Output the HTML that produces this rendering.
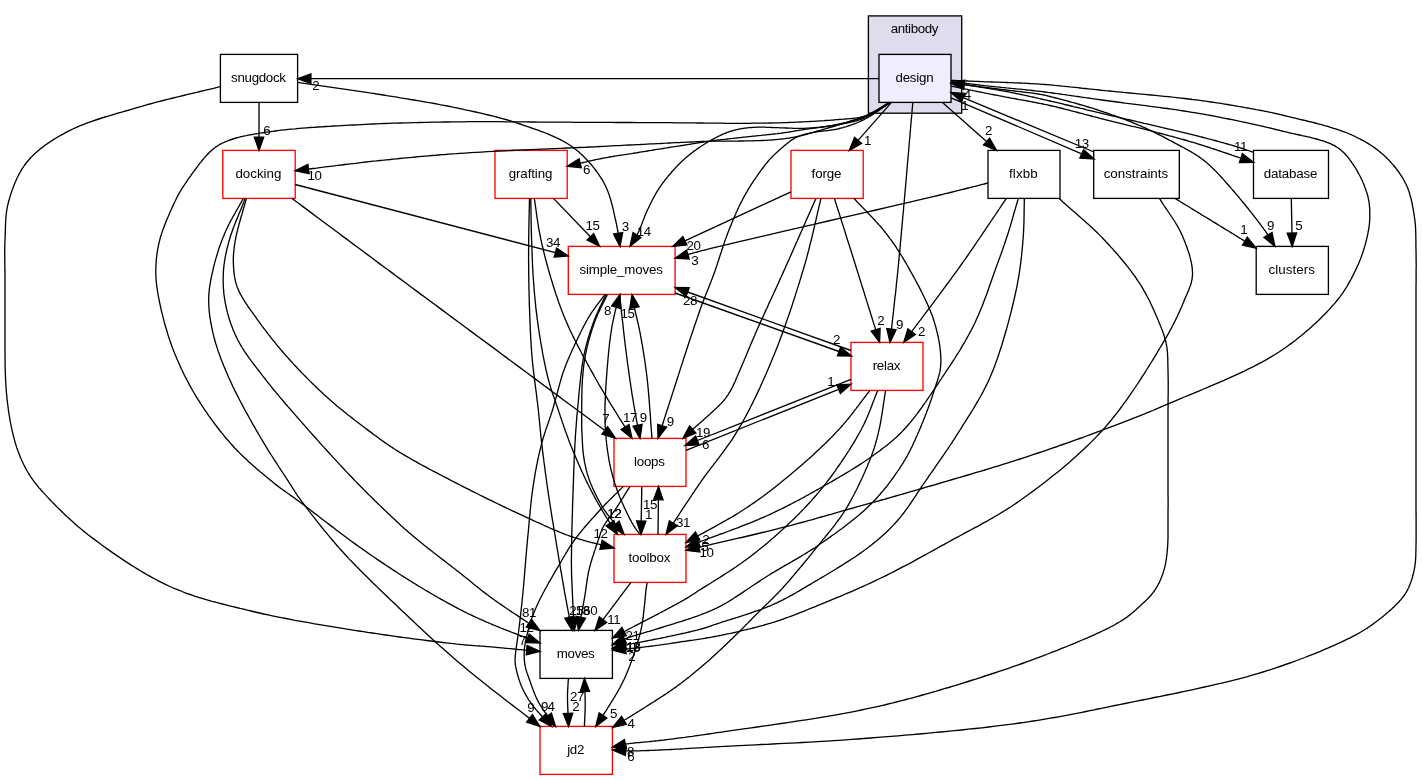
<!DOCTYPE html>
<html><head><meta charset="utf-8"><title>design</title>
<style>
html,body{margin:0;padding:0;background:#fff;}
svg{display:block;will-change:transform;}
text{font-family:"Liberation Sans",sans-serif;font-size:13.33px;fill:#000;}
.e{fill:none;stroke:#000;stroke-width:1.33;}
.a{fill:#000;stroke:#000;stroke-width:1.33;stroke-linejoin:miter;}
</style></head><body>
<svg width="1422" height="780" viewBox="0 0 1422 780">
<rect x="0" y="0" width="1422" height="780" fill="#fff"/>
<rect x="868.4" y="15.9" width="93.3" height="97.3" fill="#ddddee" stroke="#000" stroke-width="1.33"/>
<text x="914.4" y="33.4" text-anchor="middle" letter-spacing="-0.4">antibody</text>
<rect x="879" y="54.4" width="72" height="48" fill="#eeeeff" stroke="#000" stroke-width="1.33"/>
<text x="914.4" y="82.4" text-anchor="middle" letter-spacing="-0.24">design</text>
<rect x="220.4" y="54.4" width="77.2" height="48" fill="#fff" stroke="#000" stroke-width="1.33"/>
<text x="258.4" y="82.4" text-anchor="middle" letter-spacing="-0.31">snugdock</text>
<rect x="222.8" y="150.4" width="72.4" height="48" fill="#fff" stroke="#ff0000" stroke-width="1.33"/>
<text x="258.4" y="178.4" text-anchor="middle" letter-spacing="0">docking</text>
<rect x="495" y="150.4" width="72.2" height="48" fill="#fff" stroke="#ff0000" stroke-width="1.33"/>
<text x="530.5" y="178.4" text-anchor="middle" letter-spacing="-0.1">grafting</text>
<rect x="791" y="150.4" width="72.2" height="48" fill="#fff" stroke="#ff0000" stroke-width="1.33"/>
<text x="826.5" y="178.4" text-anchor="middle" letter-spacing="-0.1">forge</text>
<rect x="988" y="150.4" width="72" height="48" fill="#fff" stroke="#000" stroke-width="1.33"/>
<text x="1023.4" y="178.4" text-anchor="middle" letter-spacing="0.1">flxbb</text>
<rect x="1093.7" y="150.4" width="85.6" height="48" fill="#fff" stroke="#000" stroke-width="1.33"/>
<text x="1135.9" y="178.4" text-anchor="middle" letter-spacing="0">constraints</text>
<rect x="1253.5" y="150.4" width="75" height="48" fill="#fff" stroke="#000" stroke-width="1.33"/>
<text x="1290.4" y="178.4" text-anchor="middle" letter-spacing="-0.17">database</text>
<rect x="568.3" y="246.4" width="106.8" height="48" fill="#fff" stroke="#ff0000" stroke-width="1.33"/>
<text x="621.1" y="274.4" text-anchor="middle" letter-spacing="-0.16">simple_moves</text>
<rect x="1256.2" y="246.4" width="72.2" height="48" fill="#fff" stroke="#000" stroke-width="1.33"/>
<text x="1291.7" y="274.4" text-anchor="middle" letter-spacing="0.06">clusters</text>
<rect x="851" y="342.4" width="72" height="48" fill="#fff" stroke="#ff0000" stroke-width="1.33"/>
<text x="886.4" y="370.4" text-anchor="middle" letter-spacing="-0.27">relax</text>
<rect x="614" y="438.4" width="72" height="48" fill="#fff" stroke="#ff0000" stroke-width="1.33"/>
<text x="649.4" y="466.4" text-anchor="middle" letter-spacing="-0.25">loops</text>
<rect x="614" y="534.4" width="72" height="48" fill="#fff" stroke="#ff0000" stroke-width="1.33"/>
<text x="649.4" y="562.4" text-anchor="middle" letter-spacing="-0.18">toolbox</text>
<rect x="540" y="630.4" width="72.4" height="48" fill="#fff" stroke="#000" stroke-width="1.33"/>
<text x="575.6" y="658.4" text-anchor="middle" letter-spacing="-0.32">moves</text>
<rect x="540" y="726.4" width="72.4" height="48" fill="#fff" stroke="#ff0000" stroke-width="1.33"/>
<text x="575.6" y="754.4" text-anchor="middle" letter-spacing="-0.35">jd2</text>
<path class="e" d="M879,78.7 L310.9,78.7"/>
<polygon class="a" points="310.9,74 297.6,78.7 310.9,83.4"/>
<path class="e" d="M890,102.4 L889.1,102.9 L888.2,103.4 L887.2,103.9 L886.3,104.5 L885.4,105 L884.5,105.5 L883.5,106.1 L882.6,106.6 L881.7,107.1 L880.8,107.7 L879.8,108.2 L878.9,108.7 L878,109.3 L877.1,109.8 L876.1,110.3 L875.2,110.8 L874.3,111.3 L873.4,111.8 L872.5,112.3 L871.6,112.8 L870.7,113.2 L869.8,113.7 L868.9,114.1 L868,114.5 L867.2,114.9 L866.5,115.2 L865.7,115.5 L865,115.8 L864.3,116.1 L863.5,116.4 L862.8,116.7 L862.1,117 L861.4,117.3 L860.7,117.6 L860,117.8 L859.2,118.1 L858.5,118.4 L857.8,118.6 L857.1,118.9 L856.3,119.1 L855.6,119.4 L854.8,119.7 L854.1,119.9 L853.3,120.2 L852.5,120.5 L851.7,120.7 L850.8,121 L850,121.3 L848.9,121.7 L847.7,122.1 L846.5,122.5 L845.3,122.8 L844,123.2 L842.8,123.6 L841.5,124 L840.1,124.4 L838.8,124.8 L837.5,125.2 L836.1,125.7 L834.8,126.1 L833.4,126.5 L832,126.9 L830.7,127.3 L829.3,127.6 L828,128 L826.6,128.4 L825.3,128.8 L824,129.2 L822.7,129.5 L821.5,129.9 L820.2,130.3 L819,130.6 L818,130.9 L817,131.2 L816,131.5 L815,131.8 L814,132.1 L813,132.3 L812.1,132.6 L811.1,132.9 L810.1,133.2 L809.2,133.5 L808.3,133.7 L807.3,134 L806.4,134.3 L805.4,134.5 L804.5,134.8 L803.6,135 L802.6,135.3 L801.7,135.5 L800.8,135.7 L799.8,136 L798.9,136.2 L797.9,136.4 L797,136.6 L796,136.8 L795,137 L794.1,137.2 L793.1,137.3 L792.2,137.5 L791.3,137.7 L790.3,137.8 L789.4,138 L788.4,138.1 L787.5,138.3 L786.5,138.4 L785.6,138.5 L784.6,138.7 L783.7,138.8 L782.7,138.9 L781.8,139 L780.8,139.1 L779.8,139.2 L778.9,139.3 L777.9,139.4 L776.9,139.5 L775.9,139.6 L774.9,139.7 L773.8,139.8 L772.8,139.9 L771.6,140 L770.4,140.1 L769.2,140.2 L767.9,140.2 L766.7,140.3 L765.4,140.4 L764.1,140.4 L762.8,140.5 L761.5,140.5 L760.2,140.6 L758.9,140.6 L757.6,140.7 L756.3,140.7 L755,140.7 L753.7,140.8 L752.4,140.8 L751,140.8 L749.7,140.9 L748.4,140.9 L747.1,140.9 L745.8,140.9 L744.5,140.9 L743.2,141 L741.9,141 L740.6,141 L739.3,141 L738,141.1 L736.8,141.1 L735.5,141.1 L734.2,141.1 L732.9,141.1 L731.6,141.1 L730.3,141.1 L729,141.1 L727.7,141.1 L726.5,141.1 L725.2,141.1 L723.9,141.1 L722.6,141.1 L721.3,141.1 L720,141.1 L718.7,141.1 L717.4,141.1 L716.2,141.1 L714.9,141.1 L713.6,141.1 L712.3,141.2 L711,141.2 L709.7,141.2 L708.5,141.3 L707.2,141.3 L706,141.3 L704.8,141.4 L703.6,141.4 L702.4,141.5 L701.2,141.5 L700,141.6 L698.8,141.6 L697.6,141.7 L696.4,141.7 L695.2,141.8 L693.9,141.8 L692.7,141.9 L691.4,142 L690.1,142 L688.8,142.1 L687.4,142.2 L686,142.2 L684.6,142.3 L683.1,142.4 L681.6,142.4 L680,142.5 L677.4,142.6 L674.7,142.7 L671.9,142.9 L669.1,143 L666.1,143.2 L663.1,143.3 L660.1,143.5 L656.9,143.6 L653.7,143.8 L650.4,143.9 L647.1,144.1 L643.7,144.3 L640.3,144.5 L636.8,144.6 L633.3,144.8 L629.7,145 L626.1,145.2 L622.4,145.4 L618.8,145.6 L615.1,145.7 L611.3,145.9 L607.6,146.1 L603.8,146.3 L600,146.5 L594.9,146.8 L589.6,147 L584.1,147.3 L578.5,147.5 L572.7,147.8 L566.8,148 L560.8,148.3 L554.8,148.6 L548.6,148.8 L542.4,149.1 L536.2,149.4 L530,149.7 L523.8,149.9 L517.5,150.2 L511.3,150.5 L505.2,150.8 L499.1,151.1 L493.2,151.4 L487.3,151.7 L481.5,152.1 L475.9,152.4 L470.4,152.7 L465.1,153.1 L460,153.4 L456.2,153.7 L452.6,153.9 L448.9,154.2 L445.4,154.5 L441.9,154.7 L438.5,155 L435.1,155.3 L431.8,155.5 L428.5,155.8 L425.2,156.1 L422,156.4 L418.7,156.7 L415.5,157 L412.4,157.3 L409.2,157.6 L406,157.9 L402.8,158.2 L399.6,158.5 L396.4,158.8 L393.2,159.1 L390,159.5 L386.7,159.8 L383.4,160.2 L380,160.5 L376.5,160.9 L373,161.2 L369.5,161.6 L366,162 L362.5,162.4 L359,162.8 L355.4,163.3 L351.9,163.7 L348.4,164.1 L344.8,164.5 L341.3,165 L337.7,165.4 L334.2,165.9 L330.7,166.3 L327.1,166.7 L323.6,167.2 L320,167.6 L316.5,168.1 L312.9,168.5 L309.4,169 L308.4,169.1"/>
<polygon class="a" points="307.9,164.4 295.2,170.7 309,173.7"/>
<path class="e" d="M890.5,102.4 L889.5,103 L888.6,103.5 L887.6,104.1 L886.6,104.7 L885.7,105.3 L884.7,105.9 L883.8,106.5 L882.9,107.1 L881.9,107.7 L881,108.3 L880,108.9 L879.1,109.5 L878.1,110.1 L877.2,110.7 L876.2,111.3 L875.2,111.9 L874.2,112.4 L873.2,113 L872.2,113.5 L871.2,114 L870.2,114.5 L869.1,115 L868.1,115.5 L867,116 L865.8,116.5 L864.5,117 L863.3,117.5 L862,117.9 L860.7,118.4 L859.4,118.8 L858,119.2 L856.7,119.6 L855.4,120 L854,120.4 L852.6,120.8 L851.2,121.2 L849.9,121.5 L848.5,121.9 L847.1,122.2 L845.7,122.6 L844.3,122.9 L842.9,123.2 L841.5,123.5 L840.1,123.8 L838.8,124.1 L837.4,124.4 L836,124.7 L834.7,125 L833.4,125.3 L832.1,125.5 L830.8,125.8 L829.5,126 L828.2,126.2 L826.9,126.4 L825.5,126.6 L824.2,126.8 L822.9,127 L821.6,127.2 L820.3,127.4 L819,127.6 L817.7,127.7 L816.4,127.9 L815.1,128.1 L813.8,128.2 L812.5,128.4 L811.2,128.6 L810,128.7 L808.7,128.9 L807.5,129.1 L806.2,129.2 L805,129.4 L803.8,129.6 L802.8,129.8 L801.7,129.9 L800.7,130.1 L799.7,130.2 L798.7,130.4 L797.8,130.6 L796.8,130.7 L795.8,130.9 L794.9,131 L793.9,131.2 L793,131.3 L792.1,131.5 L791.1,131.6 L790.2,131.8 L789.2,132 L788.2,132.1 L787.3,132.3 L786.3,132.4 L785.3,132.6 L784.3,132.7 L783.2,132.9 L782.2,133 L781.1,133.2 L780,133.3 L778.6,133.5 L777.1,133.7 L775.6,133.8 L774.1,134 L772.6,134.2 L771,134.4 L769.4,134.5 L767.8,134.7 L766.2,134.9 L764.6,135.1 L762.9,135.2 L761.3,135.4 L759.6,135.6 L757.9,135.7 L756.3,135.9 L754.6,136.1 L753,136.2 L751.4,136.4 L749.7,136.6 L748.1,136.7 L746.5,136.9 L745,137.1 L743.4,137.2 L741.9,137.4 L740.5,137.6 L739.2,137.7 L737.9,137.8 L736.5,138 L735.2,138.1 L733.9,138.3 L732.6,138.4 L731.3,138.6 L730,138.7 L728.7,138.9 L727.4,139 L726.1,139.2 L724.8,139.3 L723.5,139.4 L722.2,139.6 L721,139.7 L719.7,139.9 L718.5,140 L717.2,140.2 L716,140.4 L714.7,140.5 L713.5,140.7 L712.2,140.8 L711,141 L709.9,141.2 L708.8,141.3 L707.7,141.5 L706.6,141.6 L705.6,141.8 L704.5,141.9 L703.5,142.1 L702.4,142.2 L701.4,142.4 L700.4,142.6 L699.3,142.7 L698.3,142.9 L697.3,143 L696.2,143.2 L695.2,143.4 L694.1,143.5 L693,143.7 L691.9,143.9 L690.8,144.1 L689.7,144.3 L688.6,144.4 L687.4,144.6 L686.2,144.8 L685,145 L683.4,145.3 L681.7,145.5 L679.9,145.8 L678.2,146.1 L676.4,146.4 L674.5,146.7 L672.7,146.9 L670.8,147.2 L668.9,147.5 L667,147.9 L665,148.2 L663.1,148.5 L661.1,148.8 L659.2,149.1 L657.2,149.4 L655.3,149.7 L653.3,150 L651.3,150.4 L649.4,150.7 L647.5,151 L645.6,151.3 L643.7,151.6 L641.8,151.9 L640,152.2 L638.3,152.5 L636.6,152.8 L634.9,153 L633.1,153.3 L631.4,153.6 L629.7,153.8 L628,154.1 L626.3,154.3 L624.6,154.6 L623,154.9 L621.3,155.1 L619.6,155.4 L617.9,155.7 L616.2,155.9 L614.6,156.2 L612.9,156.5 L611.3,156.7 L609.6,157 L608,157.3 L606.4,157.6 L604.8,157.9 L603.2,158.2 L601.6,158.5 L600,158.8 L598.6,159.1 L597.1,159.4 L595.7,159.7 L594.3,160 L592.9,160.3 L591.6,160.6 L590.2,160.9 L588.8,161.2 L587.4,161.5 L586.1,161.9 L584.7,162.2 L583.4,162.5 L582,162.8 L580.7,163.2 L580.2,163.3"/>
<polygon class="a" points="579.1,158.7 567.2,166.4 581.3,167.8"/>
<path class="e" d="M891,102.4 L890,103 L888.9,103.7 L887.9,104.3 L886.9,105 L885.9,105.7 L884.9,106.4 L883.8,107 L882.8,107.7 L881.8,108.4 L880.8,109.1 L879.8,109.8 L878.8,110.4 L877.8,111.1 L876.7,111.7 L875.7,112.4 L874.7,113 L873.6,113.7 L872.6,114.3 L871.5,114.8 L870.4,115.4 L869.3,116 L868.2,116.5 L867.1,117 L866,117.5 L864.8,118 L863.6,118.4 L862.3,118.9 L861.1,119.3 L859.8,119.7 L858.5,120.1 L857.3,120.5 L856,120.9 L854.6,121.2 L853.3,121.5 L852,121.9 L850.7,122.2 L849.4,122.5 L848,122.7 L846.7,123 L845.3,123.3 L844,123.5 L842.7,123.8 L841.3,124 L840,124.3 L838.7,124.5 L837.3,124.7 L836,125 L834.7,125.2 L833.4,125.4 L832.1,125.6 L830.8,125.8 L829.5,126 L828.2,126.2 L826.9,126.4 L825.6,126.5 L824.3,126.7 L822.9,126.9 L821.6,127 L820.3,127.1 L819,127.3 L817.7,127.4 L816.4,127.5 L815.1,127.6 L813.8,127.7 L812.5,127.8 L811.2,127.9 L810,128 L808.7,128.1 L807.5,128.1 L806.2,128.2 L805,128.3 L803.8,128.3 L802.8,128.3 L801.8,128.4 L800.7,128.4 L799.7,128.4 L798.8,128.4 L797.8,128.4 L796.8,128.4 L795.8,128.4 L794.9,128.3 L793.9,128.3 L792.9,128.3 L792,128.2 L791,128.2 L790.1,128.2 L789.2,128.1 L788.2,128.1 L787.3,128 L786.3,128 L785.4,128 L784.4,127.9 L783.5,127.9 L782.5,127.9 L781.6,127.8 L780.6,127.8 L779.6,127.8 L778.7,127.7 L777.7,127.7 L776.7,127.7 L775.7,127.6 L774.7,127.6 L773.7,127.6 L772.7,127.5 L771.7,127.5 L770.7,127.4 L769.7,127.4 L768.7,127.3 L767.7,127.3 L766.7,127.3 L765.8,127.2 L764.8,127.2 L763.8,127.2 L762.9,127.2 L761.9,127.2 L761,127.2 L760.1,127.2 L759.2,127.2 L758.3,127.2 L757.4,127.2 L756.7,127.2 L756,127.3 L755.3,127.3 L754.6,127.3 L753.9,127.3 L753.3,127.4 L752.6,127.4 L751.9,127.5 L751.3,127.5 L750.6,127.6 L750,127.6 L749.3,127.7 L748.7,127.7 L748,127.8 L747.4,127.9 L746.8,127.9 L746.2,128 L745.5,128.1 L744.9,128.1 L744.3,128.2 L743.7,128.3 L743.1,128.4 L742.5,128.5 L741.9,128.6 L741.4,128.7 L740.8,128.8 L740.3,128.9 L739.8,129 L739.3,129.1 L738.8,129.2 L738.3,129.3 L737.8,129.4 L737.3,129.5 L736.8,129.6 L736.3,129.7 L735.8,129.8 L735.3,130 L734.8,130.1 L734.3,130.2 L733.8,130.4 L733.4,130.5 L732.9,130.6 L732.4,130.8 L731.9,130.9 L731.4,131 L731,131.2 L730.5,131.3 L730,131.5 L729.5,131.7 L729.1,131.8 L728.6,132 L728.2,132.1 L727.7,132.3 L727.3,132.4 L726.8,132.6 L726.4,132.8 L725.9,132.9 L725.5,133.1 L725.1,133.3 L724.6,133.5 L724.2,133.6 L723.7,133.8 L723.3,134 L722.8,134.2 L722.4,134.4 L721.9,134.6 L721.4,134.8 L721,135.1 L720.5,135.3 L720,135.5 L719.5,135.8 L719,136 L718.3,136.3 L717.6,136.7 L716.8,137.1 L716.1,137.5 L715.3,137.9 L714.5,138.3 L713.7,138.8 L712.9,139.2 L712.1,139.6 L711.3,140.1 L710.4,140.6 L709.6,141.1 L708.8,141.5 L707.9,142 L707.1,142.5 L706.3,143 L705.5,143.5 L704.7,144 L703.8,144.5 L703.1,145 L702.3,145.5 L701.5,146 L700.7,146.5 L700,147 L699.3,147.5 L698.7,147.9 L698,148.4 L697.3,148.8 L696.7,149.3 L696.1,149.7 L695.4,150.2 L694.8,150.6 L694.1,151.1 L693.5,151.6 L692.9,152 L692.3,152.5 L691.7,153 L691.1,153.4 L690.4,153.9 L689.8,154.4 L689.2,154.9 L688.6,155.4 L688,155.9 L687.4,156.4 L686.8,156.9 L686.2,157.4 L685.6,158 L685,158.5 L684.4,159.1 L683.7,159.7 L683.1,160.3 L682.4,160.9 L681.8,161.5 L681.1,162.1 L680.5,162.7 L679.8,163.4 L679.2,164 L678.5,164.7 L677.9,165.3 L677.3,166 L676.6,166.6 L676,167.3 L675.4,168 L674.8,168.6 L674.2,169.3 L673.5,170 L672.9,170.6 L672.3,171.3 L671.7,172 L671.2,172.7 L670.6,173.3 L670,174 L669.5,174.6 L668.9,175.3 L668.4,175.9 L667.8,176.6 L667.3,177.2 L666.8,177.9 L666.3,178.5 L665.8,179.1 L665.2,179.8 L664.7,180.4 L664.2,181.1 L663.7,181.7 L663.2,182.4 L662.7,183.1 L662.3,183.7 L661.8,184.4 L661.3,185.1 L660.8,185.8 L660.3,186.4 L659.9,187.1 L659.4,187.8 L658.9,188.6 L658.5,189.3 L658,190 L657.5,190.8 L657,191.6 L656.5,192.4 L656,193.3 L655.5,194.1 L655.1,195 L654.6,195.8 L654.1,196.7 L653.6,197.6 L653.2,198.4 L652.7,199.3 L652.2,200.2 L651.8,201.1 L651.3,202 L650.9,202.9 L650.4,203.8 L650,204.7 L649.6,205.6 L649.1,206.5 L648.7,207.4 L648.3,208.3 L647.8,209.2 L647.4,210.1 L647,211 L646.6,211.9 L646.2,212.8 L645.8,213.7 L645.4,214.7 L645,215.6 L644.6,216.6 L644.3,217.5 L643.9,218.5 L643.5,219.4 L643.2,220.4 L642.8,221.4 L642.4,222.3 L642.1,223.3 L641.7,224.2 L641.4,225.1 L641,226.1 L640.6,227 L640.3,227.9 L639.9,228.8 L639.5,229.7 L639.2,230.5 L638.8,231.4 L638.4,232.2 L638,233 L637.7,233.6 L637.4,234.3 L637,234.9 L636.9,235"/>
<polygon class="a" points="633,232.6 630,246.4 640.9,237.5"/>
<path class="e" d="M891.5,102.4 L858.1,140.4"/>
<polygon class="a" points="854.6,137.3 849.3,150.4 861.6,143.5"/>
<path class="e" d="M912.8,102.4 L912.4,107.1 L912,111.9 L911.6,116.7 L911.1,121.6 L910.7,126.5 L910.3,131.4 L909.9,136.3 L909.4,141.2 L909,146.2 L908.6,151.1 L908.2,156 L907.7,160.9 L907.3,165.8 L906.9,170.6 L906.5,175.4 L906.1,180.1 L905.7,184.7 L905.3,189.3 L904.9,193.8 L904.5,198.3 L904.1,202.6 L903.7,206.8 L903.4,211 L903,215 L902.7,217.9 L902.5,220.6 L902.2,223.4 L902,226 L901.8,228.7 L901.5,231.2 L901.3,233.8 L901.1,236.3 L900.9,238.7 L900.6,241.2 L900.4,243.6 L900.2,246 L900,248.3 L899.8,250.7 L899.5,253.1 L899.3,255.4 L899.1,257.8 L898.9,260.2 L898.6,262.6 L898.4,265 L898.2,267.5 L897.9,269.9 L897.7,272.4 L897.4,275 L897.1,277.7 L896.8,280.5 L896.5,283.2 L896.3,286 L896,288.8 L895.7,291.6 L895.4,294.4 L895,297.2 L894.7,300 L894.4,302.8 L894.1,305.6 L893.8,308.5 L893.5,311.3 L893.2,314.1 L892.8,317 L892.5,319.8 L892.2,322.6 L891.9,325.5 L891.6,328.3 L891.5,329.2"/>
<polygon class="a" points="886.8,328.6 890,342.4 896.1,329.7"/>
<path class="e" d="M942.5,102.4 L986.5,141.5"/>
<polygon class="a" points="983.4,145 996.5,150.4 989.6,138.1"/>
<path class="e" d="M951,97.8 L1081.7,153.8"/>
<polygon class="a" points="1079.9,158 1094,159 1083.6,149.5"/>
<path class="e" d="M951,86 L952.2,86.3 L953.5,86.5 L954.7,86.8 L956,87 L957.2,87.3 L958.5,87.6 L959.7,87.8 L960.9,88.1 L962.2,88.3 L963.4,88.6 L964.7,88.9 L965.9,89.1 L967.2,89.4 L968.4,89.7 L969.6,89.9 L970.9,90.2 L972.1,90.4 L973.4,90.7 L974.6,90.9 L975.8,91.2 L977.1,91.5 L978.3,91.7 L979.6,92 L980.8,92.2 L982,92.4 L983.2,92.7 L984.4,92.9 L985.6,93.2 L986.8,93.4 L988,93.6 L989.2,93.8 L990.4,94.1 L991.6,94.3 L992.8,94.5 L993.9,94.8 L995.1,95 L996.3,95.2 L997.5,95.4 L998.7,95.7 L999.9,95.9 L1001.2,96.1 L1002.4,96.3 L1003.6,96.6 L1004.9,96.8 L1006.1,97.1 L1007.4,97.3 L1008.7,97.5 L1010,97.8 L1011.5,98.1 L1013.1,98.4 L1014.7,98.7 L1016.2,99 L1017.8,99.3 L1019.4,99.6 L1021.1,99.8 L1022.7,100.1 L1024.3,100.4 L1026,100.7 L1027.6,101 L1029.3,101.3 L1031,101.7 L1032.7,102 L1034.4,102.3 L1036.1,102.6 L1037.8,103 L1039.5,103.3 L1041.2,103.6 L1043,104 L1044.7,104.4 L1046.5,104.7 L1048.2,105.1 L1050,105.5 L1052,106 L1054.1,106.4 L1056.2,106.9 L1058.3,107.5 L1060.4,108 L1062.6,108.5 L1064.8,109.1 L1066.9,109.6 L1069.1,110.2 L1071.3,110.8 L1073.5,111.3 L1075.7,111.9 L1077.9,112.5 L1080.1,113.1 L1082.4,113.7 L1084.6,114.3 L1086.8,114.8 L1089,115.4 L1091.2,116 L1093.4,116.6 L1095.6,117.1 L1097.7,117.7 L1099.9,118.3 L1102,118.8 L1104,119.3 L1106.1,119.8 L1108.1,120.3 L1110.1,120.8 L1112.2,121.3 L1114.2,121.8 L1116.2,122.3 L1118.3,122.8 L1120.3,123.3 L1122.3,123.8 L1124.3,124.3 L1126.3,124.8 L1128.3,125.3 L1130.3,125.8 L1132.3,126.3 L1134.3,126.7 L1136.3,127.2 L1138.3,127.7 L1140.2,128.2 L1142.2,128.7 L1144.2,129.2 L1146.1,129.7 L1148.1,130.2 L1150,130.7 L1151.8,131.2 L1153.6,131.6 L1155.4,132.1 L1157.2,132.6 L1158.9,133 L1160.7,133.5 L1162.4,133.9 L1164.2,134.4 L1165.9,134.8 L1167.7,135.3 L1169.4,135.8 L1171.1,136.2 L1172.8,136.7 L1174.6,137.2 L1176.3,137.6 L1178,138.1 L1179.8,138.6 L1181.5,139.1 L1183.2,139.5 L1185,140 L1186.7,140.5 L1188.5,141.1 L1190.2,141.6 L1192,142.1 L1193.9,142.7 L1195.8,143.2 L1197.7,143.8 L1199.7,144.5 L1201.7,145.1 L1203.7,145.7 L1205.7,146.4 L1207.7,147 L1209.8,147.7 L1211.8,148.4 L1213.8,149 L1215.8,149.7 L1217.8,150.4 L1219.8,151 L1221.7,151.7 L1223.6,152.3 L1225.5,152.9 L1227.3,153.5 L1229.1,154.1 L1230.8,154.7 L1232.4,155.3 L1234,155.8 L1235.5,156.3 L1237,156.8 L1237.8,157.1 L1238.7,157.4 L1239.5,157.6 L1240.2,157.9 L1240.9,158.1"/>
<polygon class="a" points="1239.4,162.5 1253.5,162.4 1242.4,153.7"/>
<path class="e" d="M951,82.5 L952.2,82.7 L953.5,82.9 L954.7,83 L955.8,83.2 L957,83.4 L958.2,83.6 L959.4,83.7 L960.6,83.9 L961.7,84.1 L962.9,84.2 L964.1,84.4 L965.3,84.6 L966.5,84.8 L967.7,84.9 L968.9,85.1 L970.1,85.3 L971.4,85.5 L972.6,85.7 L973.9,85.8 L975.2,86 L976.6,86.2 L978,86.4 L979.4,86.6 L980.8,86.8 L982.9,87.1 L985.2,87.4 L987.6,87.7 L990.1,88 L992.7,88.3 L995.3,88.6 L998.1,89 L1000.9,89.3 L1003.7,89.6 L1006.5,90 L1009.4,90.3 L1012.2,90.6 L1015.1,91 L1017.8,91.3 L1020.5,91.6 L1023.2,92 L1025.8,92.3 L1028.2,92.6 L1030.6,92.9 L1032.8,93.2 L1034.8,93.5 L1036.7,93.8 L1038.5,94 L1040,94.3 L1040.6,94.4 L1041.1,94.5 L1041.6,94.6 L1042.1,94.7 L1042.5,94.8 L1042.9,94.8 L1043.3,94.9 L1043.7,95 L1044.1,95.1 L1044.4,95.1 L1044.7,95.2 L1045.1,95.3 L1045.4,95.4 L1045.8,95.4 L1046.1,95.5 L1046.4,95.6 L1046.8,95.7 L1047.2,95.8 L1047.6,95.9 L1048,96 L1048.5,96.1 L1048.9,96.2 L1049.5,96.4 L1050,96.5 L1051.3,96.8 L1052.7,97.2 L1054.2,97.6 L1055.8,98 L1057.5,98.4 L1059.3,98.9 L1061.1,99.4 L1063,99.9 L1065,100.4 L1067,100.9 L1069.1,101.5 L1071.2,102.1 L1073.3,102.6 L1075.4,103.2 L1077.6,103.8 L1079.8,104.5 L1081.9,105.1 L1084.1,105.7 L1086.2,106.3 L1088.3,107 L1090.4,107.6 L1092.5,108.2 L1094.5,108.9 L1096.4,109.5 L1098.3,110.1 L1100.2,110.8 L1102.2,111.4 L1104.1,112.1 L1106,112.7 L1108,113.4 L1109.9,114.1 L1111.8,114.8 L1113.8,115.4 L1115.7,116.1 L1117.6,116.9 L1119.5,117.6 L1121.5,118.3 L1123.4,119 L1125.2,119.7 L1127.1,120.4 L1129,121.2 L1130.9,121.9 L1132.7,122.7 L1134.5,123.4 L1136.3,124.1 L1138.1,124.9 L1139.9,125.6 L1141.6,126.4 L1143.1,127.1 L1144.6,127.7 L1146.1,128.4 L1147.6,129.1 L1149.1,129.8 L1150.6,130.5 L1152.1,131.2 L1153.5,131.9 L1155,132.6 L1156.4,133.3 L1157.8,134.1 L1159.2,134.8 L1160.6,135.5 L1162,136.2 L1163.4,136.9 L1164.8,137.6 L1166.1,138.4 L1167.5,139.1 L1168.8,139.8 L1170.2,140.5 L1171.5,141.2 L1172.8,141.9 L1174.1,142.6 L1175.4,143.3 L1176.5,143.9 L1177.6,144.5 L1178.7,145.1 L1179.8,145.7 L1180.9,146.3 L1182,146.9 L1183.1,147.4 L1184.2,148 L1185.3,148.6 L1186.3,149.2 L1187.4,149.8 L1188.4,150.4 L1189.5,150.9 L1190.5,151.5 L1191.5,152.1 L1192.5,152.7 L1193.5,153.3 L1194.5,153.9 L1195.4,154.5 L1196.4,155.1 L1197.3,155.7 L1198.2,156.3 L1199.1,156.9 L1200,157.5 L1200.7,158 L1201.4,158.5 L1202,159 L1202.7,159.4 L1203.3,159.9 L1203.9,160.4 L1204.5,160.9 L1205.1,161.3 L1205.6,161.8 L1206.2,162.3 L1206.8,162.7 L1207.3,163.2 L1207.9,163.7 L1208.4,164.2 L1209,164.7 L1209.5,165.2 L1210.1,165.7 L1210.7,166.3 L1211.3,166.9 L1211.9,167.4 L1212.5,168.1 L1213.2,168.7 L1213.8,169.3 L1214.5,170 L1215.6,171.1 L1216.8,172.3 L1218,173.6 L1219.2,174.9 L1220.5,176.3 L1221.8,177.7 L1223.1,179.1 L1224.5,180.6 L1225.8,182.2 L1227.2,183.7 L1228.6,185.3 L1230,186.9 L1231.4,188.6 L1232.8,190.2 L1234.2,191.8 L1235.6,193.5 L1237,195.1 L1238.4,196.7 L1239.7,198.4 L1241,199.9 L1242.3,201.5 L1243.6,203 L1244.8,204.5 L1246,206 L1247,207.3 L1248.1,208.5 L1249.1,209.8 L1250.1,211.1 L1251.1,212.4 L1252.2,213.7 L1253.2,215 L1254.2,216.3 L1255.2,217.6 L1256.2,218.9 L1257.2,220.2 L1258.1,221.4 L1259.1,222.7 L1260,223.9 L1260.9,225.2 L1261.8,226.4 L1262.7,227.5 L1263.5,228.7 L1264.4,229.8 L1265.2,230.9 L1265.9,232 L1266.6,233 L1267.3,234 L1268,235"/>
<polygon class="a" points="1264,237.4 1274.9,246.4 1272,232.6"/>
<path class="e" d="M889,102.4 L888,103.1 L887.1,103.8 L886.1,104.5 L885.2,105.2 L884.3,105.9 L883.3,106.6 L882.4,107.3 L881.5,108 L880.5,108.7 L879.6,109.4 L878.6,110.1 L877.7,110.8 L876.8,111.5 L875.8,112.2 L874.9,112.9 L873.9,113.6 L873,114.3 L872,114.9 L871,115.5 L870,116.2 L869,116.8 L868,117.4 L867,117.9 L866,118.5 L865,119 L863.9,119.6 L862.9,120.1 L861.8,120.6 L860.7,121.1 L859.7,121.6 L858.6,122 L857.5,122.5 L856.4,123 L855.3,123.4 L854.2,123.8 L853.1,124.3 L852,124.7 L850.8,125.1 L849.7,125.5 L848.6,125.8 L847.5,126.2 L846.4,126.6 L845.2,126.9 L844.1,127.2 L843,127.6 L841.8,127.9 L840.7,128.2 L839.6,128.5 L838.5,128.8 L837.4,129 L836.2,129.3 L835.1,129.5 L833.9,129.7 L832.8,129.9 L831.6,130 L830.4,130.2 L829.2,130.4 L828.1,130.5 L826.9,130.6 L825.7,130.8 L824.6,130.9 L823.4,131 L822.3,131.1 L821.1,131.3 L820,131.4 L818.9,131.5 L817.8,131.7 L816.7,131.9 L815.7,132 L814.6,132.2 L813.6,132.4 L812.6,132.6 L811.8,132.8 L811.1,132.9 L810.3,133.1 L809.6,133.3 L808.8,133.4 L808.1,133.6 L807.4,133.7 L806.7,133.9 L806,134.1 L805.3,134.2 L804.6,134.4 L803.9,134.6 L803.2,134.8 L802.6,135 L801.9,135.2 L801.2,135.4 L800.6,135.6 L799.9,135.8 L799.3,136.1 L798.6,136.3 L798,136.6 L797.3,136.9 L796.7,137.2 L796,137.5 L795.3,137.9 L794.6,138.2 L794,138.6 L793.3,139 L792.6,139.4 L792,139.9 L791.3,140.3 L790.6,140.8 L790,141.3 L789.3,141.7 L788.7,142.2 L788,142.7 L787.4,143.2 L786.8,143.8 L786.1,144.3 L785.5,144.8 L784.9,145.3 L784.3,145.8 L783.6,146.4 L783,146.9 L782.4,147.4 L781.8,148 L781.2,148.5 L780.6,149 L780,149.5 L779.4,150 L778.9,150.5 L778.3,151 L777.8,151.5 L777.2,152 L776.7,152.4 L776.2,152.9 L775.6,153.4 L775.1,153.9 L774.6,154.4 L774,154.9 L773.5,155.4 L773,156 L772.5,156.5 L771.9,157 L771.4,157.6 L770.9,158.2 L770.3,158.8 L769.8,159.4 L769.2,160 L768.6,160.6 L768.1,161.3 L767.5,162 L766.6,163.1 L765.7,164.2 L764.8,165.3 L763.9,166.5 L763,167.8 L762,169 L761,170.3 L760.1,171.7 L759.1,173 L758.1,174.4 L757.1,175.9 L756.1,177.3 L755.1,178.8 L754.1,180.2 L753.1,181.7 L752.2,183.2 L751.2,184.7 L750.3,186.2 L749.3,187.7 L748.4,189.2 L747.5,190.6 L746.7,192.1 L745.8,193.6 L745,195 L744.2,196.4 L743.4,197.8 L742.7,199.2 L742,200.6 L741.2,202 L740.5,203.4 L739.8,204.9 L739.1,206.3 L738.5,207.7 L737.8,209.1 L737.2,210.6 L736.5,212 L735.9,213.5 L735.2,214.9 L734.6,216.4 L734,217.9 L733.3,219.3 L732.7,220.8 L732.1,222.3 L731.5,223.8 L730.9,225.4 L730.2,226.9 L729.6,228.4 L729,230 L728.3,231.8 L727.6,233.5 L726.9,235.4 L726.3,237.2 L725.6,239.1 L724.9,240.9 L724.3,242.8 L723.6,244.7 L723,246.7 L722.4,248.6 L721.7,250.5 L721.1,252.5 L720.4,254.4 L719.8,256.3 L719.2,258.3 L718.6,260.2 L717.9,262.1 L717.3,264 L716.7,265.9 L716,267.8 L715.4,269.6 L714.8,271.4 L714.1,273.2 L713.5,275 L712.9,276.5 L712.4,278 L711.8,279.4 L711.3,280.8 L710.8,282.2 L710.2,283.5 L709.7,284.9 L709.2,286.2 L708.7,287.5 L708.2,288.8 L707.6,290.1 L707.1,291.4 L706.6,292.7 L706,294.1 L705.5,295.4 L704.9,296.8 L704.4,298.3 L703.8,299.8 L703.2,301.3 L702.6,302.9 L702,304.6 L701.3,306.3 L700.7,308.1 L700,310 L698.7,313.8 L697.3,317.9 L695.8,322.2 L694.2,326.7 L692.7,331.5 L691,336.4 L689.3,341.5 L687.6,346.8 L685.8,352.2 L684,357.7 L682.2,363.4 L680.3,369.1 L678.5,374.9 L676.6,380.8 L674.7,386.7 L672.8,392.6 L670.9,398.5 L669,404.4 L667.1,410.3 L665.2,416.1 L663.4,421.8 L662.1,425.7"/>
<polygon class="a" points="657.7,424.3 658,438.4 666.6,427.2"/>
<path class="e" d="M951,81.4 L952.2,81.6 L953.5,81.7 L954.7,81.9 L955.8,82 L957,82.2 L958.2,82.3 L959.4,82.5 L960.6,82.6 L961.7,82.8 L962.9,83 L964.1,83.1 L965.3,83.3 L966.5,83.4 L967.7,83.6 L968.9,83.7 L970.1,83.9 L971.4,84.1 L972.6,84.2 L973.9,84.4 L975.2,84.5 L976.6,84.7 L978,84.9 L979.4,85 L980.8,85.2 L982.9,85.4 L985,85.7 L987.2,85.9 L989.5,86.2 L991.8,86.4 L994.2,86.6 L996.6,86.9 L999,87.1 L1001.5,87.4 L1004,87.6 L1006.5,87.9 L1009.1,88.1 L1011.6,88.4 L1014.2,88.6 L1016.8,88.9 L1019.4,89.1 L1022,89.4 L1024.6,89.7 L1027.2,90 L1029.8,90.2 L1032.4,90.5 L1035,90.8 L1037.5,91.1 L1040,91.4 L1042.5,91.7 L1045.1,92 L1047.6,92.4 L1050.1,92.7 L1052.6,93 L1055.1,93.3 L1057.6,93.7 L1060,94 L1062.5,94.4 L1065,94.7 L1067.5,95.1 L1070,95.4 L1072.6,95.8 L1075.1,96.2 L1077.7,96.5 L1080.2,96.9 L1082.8,97.3 L1085.5,97.7 L1088.1,98 L1090.8,98.4 L1093.6,98.8 L1096.3,99.2 L1099.1,99.6 L1102,100 L1105.7,100.5 L1109.4,101 L1113.2,101.5 L1117.1,102 L1121.1,102.5 L1125.1,103.1 L1129.2,103.6 L1133.4,104.1 L1137.5,104.6 L1141.7,105.2 L1145.9,105.7 L1150.2,106.3 L1154.4,106.8 L1158.7,107.4 L1162.9,108 L1167.2,108.5 L1171.4,109.1 L1175.6,109.7 L1179.8,110.4 L1183.9,111 L1188,111.6 L1192.1,112.3 L1196.1,112.9 L1200,113.6 L1203.6,114.2 L1207.2,114.9 L1210.7,115.5 L1214.3,116.2 L1217.9,116.9 L1221.5,117.6 L1225,118.3 L1228.6,119 L1232.1,119.7 L1235.6,120.4 L1239.1,121.2 L1242.6,121.9 L1246.1,122.6 L1249.5,123.4 L1252.9,124.1 L1256.3,124.9 L1259.6,125.7 L1262.9,126.4 L1266.2,127.2 L1269.4,127.9 L1272.6,128.7 L1275.8,129.5 L1278.9,130.2 L1282,131 L1284.5,131.6 L1287,132.2 L1289.5,132.8 L1292.1,133.4 L1294.6,133.9 L1297.1,134.5 L1299.6,135 L1302.1,135.6 L1304.6,136.1 L1307,136.7 L1309.4,137.2 L1311.8,137.8 L1314.1,138.4 L1316.4,139 L1318.7,139.6 L1320.9,140.3 L1323,140.9 L1325.1,141.6 L1327.1,142.4 L1329,143.1 L1330.9,143.9 L1332.7,144.8 L1334.4,145.7 L1336,146.6 L1337,147.3 L1338.1,147.9 L1339,148.6 L1340,149.3 L1340.8,150 L1341.7,150.8 L1342.5,151.5 L1343.3,152.2 L1344.1,153 L1344.9,153.8 L1345.6,154.5 L1346.3,155.3 L1347,156.1 L1347.7,157 L1348.3,157.8 L1349,158.6 L1349.6,159.5 L1350.2,160.4 L1350.9,161.2 L1351.5,162.1 L1352.1,163 L1352.7,163.9 L1353.4,164.9 L1354,165.8 L1354.7,166.9 L1355.4,167.9 L1356.1,169.1 L1356.8,170.2 L1357.5,171.4 L1358.1,172.6 L1358.8,173.8 L1359.4,175 L1360.1,176.2 L1360.7,177.5 L1361.3,178.8 L1361.9,180 L1362.5,181.3 L1363,182.6 L1363.6,183.9 L1364.1,185.1 L1364.6,186.4 L1365.1,187.7 L1365.6,188.9 L1366,190.2 L1366.4,191.4 L1366.8,192.6 L1367.2,193.8 L1367.5,195 L1367.8,196 L1368,196.9 L1368.2,197.9 L1368.4,198.9 L1368.6,199.8 L1368.8,200.8 L1368.9,201.7 L1369.1,202.6 L1369.2,203.6 L1369.3,204.5 L1369.4,205.4 L1369.5,206.4 L1369.6,207.3 L1369.7,208.2 L1369.7,209.1 L1369.8,210.1 L1369.8,211 L1369.8,211.9 L1369.8,212.8 L1369.8,213.8 L1369.8,214.7 L1369.8,215.6 L1369.8,216.6 L1369.8,217.5 L1369.8,218.4 L1369.7,219.4 L1369.7,220.3 L1369.6,221.2 L1369.5,222.2 L1369.5,223.1 L1369.4,224 L1369.3,224.9 L1369.2,225.9 L1369,226.8 L1368.9,227.7 L1368.8,228.7 L1368.6,229.6 L1368.4,230.5 L1368.3,231.5 L1368.1,232.4 L1367.9,233.3 L1367.7,234.3 L1367.5,235.2 L1367.3,236.2 L1367.1,237.1 L1366.9,238.1 L1366.6,239 L1366.4,240 L1366.1,241.1 L1365.8,242.2 L1365.6,243.3 L1365.3,244.4 L1365,245.5 L1364.6,246.6 L1364.3,247.7 L1364,248.8 L1363.6,249.9 L1363.3,251 L1362.9,252.2 L1362.5,253.3 L1362.1,254.4 L1361.7,255.5 L1361.3,256.7 L1360.9,257.8 L1360.5,258.9 L1360,260.1 L1359.5,261.2 L1359.1,262.4 L1358.6,263.5 L1358.1,264.7 L1357.5,265.8 L1357,267 L1356.4,268.4 L1355.7,269.7 L1355.1,271.1 L1354.4,272.5 L1353.7,273.9 L1353,275.3 L1352.3,276.7 L1351.6,278.1 L1350.9,279.5 L1350.1,280.9 L1349.3,282.3 L1348.5,283.7 L1347.7,285.1 L1346.9,286.6 L1346,288 L1345.1,289.4 L1344.1,290.9 L1343.2,292.3 L1342.2,293.7 L1341.1,295.2 L1340.1,296.6 L1338.9,298.1 L1337.8,299.5 L1336.6,301 L1334.9,303.1 L1333.1,305.1 L1331.2,307.2 L1329.3,309.4 L1327.3,311.5 L1325.2,313.7 L1323.1,315.8 L1320.9,318 L1318.7,320.2 L1316.4,322.4 L1314,324.6 L1311.6,326.8 L1309.2,329 L1306.6,331.1 L1304.1,333.3 L1301.5,335.5 L1298.8,337.6 L1296.1,339.8 L1293.4,341.9 L1290.6,343.9 L1287.7,346 L1284.9,348 L1281.9,350 L1279,352 L1275.1,354.5 L1271.1,356.9 L1266.9,359.3 L1262.5,361.8 L1258,364.2 L1253.4,366.6 L1248.6,368.9 L1243.8,371.3 L1238.9,373.6 L1233.9,375.9 L1228.9,378.1 L1223.9,380.4 L1218.8,382.6 L1213.8,384.7 L1208.7,386.9 L1203.7,389 L1198.8,391.1 L1193.9,393.1 L1189.1,395.1 L1184.4,397 L1179.9,398.9 L1175.4,400.8 L1171.1,402.6 L1167,404.4 L1164,405.7 L1161.1,406.9 L1158.2,408.2 L1155.4,409.3 L1152.7,410.5 L1150,411.6 L1147.3,412.7 L1144.7,413.8 L1142,414.8 L1139.5,415.9 L1136.9,416.9 L1134.3,417.9 L1131.8,418.9 L1129.3,419.9 L1126.7,420.9 L1124.2,421.9 L1121.6,422.9 L1119,423.9 L1116.4,424.9 L1113.7,425.9 L1111,426.9 L1108.3,427.9 L1105.5,428.9 L1102.7,430 L1099.5,431.2 L1096.2,432.4 L1093,433.6 L1089.7,434.8 L1086.4,436 L1083.1,437.3 L1079.7,438.5 L1076.4,439.7 L1073,440.9 L1069.6,442.1 L1066.2,443.3 L1062.7,444.5 L1059.3,445.7 L1055.8,447 L1052.3,448.2 L1048.8,449.4 L1045.3,450.6 L1041.7,451.8 L1038.1,453 L1034.5,454.2 L1030.9,455.4 L1027.3,456.6 L1023.7,457.8 L1020,459 L1015.8,460.3 L1011.6,461.7 L1007.2,463.1 L1002.8,464.4 L998.4,465.8 L993.9,467.2 L989.3,468.6 L984.8,470 L980.2,471.4 L975.5,472.7 L970.9,474.1 L966.3,475.5 L961.7,476.9 L957.1,478.2 L952.5,479.5 L948,480.9 L943.5,482.2 L939,483.5 L934.6,484.8 L930.3,486 L926,487.2 L921.9,488.5 L917.8,489.6 L913.8,490.8 L910.7,491.7 L907.6,492.6 L904.6,493.5 L901.6,494.3 L898.6,495.2 L895.7,496 L892.8,496.8 L890,497.7 L887.1,498.5 L884.3,499.3 L881.5,500 L878.7,500.8 L876,501.6 L873.2,502.4 L870.5,503.1 L867.8,503.9 L865,504.7 L862.3,505.4 L859.6,506.2 L856.9,506.9 L854.2,507.7 L851.5,508.5 L848.7,509.2 L846,510 L843.4,510.7 L840.9,511.4 L838.4,512.2 L835.9,512.9 L833.4,513.6 L831,514.3 L828.6,514.9 L826.1,515.6 L823.7,516.3 L821.3,517 L818.9,517.7 L816.5,518.4 L814.1,519.1 L811.6,519.8 L809.2,520.4 L806.7,521.1 L804.2,521.8 L801.6,522.5 L799,523.2 L796.4,523.9 L793.8,524.6 L791.1,525.4 L788.3,526.1 L785.5,526.8 L781.8,527.7 L778.1,528.7 L774.3,529.6 L770.4,530.6 L766.4,531.6 L762.4,532.5 L758.3,533.5 L754.2,534.5 L750,535.5 L745.8,536.5 L741.6,537.5 L737.3,538.4 L733,539.4 L728.7,540.4 L724.4,541.4 L720.1,542.4 L715.8,543.4 L711.5,544.4 L707.2,545.4 L702.9,546.4 L699,547.3"/>
<polygon class="a" points="697.9,542.8 686,550.4 700,551.9"/>
<path class="e" d="M889,102.4 L888,103 L887.1,103.6 L886.1,104.2 L885.2,104.8 L884.2,105.4 L883.3,106 L882.3,106.6 L881.4,107.3 L880.5,107.9 L879.5,108.5 L878.6,109.1 L877.6,109.7 L876.7,110.4 L875.7,110.9 L874.8,111.5 L873.8,112.1 L872.8,112.7 L871.8,113.2 L870.8,113.7 L869.8,114.2 L868.8,114.7 L867.7,115.1 L866.7,115.5 L865.6,115.9 L864.4,116.3 L863.3,116.6 L862.1,116.9 L860.9,117.2 L859.7,117.5 L858.4,117.7 L857.2,117.9 L856,118.1 L854.7,118.2 L853.5,118.4 L852.2,118.5 L850.9,118.6 L849.6,118.7 L848.3,118.8 L847,118.9 L845.7,119 L844.4,119.1 L843,119.2 L841.7,119.3 L840.3,119.4 L838.9,119.5 L837.5,119.6 L836.1,119.7 L834.7,119.8 L832.9,120 L831.2,120.1 L829.4,120.3 L827.5,120.4 L825.7,120.5 L823.8,120.7 L821.9,120.8 L819.9,120.9 L818,121.1 L816,121.2 L814.1,121.3 L812.1,121.4 L810.1,121.5 L808.1,121.6 L806.1,121.7 L804.1,121.8 L802.1,121.9 L800.1,122 L798.1,122.1 L796.1,122.2 L794.2,122.3 L792.2,122.3 L790.2,122.4 L788.3,122.5 L786.4,122.6 L784.5,122.6 L782.5,122.7 L780.6,122.8 L778.8,122.8 L776.9,122.9 L775,122.9 L773.1,122.9 L771.2,123 L769.3,123 L767.4,123.1 L765.5,123.1 L763.6,123.1 L761.7,123.1 L759.8,123.2 L757.9,123.2 L755.9,123.2 L754,123.2 L752,123.2 L750,123.3 L748,123.3 L746,123.3 L744,123.3 L741.9,123.3 L739.5,123.3 L737.1,123.3 L734.7,123.3 L732.3,123.3 L729.9,123.3 L727.5,123.3 L725.1,123.3 L722.7,123.2 L720.2,123.2 L717.8,123.2 L715.3,123.2 L712.8,123.1 L710.2,123.1 L707.7,123.1 L705.1,123.1 L702.5,123 L699.8,123 L697.1,123 L694.4,122.9 L691.6,122.9 L688.8,122.9 L685.9,122.8 L683,122.8 L680,122.8 L675.7,122.8 L671.3,122.7 L666.8,122.7 L662.2,122.7 L657.4,122.7 L652.5,122.6 L647.6,122.6 L642.5,122.6 L637.4,122.6 L632.2,122.5 L627,122.5 L621.8,122.5 L616.5,122.5 L611.2,122.4 L605.9,122.4 L600.6,122.4 L595.4,122.4 L590.2,122.3 L585,122.3 L579.8,122.3 L574.7,122.3 L569.7,122.2 L564.8,122.2 L560,122.2 L555.7,122.2 L551.3,122.2 L547,122.1 L542.8,122.1 L538.5,122.1 L534.3,122 L530.1,122 L525.9,121.9 L521.7,121.9 L517.6,121.9 L513.4,121.8 L509.3,121.8 L505.1,121.8 L501,121.7 L496.9,121.7 L492.8,121.7 L488.7,121.7 L484.6,121.7 L480.5,121.7 L476.4,121.7 L472.3,121.7 L468.2,121.7 L464.1,121.8 L460,121.8 L456,121.8 L452,121.9 L448,122 L444,122 L440,122.1 L436,122.1 L432,122.2 L428.1,122.3 L424.1,122.4 L420.1,122.5 L416.1,122.6 L412.2,122.7 L408.2,122.8 L404.3,122.9 L400.3,123 L396.4,123.1 L392.4,123.2 L388.5,123.4 L384.6,123.5 L380.7,123.7 L376.7,123.9 L372.8,124 L368.9,124.2 L365,124.4 L361.2,124.6 L357.3,124.8 L353.4,125 L349.5,125.2 L345.5,125.4 L341.6,125.6 L337.6,125.8 L333.6,126 L329.7,126.3 L325.7,126.5 L321.8,126.8 L317.9,127 L314,127.3 L310.1,127.5 L306.3,127.8 L302.6,128.1 L298.9,128.4 L295.2,128.8 L291.7,129.1 L288.2,129.4 L284.7,129.8 L281.4,130.2 L278.1,130.6 L275,131 L272.8,131.3 L270.6,131.6 L268.5,131.9 L266.3,132.2 L264.2,132.5 L262.1,132.8 L260.1,133.1 L258,133.5 L256,133.8 L254,134.1 L252.1,134.5 L250.1,134.8 L248.3,135.2 L246.4,135.6 L244.6,135.9 L242.8,136.3 L241.1,136.7 L239.3,137.2 L237.7,137.6 L236.1,138 L234.5,138.5 L232.9,139 L231.4,139.5 L230,140 L229.1,140.3 L228.2,140.7 L227.3,141 L226.4,141.4 L225.6,141.7 L224.8,142 L224.1,142.4 L223.3,142.7 L222.6,143 L221.8,143.4 L221.1,143.7 L220.4,144.1 L219.7,144.5 L219,144.9 L218.4,145.3 L217.7,145.7 L217,146.2 L216.3,146.7 L215.6,147.1 L214.9,147.7 L214.2,148.2 L213.5,148.8 L212.8,149.4 L212,150 L210.9,151 L209.7,152.1 L208.6,153.2 L207.4,154.5 L206.2,155.8 L205,157.1 L203.7,158.6 L202.5,160 L201.3,161.6 L200,163.1 L198.8,164.7 L197.6,166.3 L196.4,167.9 L195.2,169.5 L194,171.1 L192.9,172.7 L191.8,174.2 L190.7,175.8 L189.6,177.3 L188.6,178.7 L187.6,180.1 L186.7,181.5 L185.8,182.8 L185,184 L184.5,184.8 L184,185.5 L183.5,186.2 L183.1,186.9 L182.6,187.5 L182.2,188.2 L181.8,188.8 L181.4,189.4 L181.1,190 L180.7,190.6 L180.3,191.2 L180,191.8 L179.6,192.4 L179.3,193 L179,193.6 L178.6,194.3 L178.3,194.9 L177.9,195.5 L177.6,196.2 L177.2,196.9 L176.9,197.6 L176.5,198.4 L176.1,199.2 L175.7,200 L175.1,201.3 L174.4,202.7 L173.7,204.1 L173,205.6 L172.3,207.1 L171.6,208.7 L170.9,210.3 L170.1,212 L169.4,213.7 L168.6,215.4 L167.9,217.2 L167.1,218.9 L166.4,220.7 L165.7,222.5 L165,224.3 L164.3,226.1 L163.6,227.9 L163,229.6 L162.4,231.4 L161.8,233.1 L161.2,234.9 L160.7,236.5 L160.2,238.2 L159.8,239.8 L159.5,241.2 L159.1,242.5 L158.8,243.9 L158.5,245.2 L158.2,246.6 L158,247.9 L157.7,249.3 L157.5,250.6 L157.3,251.9 L157.1,253.2 L156.9,254.5 L156.7,255.9 L156.6,257.2 L156.4,258.5 L156.3,259.8 L156.2,261.1 L156.1,262.4 L156,263.7 L156,265 L155.9,266.3 L155.9,267.6 L155.8,269 L155.8,270.3 L155.8,271.6 L155.8,272.9 L155.8,274.2 L155.9,275.5 L155.9,276.8 L156,278.1 L156.1,279.4 L156.2,280.7 L156.3,282 L156.4,283.3 L156.6,284.6 L156.7,285.8 L156.9,287.1 L157.1,288.4 L157.3,289.7 L157.5,291.1 L157.7,292.4 L157.9,293.7 L158.2,295 L158.4,296.4 L158.7,297.8 L158.9,299.1 L159.2,300.5 L159.5,302 L159.8,303.4 L160.2,305.2 L160.6,307.1 L161,308.9 L161.4,310.8 L161.9,312.8 L162.4,314.7 L162.9,316.7 L163.4,318.7 L163.9,320.7 L164.4,322.7 L165,324.7 L165.6,326.7 L166.2,328.8 L166.8,330.8 L167.4,332.9 L168,334.9 L168.7,337 L169.4,339 L170,341 L170.8,343.1 L171.5,345.1 L172.2,347.1 L172.9,349 L173.7,351 L174.5,353 L175.3,355 L176.2,357.1 L177,359.1 L177.9,361.1 L178.8,363.1 L179.7,365.1 L180.6,367.2 L181.5,369.2 L182.5,371.2 L183.5,373.2 L184.4,375.2 L185.4,377.2 L186.5,379.1 L187.5,381.1 L188.6,383.1 L189.6,385.1 L190.7,387.1 L191.8,389 L192.9,391 L194.1,393 L195.2,394.9 L196.4,396.9 L197.6,398.8 L198.9,400.9 L200.2,402.9 L201.5,405 L202.9,407 L204.2,409.1 L205.6,411.2 L207.1,413.2 L208.5,415.3 L210,417.3 L211.4,419.4 L212.9,421.4 L214.4,423.5 L216,425.5 L217.5,427.5 L219,429.5 L220.6,431.5 L222.2,433.4 L223.8,435.4 L225.3,437.3 L226.9,439.2 L228.6,441 L230.2,442.9 L231.8,444.7 L233.4,446.5 L234.9,448.2 L236.5,449.8 L238.1,451.5 L239.8,453.1 L241.4,454.8 L243.1,456.4 L244.8,458 L246.5,459.6 L248.2,461.2 L249.9,462.7 L251.6,464.3 L253.3,465.8 L255,467.3 L256.7,468.8 L258.4,470.2 L260.1,471.7 L261.8,473.1 L263.5,474.5 L265.1,475.8 L266.8,477.2 L268.4,478.5 L269.9,479.8 L271.5,481.1 L273,482.3 L274.1,483.2 L275.2,484.1 L276.3,484.9 L277.4,485.8 L278.4,486.6 L279.4,487.3 L280.4,488.1 L281.4,488.8 L282.4,489.5 L283.4,490.2 L284.4,490.9 L285.4,491.6 L286.3,492.3 L287.3,493 L288.3,493.7 L289.4,494.4 L290.4,495.2 L291.5,495.9 L292.6,496.7 L293.7,497.5 L294.8,498.3 L296,499.2 L297.2,500.1 L298.5,501 L300.5,502.5 L302.7,504.1 L304.9,505.8 L307.1,507.5 L309.5,509.3 L311.9,511.2 L314.3,513.1 L316.9,515 L319.4,517 L322,519 L324.6,521 L327.3,523 L330,525.1 L332.7,527.1 L335.4,529.2 L338,531.2 L340.7,533.3 L343.4,535.3 L346.1,537.3 L348.7,539.3 L351.4,541.2 L354,543.1 L356.5,544.9 L359,546.7 L361.3,548.3 L363.6,549.9 L365.9,551.5 L368.1,553.1 L370.4,554.7 L372.7,556.3 L375,557.8 L377.2,559.4 L379.5,560.9 L381.8,562.4 L384,563.9 L386.3,565.5 L388.5,566.9 L390.8,568.4 L393,569.9 L395.3,571.4 L397.5,572.8 L399.7,574.2 L402,575.7 L404.2,577.1 L406.4,578.5 L408.6,579.9 L410.8,581.2 L413,582.6 L415,583.8 L417,585.1 L419,586.3 L421.1,587.5 L423.1,588.7 L425.1,590 L427.2,591.2 L429.2,592.4 L431.2,593.5 L433.2,594.7 L435.2,595.9 L437.2,597 L439.2,598.2 L441.2,599.3 L443.2,600.4 L445.1,601.5 L447.1,602.6 L449,603.6 L450.9,604.7 L452.8,605.7 L454.6,606.7 L456.4,607.6 L458.2,608.6 L460,609.5 L461.4,610.2 L462.7,610.9 L464,611.6 L465.3,612.2 L466.6,612.8 L467.8,613.5 L469.1,614.1 L470.3,614.7 L471.5,615.2 L472.8,615.8 L474,616.4 L475.2,616.9 L476.4,617.5 L477.6,618 L478.8,618.6 L480,619.1 L481.2,619.7 L482.4,620.2 L483.6,620.7 L484.9,621.3 L486.1,621.8 L487.4,622.4 L488.7,622.9 L490,623.5 L491.5,624.1 L493,624.8 L494.5,625.4 L496,626 L497.6,626.7 L499.2,627.3 L500.9,628 L502.5,628.6 L504.1,629.3 L505.8,629.9 L507.4,630.6 L509,631.2 L510.7,631.9 L512.3,632.5 L513.9,633.1 L515.4,633.7 L516.9,634.3 L518.4,634.8 L519.9,635.4 L521.3,635.9 L522.7,636.5 L524,637 L525.2,637.4 L526.4,637.9 L527.1,638.2 L527.5,638.3"/>
<polygon class="a" points="525.9,642.7 540,643 529.2,634"/>
<path class="e" d="M951,80.3 L952.2,80.4 L953.5,80.4 L954.7,80.5 L955.8,80.5 L957,80.6 L958.2,80.6 L959.4,80.7 L960.6,80.7 L961.7,80.8 L962.9,80.8 L964.1,80.9 L965.3,80.9 L966.5,81 L967.7,81 L968.9,81.1 L970.1,81.1 L971.4,81.2 L972.6,81.2 L973.9,81.3 L975.2,81.4 L976.6,81.4 L978,81.5 L979.4,81.5 L980.8,81.6 L982.9,81.7 L985,81.8 L987.2,81.9 L989.5,81.9 L991.8,82 L994.2,82.1 L996.6,82.2 L999,82.2 L1001.5,82.3 L1004,82.4 L1006.5,82.5 L1009.1,82.6 L1011.6,82.7 L1014.2,82.8 L1016.8,82.9 L1019.4,83 L1022,83.1 L1024.6,83.2 L1027.2,83.3 L1029.8,83.5 L1032.4,83.6 L1035,83.8 L1037.5,83.9 L1040,84.1 L1042.5,84.3 L1045.1,84.5 L1047.6,84.7 L1050.1,84.9 L1052.6,85.1 L1055.1,85.4 L1057.6,85.6 L1060,85.8 L1062.5,86.1 L1065,86.3 L1067.5,86.6 L1070,86.9 L1072.6,87.1 L1075.1,87.4 L1077.7,87.7 L1080.2,88 L1082.8,88.3 L1085.5,88.5 L1088.1,88.8 L1090.8,89.1 L1093.6,89.4 L1096.3,89.7 L1099.1,90 L1102,90.3 L1105.7,90.7 L1109.5,91 L1113.3,91.4 L1117.3,91.8 L1121.4,92.2 L1125.5,92.6 L1129.7,93 L1133.9,93.4 L1138.2,93.8 L1142.5,94.2 L1146.8,94.6 L1151.1,95 L1155.4,95.4 L1159.8,95.9 L1164,96.3 L1168.3,96.7 L1172.5,97.2 L1176.7,97.6 L1180.8,98.1 L1184.8,98.5 L1188.8,99 L1192.6,99.5 L1196.4,99.9 L1200,100.4 L1202.8,100.8 L1205.6,101.2 L1208.4,101.6 L1211.2,102 L1214,102.4 L1216.7,102.8 L1219.5,103.2 L1222.2,103.7 L1224.9,104.1 L1227.6,104.5 L1230.2,105 L1232.8,105.4 L1235.3,105.8 L1237.9,106.3 L1240.3,106.7 L1242.7,107.1 L1245.1,107.6 L1247.4,108 L1249.7,108.4 L1251.9,108.8 L1254,109.2 L1256.1,109.6 L1258.1,109.9 L1260,110.3 L1261.1,110.5 L1262.2,110.7 L1263.2,110.9 L1264.2,111.1 L1265.1,111.3 L1266,111.4 L1266.9,111.6 L1267.7,111.8 L1268.5,111.9 L1269.3,112.1 L1270.2,112.3 L1271,112.4 L1271.8,112.6 L1272.6,112.8 L1273.4,113 L1274.2,113.1 L1275.1,113.3 L1275.9,113.5 L1276.8,113.8 L1277.8,114 L1278.8,114.2 L1279.8,114.5 L1280.9,114.7 L1282,115 L1284.1,115.5 L1286.4,116.1 L1288.9,116.7 L1291.4,117.3 L1294.1,117.9 L1296.9,118.6 L1299.8,119.3 L1302.8,120 L1305.8,120.7 L1308.8,121.5 L1312,122.2 L1315.1,123 L1318.2,123.9 L1321.4,124.7 L1324.5,125.6 L1327.6,126.4 L1330.6,127.3 L1333.6,128.3 L1336.5,129.2 L1339.3,130.1 L1342.1,131.1 L1344.7,132 L1347.2,133 L1349.5,134 L1351.2,134.7 L1352.8,135.5 L1354.5,136.2 L1356,137 L1357.6,137.8 L1359.1,138.5 L1360.6,139.3 L1362.1,140.1 L1363.6,140.9 L1365,141.7 L1366.4,142.5 L1367.8,143.3 L1369.2,144.1 L1370.5,145 L1371.8,145.9 L1373.1,146.7 L1374.4,147.6 L1375.7,148.6 L1376.9,149.5 L1378.2,150.5 L1379.4,151.4 L1380.6,152.4 L1381.8,153.5 L1383,154.5 L1384.1,155.5 L1385.3,156.6 L1386.4,157.7 L1387.5,158.8 L1388.6,159.9 L1389.7,161 L1390.8,162.2 L1391.8,163.4 L1392.9,164.6 L1393.9,165.8 L1394.9,167 L1395.9,168.2 L1396.8,169.5 L1397.8,170.7 L1398.7,172 L1399.6,173.3 L1400.5,174.6 L1401.3,175.9 L1402.1,177.2 L1402.9,178.5 L1403.7,179.8 L1404.4,181.1 L1405.1,182.5 L1405.8,183.8 L1406.4,185.1 L1407,186.4 L1407.6,187.8 L1408.1,189.1 L1408.6,190.5 L1409.1,191.9 L1409.5,193.2 L1409.9,194.6 L1410.3,196.1 L1410.7,197.5 L1411.1,198.9 L1411.4,200.3 L1411.7,201.8 L1412.1,203.2 L1412.3,204.6 L1412.6,206.1 L1412.9,207.5 L1413.1,209 L1413.4,210.4 L1413.6,211.8 L1413.9,213.3 L1414.1,214.7 L1414.3,216.1 L1414.5,217.5 L1414.7,218.8 L1414.9,220.2 L1415,221.5 L1415.2,222.8 L1415.3,224.2 L1415.4,225.5 L1415.5,226.8 L1415.6,228.1 L1415.6,229.4 L1415.7,230.7 L1415.7,232 L1415.8,233.3 L1415.8,234.6 L1415.8,236 L1415.8,237.3 L1415.9,238.7 L1415.9,240 L1415.9,241.4 L1415.9,242.8 L1415.9,244.2 L1415.9,245.6 L1415.9,247 L1416,248.5 L1416,250 L1416,251.9 L1416.1,253.7 L1416.1,255.6 L1416.1,257.5 L1416.1,259.4 L1416.1,261.3 L1416.2,263.3 L1416.2,265.2 L1416.2,267.2 L1416.1,269.2 L1416.1,271.2 L1416.1,273.3 L1416.1,275.3 L1416.1,277.4 L1416.1,279.5 L1416.1,281.7 L1416.1,283.8 L1416,286 L1416,288.3 L1416,290.5 L1416,292.9 L1416,295.2 L1416,297.6 L1416,300 L1416,303.5 L1416,307.1 L1416,310.9 L1416,314.7 L1416,318.6 L1416,322.6 L1416,326.7 L1416,330.8 L1416,335 L1416,339.2 L1416,343.5 L1416,347.9 L1416,352.2 L1416,356.6 L1416,361 L1416,365.4 L1416,369.8 L1416,374.2 L1416,378.6 L1416,382.9 L1416,387.3 L1416,391.6 L1416,395.8 L1416,400 L1416,404.2 L1416,408.5 L1416,412.8 L1416,417.1 L1416,421.5 L1416,425.9 L1416,430.4 L1416,434.8 L1416,439.2 L1416,443.7 L1416,448.1 L1416,452.5 L1416,456.8 L1416,461.1 L1416,465.4 L1416,469.6 L1416,473.7 L1416,477.8 L1416,481.7 L1416,485.6 L1416,489.4 L1416,493 L1416,496.6 L1416,500 L1416,502.2 L1416,504.4 L1416,506.6 L1416,508.7 L1416,510.8 L1416,512.9 L1416.1,515 L1416.1,517 L1416.1,519 L1416.1,520.9 L1416.1,522.8 L1416.1,524.7 L1416.1,526.6 L1416.1,528.4 L1416.1,530.2 L1416.1,532 L1416.1,533.7 L1416.1,535.4 L1416.1,537.1 L1416.1,538.7 L1416.1,540.4 L1416.1,541.9 L1416,543.5 L1416,545 L1416,546 L1416,547 L1415.9,547.9 L1415.9,548.8 L1415.9,549.7 L1415.9,550.6 L1415.9,551.5 L1415.9,552.3 L1415.8,553.1 L1415.8,554 L1415.8,554.8 L1415.8,555.6 L1415.8,556.4 L1415.7,557.2 L1415.7,557.9 L1415.6,558.7 L1415.6,559.5 L1415.5,560.3 L1415.5,561.1 L1415.4,561.8 L1415.3,562.6 L1415.2,563.4 L1415.1,564.2 L1415,565 L1414.9,565.8 L1414.8,566.6 L1414.6,567.3 L1414.5,568.1 L1414.4,568.9 L1414.2,569.7 L1414.1,570.4 L1413.9,571.2 L1413.7,572 L1413.6,572.7 L1413.4,573.5 L1413.2,574.3 L1413,575 L1412.8,575.8 L1412.6,576.5 L1412.4,577.3 L1412.2,578 L1412,578.7 L1411.7,579.5 L1411.5,580.2 L1411.3,580.9 L1411,581.6 L1410.8,582.3 L1410.5,583 L1410.3,583.6 L1410,584.3 L1409.8,584.9 L1409.5,585.5 L1409.3,586.1 L1409,586.7 L1408.8,587.2 L1408.5,587.8 L1408.2,588.4 L1408,589 L1407.7,589.5 L1407.4,590.1 L1407.1,590.7 L1406.8,591.2 L1406.5,591.8 L1406.1,592.4 L1405.8,592.9 L1405.4,593.5 L1405.1,594.1 L1404.7,594.6 L1404.3,595.2 L1403.9,595.8 L1403.4,596.4 L1403,597 L1402.3,597.8 L1401.7,598.7 L1400.9,599.6 L1400.2,600.4 L1399.4,601.3 L1398.6,602.2 L1397.7,603.1 L1396.8,604 L1395.9,604.9 L1395,605.8 L1394.1,606.7 L1393.1,607.6 L1392.2,608.5 L1391.2,609.4 L1390.2,610.3 L1389.2,611.2 L1388.2,612.1 L1387.1,612.9 L1386.1,613.8 L1385.1,614.7 L1384.1,615.5 L1383,616.4 L1382,617.2 L1381,618 L1379.9,618.8 L1378.9,619.7 L1377.8,620.5 L1376.8,621.3 L1375.8,622 L1374.7,622.8 L1373.7,623.6 L1372.7,624.3 L1371.6,625.1 L1370.6,625.8 L1369.5,626.6 L1368.4,627.3 L1367.3,628.1 L1366.1,628.8 L1365,629.5 L1363.8,630.3 L1362.5,631 L1361.3,631.8 L1360,632.5 L1358.6,633.3 L1357.2,634 L1355.8,634.8 L1354.3,635.6 L1352.8,636.4 L1350.1,637.8 L1347.2,639.2 L1344.3,640.6 L1341.2,642.1 L1337.9,643.6 L1334.6,645.1 L1331.2,646.6 L1327.7,648.2 L1324,649.7 L1320.3,651.3 L1316.5,652.8 L1312.7,654.4 L1308.8,655.9 L1304.8,657.5 L1300.7,659 L1296.6,660.5 L1292.5,662.1 L1288.4,663.5 L1284.2,665 L1279.9,666.5 L1275.7,667.9 L1271.5,669.3 L1267.2,670.7 L1263,672 L1257.7,673.6 L1252.2,675.2 L1246.6,676.8 L1240.9,678.3 L1235,679.8 L1229.1,681.3 L1223,682.8 L1216.9,684.2 L1210.7,685.6 L1204.5,687 L1198.2,688.4 L1191.9,689.8 L1185.6,691.1 L1179.3,692.5 L1173,693.8 L1166.8,695 L1160.6,696.3 L1154.4,697.5 L1148.3,698.8 L1142.3,700 L1136.5,701.2 L1130.7,702.3 L1125,703.5 L1119.5,704.6 L1115,705.5 L1110.7,706.4 L1106.4,707.3 L1102.2,708.2 L1098,709 L1094,709.9 L1089.9,710.7 L1086,711.5 L1082,712.3 L1078.1,713.1 L1074.1,713.9 L1070.2,714.6 L1066.3,715.4 L1062.3,716.1 L1058.4,716.8 L1054.4,717.5 L1050.3,718.2 L1046.2,718.9 L1042.1,719.6 L1037.8,720.3 L1033.5,721 L1029.1,721.7 L1024.6,722.3 L1020,723 L1014,723.8 L1007.8,724.6 L1001.5,725.4 L995.1,726.2 L988.6,727 L981.9,727.8 L975.2,728.5 L968.3,729.2 L961.4,730 L954.5,730.7 L947.5,731.3 L940.4,732 L933.4,732.7 L926.3,733.3 L919.2,734 L912.2,734.6 L905.1,735.2 L898.1,735.8 L891.2,736.3 L884.3,736.9 L877.5,737.4 L870.7,738 L864,738.5 L857.5,739 L851.5,739.4 L845.5,739.9 L839.4,740.3 L833.3,740.7 L827.2,741.1 L821,741.4 L814.9,741.8 L808.8,742.1 L802.6,742.5 L796.6,742.8 L790.5,743.1 L784.5,743.4 L778.6,743.7 L772.7,744 L767,744.3 L761.3,744.5 L755.7,744.8 L750.2,745.1 L744.8,745.3 L739.5,745.6 L734.4,745.8 L729.5,746.1 L724.6,746.3 L720,746.6 L717,746.8 L714.1,746.9 L711.2,747.1 L708.4,747.3 L705.6,747.4 L702.9,747.6 L700.2,747.8 L697.6,747.9 L695,748.1 L692.4,748.2 L689.9,748.4 L687.4,748.5 L685,748.7 L682.5,748.8 L680.2,749 L677.8,749.1 L675.5,749.2 L673.2,749.4 L671,749.5 L668.7,749.6 L666.5,749.7 L664.3,749.8 L662.2,749.9 L660,750 L658.4,750.1 L656.8,750.1 L655.2,750.2 L653.6,750.3 L652.1,750.3 L650.5,750.4 L649,750.5 L647.5,750.5 L646,750.6 L644.5,750.6 L643,750.7 L641.6,750.7 L640.1,750.8 L638.7,750.8 L637.4,750.8 L636,750.9 L634.7,750.9 L633.4,750.9 L632.1,750.9 L630.9,750.9 L629.6,750.9 L628.5,750.9 L627.3,750.9 L626.2,750.9 L625.7,750.9"/>
<polygon class="a" points="626,746.2 612.4,750 625.4,755.5"/>
<path class="e" d="M259,102.4 L259,137.1"/>
<polygon class="a" points="254.3,137.1 259,150.4 263.7,137.1"/>
<path class="e" d="M297.6,82.3 L301,82.8 L304.5,83.3 L307.9,83.8 L311.3,84.3 L314.8,84.8 L318.2,85.3 L321.7,85.8 L325.1,86.3 L328.6,86.8 L332,87.3 L335.4,87.8 L338.9,88.3 L342.3,88.8 L345.8,89.3 L349.2,89.8 L352.6,90.3 L356.1,90.8 L359.5,91.3 L362.9,91.8 L366.3,92.3 L369.8,92.9 L373.2,93.4 L376.6,94 L380,94.5 L383.4,95 L386.8,95.6 L390.1,96.1 L393.6,96.7 L397,97.2 L400.4,97.8 L403.8,98.3 L407.2,98.9 L410.6,99.5 L414,100 L417.4,100.6 L420.8,101.2 L424.2,101.8 L427.6,102.4 L430.9,102.9 L434.3,103.5 L437.6,104.1 L440.9,104.8 L444.1,105.4 L447.4,106 L450.6,106.6 L453.8,107.3 L456.9,107.9 L460,108.6 L462.7,109.2 L465.3,109.8 L468,110.3 L470.6,110.9 L473.2,111.5 L475.8,112 L478.3,112.6 L480.9,113.2 L483.4,113.8 L485.9,114.4 L488.4,115 L490.9,115.6 L493.4,116.2 L495.9,116.8 L498.3,117.5 L500.7,118.1 L503.2,118.8 L505.6,119.5 L508,120.2 L510.4,120.9 L512.8,121.6 L515.2,122.4 L517.6,123.2 L520,124 L522.3,124.8 L524.6,125.6 L526.9,126.4 L529.3,127.2 L531.6,128 L533.9,128.8 L536.3,129.6 L538.6,130.4 L540.9,131.3 L543.2,132.1 L545.5,133 L547.7,133.9 L550,134.8 L552.2,135.8 L554.4,136.8 L556.6,137.8 L558.7,138.8 L560.8,139.9 L562.9,141 L564.9,142.1 L566.9,143.2 L568.8,144.5 L570.7,145.7 L572.5,147 L574.1,148.2 L575.7,149.5 L577.3,150.8 L578.9,152.1 L580.4,153.5 L581.9,154.8 L583.4,156.3 L584.9,157.7 L586.3,159.2 L587.7,160.7 L589.1,162.2 L590.4,163.7 L591.8,165.3 L593,166.8 L594.3,168.4 L595.5,170 L596.7,171.6 L597.8,173.2 L599,174.8 L600,176.5 L601.1,178.1 L602.1,179.7 L603.1,181.4 L604,183 L604.8,184.5 L605.6,186.1 L606.3,187.7 L607,189.3 L607.7,190.9 L608.3,192.6 L608.9,194.2 L609.5,195.9 L610,197.6 L610.6,199.3 L611,201 L611.5,202.7 L612,204.4 L612.4,206.1 L612.8,207.8 L613.2,209.4 L613.6,211.1 L613.9,212.7 L614.3,214.3 L614.6,215.9 L615,217.5 L615.3,219 L615.7,220.5 L616,222 L616.3,223.1 L616.5,224.2 L616.7,225.3 L616.9,226.4 L617.1,227.4 L617.3,228.5 L617.5,229.5 L617.7,230.5 L617.8,231.5 L618,232.5 L618.1,233.2"/>
<polygon class="a" points="613.5,233.9 620,246.4 622.7,232.5"/>
<path class="e" d="M220.4,86.6 L217,87.4 L213.7,88.3 L210.3,89.1 L206.9,89.9 L203.6,90.7 L200.2,91.5 L196.8,92.3 L193.4,93.1 L190,93.9 L186.6,94.7 L183.3,95.5 L179.9,96.3 L176.5,97.2 L173.1,98 L169.8,98.8 L166.4,99.6 L163.1,100.5 L159.7,101.3 L156.4,102.2 L153.1,103.1 L149.8,104 L146.5,104.9 L143.3,105.8 L140,106.8 L136.9,107.7 L133.7,108.6 L130.5,109.6 L127.4,110.5 L124.2,111.4 L121,112.3 L117.8,113.2 L114.6,114.2 L111.4,115.1 L108.2,116.1 L105,117 L101.9,118 L98.8,119 L95.7,120 L92.6,121.1 L89.6,122.1 L86.7,123.2 L83.8,124.3 L80.9,125.4 L78.1,126.6 L75.3,127.8 L72.7,129 L70,130.3 L67.5,131.6 L65.5,132.7 L63.5,133.8 L61.5,134.9 L59.5,136 L57.6,137.1 L55.7,138.2 L53.8,139.4 L52,140.6 L50.2,141.7 L48.4,142.9 L46.6,144.2 L44.9,145.4 L43.2,146.7 L41.5,147.9 L39.9,149.2 L38.3,150.6 L36.8,151.9 L35.2,153.3 L33.8,154.6 L32.3,156.1 L30.9,157.5 L29.6,159 L28.3,160.5 L27,162 L25.9,163.5 L24.7,165 L23.7,166.5 L22.6,168.1 L21.6,169.7 L20.7,171.3 L19.7,173 L18.8,174.6 L18,176.3 L17.1,178 L16.3,179.8 L15.6,181.5 L14.8,183.3 L14.1,185 L13.4,186.8 L12.8,188.5 L12.1,190.3 L11.5,192.1 L10.9,193.8 L10.4,195.6 L9.9,197.3 L9.3,199.1 L8.9,200.8 L8.4,202.5 L8,204.1 L7.6,205.6 L7.3,207.2 L7,208.7 L6.8,210.3 L6.5,211.8 L6.3,213.4 L6.2,214.9 L6,216.5 L5.9,218 L5.8,219.6 L5.7,221.2 L5.6,222.7 L5.5,224.3 L5.5,225.8 L5.4,227.4 L5.4,229 L5.3,230.5 L5.3,232.1 L5.2,233.7 L5.2,235.2 L5.1,236.8 L5.1,238.4 L5,240 L4.9,241.6 L4.9,243.3 L4.8,244.9 L4.8,246.5 L4.8,248.2 L4.7,249.8 L4.7,251.4 L4.7,253.1 L4.7,254.7 L4.7,256.3 L4.8,258 L4.8,259.6 L4.8,261.3 L4.8,262.9 L4.8,264.6 L4.9,266.3 L4.9,268 L4.9,269.7 L4.9,271.4 L5,273.1 L5,274.8 L5,276.5 L5,278.2 L5,280 L5,282 L5,284 L5,286 L5,288 L5,290.1 L5,292.2 L5,294.3 L5,296.4 L5,298.5 L5,300.6 L5,302.7 L5,304.8 L5,306.9 L5,309.1 L5,311.2 L5,313.3 L5,315.4 L5,317.6 L5,319.7 L5,321.8 L5,323.8 L5,325.9 L5,328 L5,330 L5,331.9 L5,333.9 L5,335.8 L5,337.8 L5,339.7 L5,341.7 L5,343.6 L5,345.6 L5,347.6 L5,349.5 L5,351.4 L5,353.4 L5,355.3 L5,357.2 L5.1,359.1 L5.1,360.9 L5.1,362.8 L5.1,364.6 L5.1,366.4 L5.2,368.2 L5.2,369.9 L5.3,371.7 L5.3,373.3 L5.4,375 L5.5,376.3 L5.5,377.5 L5.6,378.7 L5.6,379.9 L5.7,381.1 L5.7,382.2 L5.8,383.4 L5.9,384.5 L5.9,385.6 L6,386.7 L6.1,387.8 L6.2,388.9 L6.2,390 L6.3,391.1 L6.4,392.2 L6.5,393.3 L6.6,394.3 L6.7,395.4 L6.8,396.5 L6.9,397.6 L7,398.7 L7.1,399.8 L7.3,400.9 L7.4,402 L7.5,403.1 L7.7,404.3 L7.8,405.4 L8,406.5 L8.1,407.7 L8.3,408.8 L8.4,409.9 L8.6,411.1 L8.7,412.2 L8.9,413.4 L9.1,414.5 L9.3,415.6 L9.5,416.8 L9.6,417.9 L9.8,419 L10,420.2 L10.2,421.3 L10.4,422.4 L10.7,423.5 L10.9,424.6 L11.1,425.7 L11.3,426.8 L11.6,427.9 L11.8,429 L12,430 L12.3,431 L12.5,432.1 L12.7,433.1 L13,434.1 L13.2,435.1 L13.5,436.1 L13.7,437.1 L14,438.1 L14.2,439.1 L14.5,440 L14.8,441 L15,442 L15.3,443 L15.6,444 L15.9,444.9 L16.2,445.9 L16.5,446.9 L16.8,447.9 L17.2,448.8 L17.5,449.8 L17.9,450.8 L18.2,451.7 L18.6,452.7 L19,453.7 L19.4,454.7 L19.8,455.7 L20.2,456.7 L20.6,457.7 L21.1,458.7 L21.5,459.7 L21.9,460.7 L22.4,461.7 L22.9,462.7 L23.3,463.7 L23.8,464.7 L24.3,465.6 L24.8,466.6 L25.3,467.6 L25.8,468.6 L26.4,469.6 L26.9,470.5 L27.4,471.5 L28,472.5 L28.6,473.4 L29.2,474.4 L29.8,475.3 L30.4,476.3 L31.1,477.3 L31.8,478.3 L32.5,479.3 L33.2,480.3 L33.9,481.3 L34.6,482.3 L35.4,483.3 L36.2,484.2 L36.9,485.2 L37.7,486.2 L38.5,487.1 L39.3,488.1 L40.2,489 L41,490 L41.9,491 L42.7,491.9 L43.6,492.9 L44.5,493.9 L45.5,494.9 L46.4,495.9 L47.3,496.9 L48.3,497.9 L49.3,499 L50.3,500 L51.6,501.4 L53,502.8 L54.4,504.2 L55.8,505.7 L57.2,507.1 L58.7,508.6 L60.2,510 L61.7,511.5 L63.2,513 L64.8,514.5 L66.4,516 L68,517.6 L69.7,519.1 L71.3,520.6 L73,522.1 L74.8,523.7 L76.5,525.2 L78.3,526.8 L80.2,528.3 L82,529.8 L83.9,531.4 L85.9,532.9 L87.8,534.5 L89.8,536 L92.5,538.1 L95.3,540.1 L98.2,542.3 L101.1,544.5 L104.2,546.7 L107.2,548.9 L110.4,551.1 L113.6,553.4 L116.9,555.6 L120.2,557.9 L123.6,560.1 L127,562.4 L130.4,564.6 L133.9,566.8 L137.3,568.9 L140.8,571 L144.3,573.1 L147.9,575.2 L151.4,577.1 L154.9,579 L158.4,580.9 L161.9,582.7 L165.4,584.4 L168.8,586 L172.1,587.5 L175.4,588.9 L178.7,590.2 L182,591.5 L185.3,592.8 L188.6,594 L191.9,595.1 L195.3,596.3 L198.6,597.3 L202,598.4 L205.3,599.4 L208.7,600.3 L212.1,601.3 L215.5,602.2 L219,603.1 L222.4,604 L225.9,604.9 L229.4,605.8 L232.9,606.6 L236.5,607.5 L240.1,608.4 L243.7,609.2 L247.3,610.1 L251,611 L255.2,612 L259.5,613 L263.8,614 L268.1,614.9 L272.5,615.8 L277,616.8 L281.4,617.7 L285.9,618.5 L290.5,619.4 L295,620.3 L299.6,621.1 L304.2,621.9 L308.8,622.7 L313.4,623.6 L318,624.3 L322.6,625.1 L327.3,625.9 L331.8,626.6 L336.4,627.4 L341,628.1 L345.5,628.9 L350.1,629.6 L354.5,630.3 L359,631 L363.3,631.7 L367.7,632.4 L372.2,633 L376.7,633.7 L381.3,634.4 L385.8,635 L390.5,635.7 L395.1,636.3 L399.7,637 L404.3,637.6 L408.9,638.2 L413.4,638.8 L417.9,639.4 L422.3,639.9 L426.6,640.5 L430.8,641 L435,641.5 L439,642 L442.9,642.5 L446.6,642.9 L450.2,643.3 L453.7,643.7 L456.9,644.1 L460,644.4 L461.6,644.6 L463.1,644.7 L464.6,644.9 L466,645 L467.3,645.1 L468.7,645.2 L469.9,645.3 L471.2,645.4 L472.4,645.5 L473.6,645.6 L474.8,645.7 L475.9,645.8 L477.1,645.9 L478.2,645.9 L479.3,646 L480.4,646.1 L481.6,646.2 L482.7,646.2 L483.9,646.3 L485,646.4 L486.2,646.5 L487.5,646.6 L488.7,646.7 L490,646.8 L491.5,646.9 L493,647.1 L494.5,647.2 L496.1,647.3 L497.7,647.5 L499.3,647.6 L500.9,647.8 L502.5,647.9 L504.2,648.1 L505.8,648.3 L507.4,648.4 L509.1,648.6 L510.7,648.7 L512.3,648.9 L513.9,649 L515.4,649.2 L517,649.3 L518.5,649.5 L519.9,649.6 L521.3,649.7 L522.7,649.9 L524,650 L525.2,650.1 L526.4,650.2 L526.7,650.2"/>
<polygon class="a" points="526.3,654.9 540,651.4 527.1,645.6"/>
<path class="e" d="M295.2,184.5 L555.4,252.6"/>
<polygon class="a" points="554.2,257.1 568.3,256 556.6,248.1"/>
<path class="e" d="M292,198.4 L295.4,201 L298.9,203.5 L302.3,206.1 L305.7,208.6 L309.1,211.1 L312.4,213.6 L315.8,216.2 L319.2,218.7 L322.6,221.2 L325.9,223.7 L329.3,226.2 L332.7,228.8 L336.1,231.3 L339.5,233.8 L342.9,236.4 L346.4,238.9 L349.8,241.5 L353.3,244.1 L356.8,246.7 L360.3,249.3 L363.9,252 L367.5,254.6 L371.1,257.3 L374.7,260 L378.8,263.1 L383,266.2 L387.2,269.2 L391.4,272.4 L395.6,275.5 L399.8,278.6 L404.1,281.8 L408.4,285 L412.7,288.2 L417,291.4 L421.3,294.6 L425.7,297.8 L430.1,301.1 L434.5,304.3 L439,307.6 L443.4,310.9 L447.9,314.3 L452.4,317.6 L457,321 L461.5,324.3 L466.1,327.7 L470.7,331.1 L475.3,334.6 L480,338 L485.3,341.9 L490.7,345.9 L496.1,349.9 L501.6,354 L507.1,358.1 L512.7,362.2 L518.3,366.4 L523.9,370.5 L529.6,374.7 L535.2,378.9 L541,383.2 L546.7,387.4 L552.4,391.7 L558.2,395.9 L563.9,400.2 L569.7,404.5 L575.5,408.7 L581.2,413 L587,417.3 L592.7,421.5 L598.4,425.8 L604.2,430 L604.8,430.5"/>
<polygon class="a" points="602,434.2 615.5,438.4 607.6,426.7"/>
<path class="e" d="M246.4,198.4 L245.9,200.1 L245.5,201.9 L245,203.6 L244.5,205.4 L243.9,207.2 L243.4,209 L242.9,210.8 L242.4,212.6 L241.9,214.4 L241.3,216.2 L240.8,218 L240.3,219.8 L239.8,221.6 L239.3,223.3 L238.8,225.1 L238.4,226.8 L237.9,228.5 L237.5,230.2 L237.1,231.9 L236.7,233.5 L236.3,235.1 L236,236.7 L235.7,238.3 L235.4,239.8 L235.2,240.9 L235,242 L234.9,243.1 L234.7,244.1 L234.5,245.2 L234.4,246.2 L234.2,247.2 L234.1,248.2 L234,249.2 L233.9,250.2 L233.8,251.1 L233.7,252.1 L233.6,253 L233.5,254 L233.5,254.9 L233.4,255.9 L233.4,256.8 L233.4,257.8 L233.3,258.8 L233.3,259.7 L233.3,260.7 L233.3,261.6 L233.4,262.6 L233.4,263.6 L233.4,264.6 L233.5,265.6 L233.5,266.6 L233.6,267.6 L233.7,268.6 L233.7,269.5 L233.8,270.5 L233.9,271.5 L234,272.5 L234.1,273.5 L234.2,274.5 L234.4,275.5 L234.5,276.4 L234.7,277.4 L234.9,278.4 L235.1,279.4 L235.3,280.4 L235.5,281.4 L235.8,282.4 L236,283.4 L236.4,284.4 L236.7,285.5 L237,286.5 L237.4,287.5 L237.9,288.8 L238.5,290.1 L239,291.4 L239.7,292.6 L240.3,293.9 L241,295.2 L241.8,296.5 L242.5,297.9 L243.3,299.2 L244.1,300.5 L245,301.8 L245.8,303.1 L246.7,304.5 L247.6,305.8 L248.5,307.1 L249.5,308.5 L250.4,309.8 L251.4,311.1 L252.3,312.5 L253.3,313.9 L254.3,315.2 L255.3,316.6 L256.2,317.9 L257.2,319.3 L258.3,320.9 L259.5,322.5 L260.7,324.1 L261.9,325.8 L263.1,327.4 L264.4,329.1 L265.6,330.7 L266.9,332.4 L268.2,334.1 L269.5,335.7 L270.8,337.4 L272.1,339.1 L273.5,340.8 L274.9,342.4 L276.2,344.1 L277.6,345.8 L279,347.5 L280.4,349.1 L281.8,350.8 L283.3,352.5 L284.7,354.1 L286.1,355.7 L287.6,357.4 L289,359 L290.5,360.7 L292.1,362.4 L293.6,364.1 L295.2,365.8 L296.8,367.5 L298.4,369.2 L300.1,371 L301.7,372.7 L303.4,374.4 L305,376.1 L306.7,377.7 L308.4,379.4 L310,381.1 L311.7,382.8 L313.4,384.4 L315.1,386.1 L316.8,387.7 L318.6,389.4 L320.3,391 L322,392.6 L323.7,394.2 L325.4,395.7 L327.1,397.3 L328.8,398.8 L330.4,400.2 L332.1,401.7 L333.7,403.1 L335.4,404.5 L337,405.9 L338.7,407.3 L340.4,408.7 L342.1,410.1 L343.8,411.5 L345.4,412.8 L347.1,414.2 L348.8,415.5 L350.5,416.8 L352.2,418.1 L353.9,419.4 L355.5,420.7 L357.2,422 L358.9,423.3 L360.5,424.5 L362.2,425.8 L363.8,427 L365.4,428.2 L367,429.4 L368.6,430.6 L370,431.6 L371.3,432.6 L372.6,433.6 L373.9,434.5 L375.1,435.5 L376.4,436.4 L377.6,437.3 L378.9,438.2 L380.1,439.1 L381.3,440 L382.5,440.9 L383.8,441.7 L385,442.6 L386.2,443.5 L387.5,444.4 L388.8,445.2 L390.1,446.1 L391.4,447 L392.8,447.9 L394.1,448.8 L395.5,449.7 L397,450.6 L398.5,451.6 L400,452.5 L402.1,453.8 L404.3,455.1 L406.5,456.4 L408.8,457.7 L411.1,459 L413.4,460.4 L415.9,461.7 L418.3,463.1 L420.8,464.5 L423.3,465.8 L425.9,467.2 L428.4,468.6 L431,470 L433.7,471.4 L436.3,472.7 L438.9,474.1 L441.6,475.5 L444.2,476.9 L446.9,478.2 L449.5,479.6 L452.2,481 L454.8,482.3 L457.4,483.7 L460,485 L462.7,486.4 L465.5,487.8 L468.3,489.2 L471.1,490.7 L474,492.1 L476.9,493.5 L479.7,495 L482.6,496.4 L485.5,497.8 L488.5,499.3 L491.4,500.7 L494.3,502.1 L497.2,503.5 L500.1,504.9 L502.9,506.3 L505.8,507.7 L508.6,509 L511.4,510.3 L514.2,511.6 L516.9,512.9 L519.7,514.2 L522.3,515.4 L524.9,516.6 L527.5,517.8 L529.5,518.7 L531.5,519.7 L533.5,520.6 L535.5,521.5 L537.4,522.4 L539.4,523.2 L541.3,524.1 L543.2,525 L545,525.8 L546.9,526.7 L548.7,527.5 L550.6,528.3 L552.4,529.1 L554.2,529.9 L556.1,530.6 L557.9,531.4 L559.7,532.2 L561.5,532.9 L563.3,533.6 L565.1,534.3 L567,535 L568.8,535.7 L570.6,536.4 L572.5,537 L574.2,537.6 L576,538.2 L577.7,538.7 L579.5,539.2 L581.2,539.7 L582.9,540.2 L584.7,540.7 L586.4,541.2 L588.1,541.6 L589.8,542.1 L591.6,542.5 L593.3,542.9 L595,543.3 L596.7,543.8 L598.5,544.2 L600.2,544.6 L601.1,544.8"/>
<polygon class="a" points="599.9,549.3 614,548 602.2,540.3"/>
<path class="e" d="M245.3,198.4 L244.6,200.1 L243.9,201.9 L243.2,203.6 L242.5,205.4 L241.8,207.1 L241.1,208.9 L240.4,210.6 L239.6,212.4 L238.9,214.1 L238.2,215.9 L237.5,217.6 L236.8,219.4 L236,221.1 L235.3,222.9 L234.7,224.6 L234,226.3 L233.3,228.1 L232.7,229.8 L232.1,231.5 L231.5,233.2 L230.9,234.8 L230.4,236.5 L229.9,238.2 L229.4,239.8 L229,241.2 L228.6,242.6 L228.3,243.9 L227.9,245.3 L227.6,246.6 L227.2,248 L226.9,249.3 L226.6,250.6 L226.3,252 L226,253.3 L225.7,254.6 L225.5,255.9 L225.2,257.2 L225,258.5 L224.8,259.8 L224.5,261.1 L224.4,262.4 L224.2,263.7 L224,265 L223.9,266.3 L223.7,267.6 L223.6,269 L223.5,270.3 L223.4,271.6 L223.3,272.9 L223.3,274.2 L223.2,275.6 L223.2,276.9 L223.2,278.2 L223.1,279.5 L223.1,280.8 L223.2,282.1 L223.2,283.5 L223.2,284.8 L223.3,286.1 L223.4,287.4 L223.5,288.7 L223.6,290.1 L223.7,291.4 L223.8,292.7 L223.9,294 L224.1,295.4 L224.3,296.7 L224.5,298 L224.7,299.4 L224.9,300.7 L225.1,302.1 L225.4,303.4 L225.7,304.9 L226,306.3 L226.3,307.8 L226.7,309.3 L227,310.8 L227.4,312.3 L227.8,313.8 L228.2,315.3 L228.6,316.8 L229.1,318.3 L229.5,319.8 L230,321.3 L230.5,322.8 L231,324.3 L231.6,325.8 L232.2,327.3 L232.7,328.8 L233.3,330.3 L234,331.8 L234.6,333.3 L235.3,334.7 L236,336.2 L236.7,337.7 L237.4,339.2 L238.3,340.9 L239.2,342.5 L240.1,344.2 L241.1,345.8 L242.1,347.5 L243.1,349.1 L244.1,350.8 L245.2,352.4 L246.3,354 L247.5,355.7 L248.6,357.3 L249.8,358.9 L251,360.6 L252.2,362.2 L253.5,363.9 L254.7,365.5 L256,367.2 L257.3,368.8 L258.6,370.5 L259.9,372.2 L261.2,373.9 L262.5,375.6 L263.9,377.3 L265.2,379 L266.8,381.1 L268.4,383.1 L270.1,385.2 L271.8,387.3 L273.5,389.5 L275.3,391.6 L277.1,393.8 L278.9,395.9 L280.7,398.1 L282.6,400.3 L284.4,402.5 L286.3,404.7 L288.2,406.9 L290.1,409 L292,411.2 L293.9,413.4 L295.8,415.6 L297.7,417.8 L299.6,419.9 L301.5,422.1 L303.4,424.3 L305.3,426.4 L307.1,428.5 L309,430.6 L310.8,432.6 L312.6,434.7 L314.5,436.8 L316.3,438.8 L318.2,440.9 L320,443 L321.9,445.1 L323.8,447.1 L325.7,449.2 L327.5,451.3 L329.4,453.3 L331.3,455.4 L333.1,457.4 L335,459.4 L336.8,461.4 L338.7,463.4 L340.5,465.4 L342.3,467.3 L344.1,469.2 L345.8,471.1 L347.6,472.9 L349.3,474.8 L351,476.5 L352.7,478.3 L354,479.7 L355.4,481.1 L356.7,482.4 L357.9,483.7 L359.2,485 L360.5,486.3 L361.7,487.6 L363,488.8 L364.2,490.1 L365.4,491.3 L366.6,492.5 L367.8,493.7 L369.1,494.9 L370.3,496.1 L371.5,497.3 L372.7,498.5 L373.9,499.7 L375.1,500.9 L376.3,502 L377.5,503.2 L378.8,504.4 L380,505.6 L381.2,506.8 L382.5,508 L383.7,509.2 L385,510.4 L386.2,511.6 L387.4,512.7 L388.7,513.9 L389.9,515 L391.1,516.2 L392.3,517.3 L393.5,518.5 L394.7,519.6 L396,520.8 L397.2,521.9 L398.4,523.1 L399.7,524.2 L400.9,525.4 L402.2,526.5 L403.5,527.7 L404.8,528.9 L406.1,530 L407.5,531.2 L408.8,532.4 L410.2,533.6 L411.6,534.8 L413,536 L414.8,537.5 L416.6,539 L418.4,540.5 L420.3,542 L422.2,543.6 L424.2,545.2 L426.2,546.8 L428.2,548.4 L430.3,550 L432.3,551.6 L434.4,553.2 L436.5,554.8 L438.5,556.4 L440.6,558 L442.7,559.6 L444.7,561.1 L446.7,562.7 L448.7,564.2 L450.7,565.8 L452.6,567.3 L454.6,568.7 L456.4,570.2 L458.2,571.6 L460,573 L461.4,574.1 L462.7,575.2 L464,576.2 L465.3,577.3 L466.6,578.3 L467.9,579.3 L469.1,580.3 L470.3,581.3 L471.5,582.3 L472.7,583.3 L473.9,584.3 L475.1,585.2 L476.3,586.2 L477.5,587.1 L478.7,588.1 L479.9,589.1 L481.1,590 L482.3,591 L483.6,591.9 L484.8,592.9 L486.1,593.9 L487.4,594.8 L488.7,595.8 L490,596.8 L491.5,597.9 L493.1,599 L494.7,600.2 L496.3,601.4 L498,602.5 L499.8,603.7 L501.5,604.9 L503.2,606.1 L505,607.3 L506.8,608.5 L508.5,609.7 L510.3,610.9 L512,612.1 L513.8,613.2 L515.5,614.3 L517.1,615.4 L518.7,616.5 L520.3,617.6 L521.8,618.6 L523.3,619.6 L524.7,620.5 L526.1,621.4 L527.3,622.2 L528.5,623 L528.9,623.3"/>
<polygon class="a" points="526.3,627.1 540,630.6 531.5,619.4"/>
<path class="e" d="M243.3,198.4 L242.5,199.8 L241.8,201.2 L241,202.6 L240.2,203.9 L239.5,205.3 L238.7,206.7 L237.9,208.1 L237.1,209.4 L236.3,210.8 L235.5,212.2 L234.8,213.6 L234,214.9 L233.2,216.3 L232.4,217.7 L231.7,219.1 L230.9,220.5 L230.2,221.9 L229.5,223.3 L228.7,224.7 L228,226.1 L227.4,227.5 L226.7,228.9 L226,230.4 L225.4,231.8 L224.8,233.2 L224.2,234.7 L223.6,236.2 L223,237.6 L222.4,239.1 L221.8,240.6 L221.3,242.1 L220.7,243.6 L220.2,245.1 L219.7,246.6 L219.1,248.1 L218.6,249.6 L218.1,251.1 L217.7,252.7 L217.2,254.2 L216.7,255.7 L216.3,257.2 L215.8,258.7 L215.4,260.2 L215,261.7 L214.6,263.2 L214.2,264.7 L213.9,266.1 L213.5,267.6 L213.2,268.9 L212.9,270.3 L212.6,271.6 L212.3,272.9 L212,274.3 L211.7,275.6 L211.4,276.9 L211.1,278.2 L210.9,279.5 L210.6,280.8 L210.4,282.1 L210.2,283.5 L210,284.8 L209.8,286.1 L209.6,287.4 L209.4,288.7 L209.3,290 L209.1,291.3 L209,292.7 L208.9,294 L208.8,295.3 L208.8,296.7 L208.7,298 L208.7,299.4 L208.7,300.8 L208.7,302.3 L208.8,303.8 L208.8,305.2 L208.9,306.7 L209,308.1 L209.1,309.6 L209.2,311.1 L209.4,312.6 L209.5,314 L209.7,315.5 L209.9,317 L210.1,318.5 L210.4,320 L210.6,321.5 L210.9,323 L211.2,324.5 L211.5,326 L211.8,327.5 L212.1,329.1 L212.4,330.6 L212.8,332.1 L213.1,333.7 L213.5,335.2 L213.9,337 L214.4,338.7 L214.9,340.5 L215.4,342.2 L215.9,344 L216.5,345.8 L217,347.6 L217.6,349.4 L218.2,351.2 L218.9,353 L219.5,354.8 L220.2,356.6 L220.8,358.4 L221.5,360.2 L222.3,362 L223,363.9 L223.7,365.7 L224.5,367.6 L225.3,369.5 L226.1,371.4 L226.9,373.3 L227.7,375.2 L228.5,377.1 L229.4,379 L230.5,381.3 L231.6,383.7 L232.7,386.2 L233.9,388.6 L235.1,391.1 L236.4,393.6 L237.7,396.1 L239,398.7 L240.3,401.3 L241.7,403.8 L243,406.4 L244.4,409 L245.8,411.6 L247.3,414.1 L248.7,416.7 L250.1,419.2 L251.5,421.7 L252.9,424.3 L254.3,426.7 L255.7,429.2 L257.1,431.6 L258.5,434 L259.9,436.3 L261.2,438.6 L262.4,440.6 L263.6,442.6 L264.8,444.6 L266,446.6 L267.2,448.6 L268.4,450.6 L269.7,452.6 L270.9,454.5 L272.2,456.5 L273.4,458.4 L274.7,460.3 L275.9,462.2 L277.1,464.1 L278.3,466 L279.5,467.8 L280.7,469.6 L281.8,471.3 L282.9,473 L284,474.7 L285.1,476.3 L286.1,477.9 L287.1,479.4 L288.1,480.9 L289,482.3 L289.5,483.1 L290.1,483.9 L290.5,484.7 L291,485.5 L291.5,486.2 L291.9,486.8 L292.3,487.5 L292.7,488.2 L293.1,488.8 L293.5,489.4 L293.9,490 L294.3,490.6 L294.7,491.3 L295.1,491.9 L295.5,492.5 L295.9,493.1 L296.3,493.8 L296.8,494.4 L297.2,495.1 L297.7,495.8 L298.3,496.6 L298.8,497.3 L299.4,498.2 L300,499 L301.2,500.6 L302.4,502.3 L303.8,504.1 L305.2,506 L306.6,507.9 L308.1,509.9 L309.7,511.9 L311.3,514.1 L313,516.2 L314.7,518.4 L316.5,520.6 L318.3,522.9 L320.1,525.2 L321.9,527.5 L323.8,529.8 L325.7,532.1 L327.6,534.4 L329.5,536.7 L331.4,539 L333.4,541.2 L335.3,543.5 L337.2,545.7 L339.1,547.9 L341,550 L343.1,552.3 L345.1,554.5 L347.2,556.8 L349.3,559.1 L351.5,561.3 L353.6,563.5 L355.8,565.8 L358,568 L360.2,570.3 L362.5,572.5 L364.7,574.8 L367,577 L369.3,579.2 L371.5,581.5 L373.8,583.7 L376.2,585.9 L378.5,588.2 L380.8,590.4 L383.2,592.7 L385.5,594.9 L387.9,597.2 L390.2,599.5 L392.6,601.7 L395,604 L397.6,606.5 L400.1,608.9 L402.7,611.4 L405.3,613.8 L407.9,616.3 L410.5,618.8 L413.2,621.3 L415.8,623.7 L418.4,626.2 L421.1,628.7 L423.8,631.2 L426.5,633.7 L429.2,636.2 L431.9,638.7 L434.6,641.2 L437.4,643.7 L440.2,646.2 L442.9,648.6 L445.7,651.1 L448.6,653.6 L451.4,656.1 L454.2,658.6 L457.1,661 L460,663.5 L463.1,666.1 L466.3,668.8 L469.5,671.4 L472.7,674.1 L476,676.7 L479.3,679.3 L482.6,682 L485.9,684.6 L489.2,687.2 L492.6,689.9 L496,692.5 L499.3,695.1 L502.7,697.7 L506.1,700.4 L509.5,703 L512.9,705.6 L516.4,708.2 L519.8,710.8 L523.2,713.5 L526.5,716.1 L529.5,718.4"/>
<polygon class="a" points="526.6,722.1 540,726.6 532.4,714.7"/>
<path class="e" d="M553.5,198.4 L590.4,236.8"/>
<polygon class="a" points="587,240 599.6,246.4 593.7,233.6"/>
<path class="e" d="M534.3,198.4 L534.5,199.9 L534.8,201.4 L535,203 L535.2,204.5 L535.4,206 L535.6,207.5 L535.9,209 L536.1,210.6 L536.3,212.1 L536.5,213.6 L536.7,215.1 L536.9,216.6 L537.1,218.1 L537.4,219.7 L537.6,221.2 L537.8,222.7 L538.1,224.2 L538.3,225.8 L538.6,227.3 L538.8,228.8 L539.1,230.4 L539.4,231.9 L539.7,233.5 L540,235 L540.3,236.6 L540.7,238.3 L541,239.9 L541.4,241.6 L541.7,243.2 L542.1,244.8 L542.5,246.5 L542.9,248.1 L543.3,249.8 L543.6,251.5 L544.1,253.1 L544.5,254.8 L544.9,256.4 L545.3,258.1 L545.7,259.8 L546.2,261.4 L546.6,263.1 L547.1,264.8 L547.6,266.5 L548,268.2 L548.5,269.9 L549,271.6 L549.5,273.3 L550,275 L550.6,276.9 L551.1,278.7 L551.7,280.6 L552.3,282.5 L552.8,284.4 L553.4,286.2 L554,288.1 L554.6,290 L555.2,291.9 L555.8,293.8 L556.5,295.7 L557.1,297.6 L557.8,299.5 L558.4,301.5 L559.1,303.4 L559.8,305.3 L560.5,307.3 L561.3,309.2 L562,311.2 L562.8,313.1 L563.5,315.1 L564.3,317 L565.2,319 L566,321 L567,323.3 L568,325.6 L569,327.9 L570.1,330.2 L571.2,332.5 L572.3,334.8 L573.4,337.1 L574.6,339.5 L575.8,341.8 L577,344.2 L578.2,346.6 L579.4,348.9 L580.7,351.3 L581.9,353.7 L583.2,356.1 L584.5,358.4 L585.8,360.8 L587.1,363.2 L588.4,365.6 L589.7,368 L591,370.4 L592.3,372.7 L593.7,375.1 L595,377.5 L596.4,380 L597.9,382.5 L599.3,385.1 L600.8,387.6 L602.3,390.1 L603.8,392.6 L605.3,395.2 L606.9,397.7 L608.4,400.3 L610,402.8 L611.5,405.3 L613.1,407.9 L614.7,410.4 L616.3,413 L617.8,415.5 L619.4,418.1 L621,420.6 L622.6,423.1 L624.2,425.7 L625,427"/>
<polygon class="a" points="621,429.5 632,438.4 629,424.6"/>
<path class="e" d="M530.8,198.4 L530.8,200.1 L530.9,201.9 L530.9,203.6 L530.9,205.3 L530.9,207 L531,208.8 L531,210.5 L531,212.2 L531,213.9 L531.1,215.7 L531.1,217.4 L531.1,219.1 L531.1,220.8 L531.2,222.6 L531.2,224.3 L531.2,226 L531.3,227.7 L531.3,229.5 L531.3,231.2 L531.4,233 L531.4,234.7 L531.5,236.5 L531.5,238.2 L531.6,240 L531.7,241.8 L531.7,243.7 L531.8,245.5 L531.9,247.4 L531.9,249.3 L532,251.2 L532.1,253 L532.1,254.9 L532.2,256.8 L532.3,258.7 L532.4,260.6 L532.4,262.5 L532.5,264.4 L532.6,266.2 L532.7,268.1 L532.8,270 L532.9,271.9 L533,273.8 L533.1,275.7 L533.3,277.5 L533.4,279.4 L533.5,281.3 L533.7,283.1 L533.8,285 L533.9,286.8 L534.1,288.6 L534.2,290.4 L534.4,292.2 L534.5,294 L534.7,295.8 L534.9,297.5 L535,299.3 L535.2,301.1 L535.4,302.8 L535.6,304.6 L535.7,306.4 L535.9,308.2 L536.1,309.9 L536.3,311.7 L536.6,313.5 L536.8,315.3 L537,317.1 L537.2,318.9 L537.5,320.7 L537.7,322.5 L538,324.3 L538.2,326.2 L538.5,328 L538.8,330 L539.1,332.1 L539.4,334.2 L539.8,336.3 L540.1,338.4 L540.5,340.5 L540.8,342.7 L541.2,344.8 L541.6,347 L542,349.2 L542.3,351.3 L542.7,353.5 L543.1,355.7 L543.6,357.8 L544,360 L544.4,362.1 L544.8,364.2 L545.3,366.2 L545.7,368.3 L546.2,370.3 L546.6,372.3 L547.1,374.2 L547.5,376.1 L548,378 L548.4,379.5 L548.8,380.9 L549.2,382.4 L549.6,383.8 L550,385.2 L550.4,386.5 L550.8,387.9 L551.2,389.2 L551.6,390.5 L552.1,391.9 L552.5,393.2 L552.9,394.5 L553.4,395.7 L553.8,397 L554.3,398.3 L554.7,399.6 L555.1,400.9 L555.6,402.1 L556,403.4 L556.5,404.7 L556.9,406 L557.4,407.3 L557.8,408.7 L558.3,410 L558.8,411.4 L559.2,412.8 L559.7,414.1 L560.1,415.5 L560.6,416.9 L561.1,418.2 L561.5,419.6 L562,421 L562.4,422.4 L562.9,423.7 L563.4,425.1 L563.9,426.5 L564.3,427.9 L564.8,429.3 L565.3,430.7 L565.8,432 L566.3,433.4 L566.8,434.8 L567.3,436.2 L567.8,437.6 L568.4,439 L568.9,440.5 L569.4,441.9 L570,443.3 L570.6,444.9 L571.2,446.5 L571.9,448.1 L572.6,449.7 L573.2,451.3 L573.9,452.9 L574.6,454.6 L575.3,456.3 L576,457.9 L576.7,459.6 L577.4,461.3 L578.1,462.9 L578.9,464.6 L579.6,466.2 L580.3,467.8 L581,469.5 L581.7,471.1 L582.5,472.7 L583.2,474.2 L583.9,475.8 L584.6,477.3 L585.3,478.8 L586,480.3 L586.7,481.7 L587.3,482.9 L587.8,484 L588.4,485.2 L589,486.3 L589.5,487.4 L590.1,488.5 L590.7,489.6 L591.2,490.7 L591.8,491.8 L592.4,492.9 L592.9,493.9 L593.5,495 L594.1,496 L594.6,497.1 L595.2,498.1 L595.7,499.1 L596.3,500.1 L596.8,501.1 L597.4,502 L597.9,503 L598.4,503.9 L599,504.9 L599.5,505.8 L600,506.7 L600.4,507.4 L600.8,508.1 L601.2,508.8 L601.6,509.4 L602,510.1 L602.3,510.7 L602.7,511.4 L603.1,512 L603.5,512.6 L603.8,513.2 L604.2,513.8 L604.6,514.4 L604.9,515 L605.3,515.6 L605.7,516.2 L606,516.8 L606.4,517.4 L606.8,518 L607.1,518.6 L607.5,519.1 L607.9,519.7 L608.3,520.3 L608.6,520.9 L609,521.5 L609.4,522.1 L609.7,522.6 L610.1,523.2 L610.1,523.3"/>
<polygon class="a" points="606.2,525.9 617.5,534.4 614,520.7"/>
<path class="e" d="M529.5,198.4 L529.5,200.1 L529.4,201.9 L529.4,203.6 L529.4,205.3 L529.3,207 L529.3,208.7 L529.2,210.4 L529.2,212.1 L529.2,213.8 L529.1,215.5 L529.1,217.2 L529,219 L529,220.7 L529,222.4 L528.9,224.1 L528.9,225.8 L528.9,227.6 L528.8,229.3 L528.8,231.1 L528.8,232.8 L528.8,234.6 L528.7,236.4 L528.7,238.2 L528.7,240 L528.7,242 L528.7,244 L528.7,246 L528.7,248 L528.6,250 L528.6,252 L528.6,254.1 L528.6,256.1 L528.6,258.1 L528.6,260.2 L528.6,262.3 L528.6,264.3 L528.7,266.4 L528.7,268.5 L528.7,270.6 L528.7,272.7 L528.7,274.8 L528.8,277 L528.8,279.1 L528.8,281.3 L528.9,283.4 L528.9,285.6 L528.9,287.8 L529,290 L529.1,292.5 L529.1,295.1 L529.2,297.7 L529.3,300.3 L529.3,302.9 L529.4,305.6 L529.5,308.2 L529.6,310.9 L529.7,313.6 L529.8,316.3 L529.9,319.1 L530,321.8 L530.1,324.5 L530.2,327.3 L530.3,330 L530.5,332.7 L530.6,335.4 L530.7,338.1 L530.9,340.8 L531.1,343.5 L531.2,346.2 L531.4,348.8 L531.6,351.4 L531.8,354 L532,356.4 L532.2,358.8 L532.4,361.3 L532.7,363.7 L532.9,366.2 L533.2,368.6 L533.5,371.1 L533.8,373.5 L534.1,375.9 L534.4,378.3 L534.7,380.8 L535,383.1 L535.3,385.5 L535.6,387.9 L535.9,390.2 L536.2,392.5 L536.5,394.8 L536.8,397.1 L537,399.3 L537.3,401.5 L537.6,403.7 L537.8,405.9 L538.1,407.9 L538.3,410 L538.5,411.5 L538.6,413.1 L538.8,414.5 L538.9,416 L539.1,417.4 L539.2,418.8 L539.3,420.1 L539.5,421.5 L539.6,422.8 L539.7,424.1 L539.9,425.5 L540,426.8 L540.1,428.1 L540.2,429.4 L540.4,430.7 L540.5,432 L540.6,433.4 L540.8,434.7 L540.9,436.1 L541,437.5 L541.2,438.9 L541.4,440.3 L541.5,441.8 L541.7,443.3 L541.9,445.2 L542.2,447.1 L542.4,449.1 L542.6,451.1 L542.9,453.1 L543.1,455.1 L543.4,457.2 L543.7,459.3 L543.9,461.4 L544.2,463.5 L544.5,465.6 L544.8,467.8 L545,469.9 L545.3,472.1 L545.6,474.2 L545.9,476.4 L546.2,478.5 L546.5,480.7 L546.8,482.8 L547.1,485 L547.4,487.1 L547.7,489.2 L548,491.2 L548.3,493.3 L548.6,495.3 L548.9,497.2 L549.2,499.2 L549.5,501.1 L549.8,503.1 L550.1,505 L550.4,506.9 L550.7,508.8 L551,510.8 L551.3,512.7 L551.6,514.6 L551.9,516.5 L552.2,518.4 L552.5,520.3 L552.9,522.3 L553.2,524.2 L553.5,526.1 L553.8,528.1 L554.1,530 L554.5,532 L554.8,534 L555.1,536 L555.5,538 L555.8,540 L556.2,542.2 L556.5,544.5 L556.9,546.9 L557.3,549.2 L557.7,551.6 L558.1,554 L558.5,556.4 L558.9,558.8 L559.3,561.2 L559.7,563.7 L560.1,566.1 L560.5,568.5 L560.9,571 L561.4,573.4 L561.8,575.8 L562.2,578.2 L562.6,580.5 L563,582.8 L563.4,585.1 L563.8,587.4 L564.2,589.6 L564.5,591.8 L564.9,593.9 L565.3,596 L565.6,597.6 L565.9,599.2 L566.2,600.7 L566.5,602.2 L566.7,603.7 L567,605.2 L567.3,606.7 L567.6,608.1 L567.9,609.5 L568.1,610.9 L568.4,612.3 L568.7,613.7 L569,615.1 L569.2,616.5 L569.4,617.3"/>
<polygon class="a" points="564.8,618.2 572,630.4 574,616.4"/>
<path class="e" d="M791,191.8 L684.9,240.8"/>
<polygon class="a" points="682.9,236.6 672.8,246.4 686.9,245"/>
<path class="e" d="M834.4,198.4 L835.4,201.6 L836.4,204.8 L837.4,208 L838.5,211.2 L839.5,214.4 L840.5,217.7 L841.5,220.9 L842.5,224.1 L843.6,227.3 L844.6,230.6 L845.6,233.8 L846.6,237 L847.6,240.2 L848.6,243.4 L849.7,246.6 L850.7,249.8 L851.7,253 L852.7,256.2 L853.7,259.4 L854.7,262.5 L855.7,265.7 L856.6,268.8 L857.6,271.9 L858.6,275 L859.5,277.9 L860.4,280.8 L861.3,283.6 L862.2,286.5 L863.1,289.3 L864,292.1 L864.8,295 L865.7,297.8 L866.6,300.6 L867.5,303.4 L868.3,306.2 L869.2,309 L870.1,311.8 L870.9,314.5 L871.8,317.3 L872.7,320.1 L873.5,322.9 L874.4,325.6 L875.3,328.4 L875.6,329.7"/>
<polygon class="a" points="871.2,331.1 879.6,342.4 880.1,328.3"/>
<path class="e" d="M816,198.4 L814.6,201.6 L813.2,204.8 L811.7,208.1 L810.3,211.3 L808.8,214.6 L807.4,217.8 L805.9,221.1 L804.5,224.4 L803,227.7 L801.6,231 L800.1,234.2 L798.7,237.5 L797.3,240.8 L795.8,244 L794.4,247.2 L793,250.4 L791.6,253.6 L790.2,256.7 L788.8,259.9 L787.4,263 L786,266 L784.7,269.1 L783.3,272.1 L782,275 L780.9,277.5 L779.8,279.9 L778.7,282.4 L777.6,284.8 L776.5,287.2 L775.4,289.6 L774.3,292 L773.2,294.3 L772.1,296.7 L771.1,299 L770,301.3 L768.9,303.6 L767.9,305.9 L766.9,308.2 L765.8,310.4 L764.8,312.6 L763.8,314.9 L762.8,317.1 L761.8,319.3 L760.8,321.4 L759.8,323.6 L758.9,325.7 L757.9,327.9 L757,330 L756.2,331.8 L755.4,333.6 L754.7,335.4 L753.9,337.2 L753.1,339 L752.3,340.8 L751.6,342.6 L750.8,344.3 L750.1,346.1 L749.4,347.9 L748.6,349.6 L747.9,351.3 L747.2,353 L746.5,354.7 L745.8,356.4 L745.1,358 L744.4,359.6 L743.8,361.2 L743.1,362.8 L742.5,364.3 L741.8,365.8 L741.2,367.2 L740.6,368.6 L740,370 L739.6,370.9 L739.2,371.8 L738.8,372.7 L738.4,373.6 L738.1,374.5 L737.7,375.3 L737.3,376.2 L737,377 L736.6,377.8 L736.3,378.6 L736,379.4 L735.6,380.2 L735.3,381 L735,381.7 L734.6,382.5 L734.3,383.2 L733.9,383.9 L733.6,384.6 L733.3,385.4 L732.9,386.1 L732.6,386.8 L732.2,387.4 L731.9,388.1 L731.5,388.8 L731.2,389.3 L730.9,389.9 L730.6,390.4 L730.4,390.9 L730.1,391.4 L729.8,391.8 L729.5,392.3 L729.2,392.8 L729,393.2 L728.7,393.7 L728.4,394.2 L728.1,394.6 L727.8,395.1 L727.5,395.5 L727.2,395.9 L726.9,396.4 L726.6,396.8 L726.3,397.3 L726,397.7 L725.6,398.2 L725.3,398.6 L724.9,399.1 L724.6,399.5 L724.2,400 L723.7,400.6 L723.2,401.2 L722.7,401.7 L722.2,402.3 L721.6,402.9 L721.1,403.5 L720.5,404.1 L719.9,404.6 L719.4,405.2 L718.8,405.8 L718.2,406.4 L717.6,407 L716.9,407.6 L716.3,408.2 L715.7,408.7 L715.1,409.3 L714.4,409.9 L713.8,410.5 L713.1,411.1 L712.5,411.7 L711.9,412.3 L711.3,412.8 L710.6,413.4 L710,414 L709.3,414.6 L708.7,415.2 L708,415.8 L707.3,416.5 L706.6,417.1 L705.9,417.7 L705.2,418.3 L704.5,419 L703.8,419.6 L703.1,420.2 L702.4,420.9 L701.7,421.5 L701,422.1 L700.3,422.7 L699.6,423.3 L698.9,423.9 L698.2,424.5 L697.5,425.1 L696.8,425.7 L696.1,426.3 L695.5,426.9 L694.8,427.5 L694.2,428 L693.6,428.6 L693.1,429 L692.7,429.4"/>
<polygon class="a" points="689.5,426 682.9,438.5 695.9,432.9"/>
<path class="e" d="M821,198.4 L820.3,201.2 L819.7,203.9 L819,206.7 L818.4,209.4 L817.7,212.1 L817.1,214.8 L816.5,217.6 L815.9,220.3 L815.2,223 L814.6,225.7 L814,228.4 L813.4,231.1 L812.7,233.9 L812.1,236.6 L811.4,239.4 L810.7,242.1 L810,244.9 L809.3,247.7 L808.6,250.5 L807.8,253.4 L807.1,256.2 L806.3,259.1 L805.5,262.1 L804.6,265 L803.6,268.5 L802.5,272.1 L801.4,275.7 L800.3,279.4 L799.2,283.1 L798,286.9 L796.8,290.6 L795.6,294.4 L794.4,298.3 L793.1,302.1 L791.9,306 L790.6,309.9 L789.3,313.7 L787.9,317.6 L786.6,321.4 L785.3,325.3 L783.9,329.1 L782.5,332.9 L781.1,336.7 L779.7,340.4 L778.3,344.2 L776.9,347.8 L775.4,351.4 L774,355 L772.6,358.3 L771.3,361.6 L769.9,364.9 L768.5,368.2 L767.1,371.5 L765.7,374.8 L764.2,378 L762.8,381.3 L761.3,384.5 L759.9,387.7 L758.4,390.9 L756.9,394.1 L755.4,397.2 L753.9,400.3 L752.4,403.4 L750.8,406.5 L749.3,409.6 L747.7,412.6 L746.1,415.6 L744.5,418.5 L742.9,421.5 L741.3,424.3 L739.6,427.2 L738,430 L736.5,432.4 L735,434.9 L733.5,437.2 L732,439.6 L730.4,441.9 L728.8,444.1 L727.2,446.4 L725.6,448.6 L724,450.8 L722.4,453 L720.8,455.1 L719.2,457.3 L717.5,459.4 L715.9,461.6 L714.3,463.7 L712.7,465.8 L711,467.9 L709.4,470.1 L707.8,472.2 L706.2,474.3 L704.6,476.5 L703.1,478.6 L701.5,480.8 L700,483 L698.5,485.1 L697.1,487.3 L695.6,489.4 L694.2,491.6 L692.7,493.7 L691.3,495.9 L689.9,498 L688.5,500.1 L687,502.3 L685.6,504.4 L684.2,506.6 L682.8,508.7 L681.4,510.8 L680,513 L678.6,515.1 L677.2,517.3 L675.8,519.4 L674.4,521.6 L673.3,523.3"/>
<polygon class="a" points="669.4,520.7 666,534.4 677.2,525.8"/>
<path class="e" d="M854,198.4 L855.3,199.8 L856.6,201.2 L857.9,202.6 L859.3,204 L860.6,205.4 L861.9,206.8 L863.3,208.1 L864.6,209.5 L866,210.9 L867.3,212.3 L868.6,213.7 L870,215.1 L871.3,216.5 L872.6,217.9 L873.9,219.3 L875.2,220.7 L876.5,222.1 L877.8,223.5 L879,224.9 L880.3,226.3 L881.5,227.7 L882.7,229.1 L883.9,230.6 L885,232 L886,233.3 L887.1,234.7 L888.1,236 L889.1,237.3 L890,238.6 L891,239.9 L891.9,241.2 L892.8,242.5 L893.8,243.8 L894.7,245.1 L895.6,246.4 L896.4,247.7 L897.3,249.1 L898.2,250.4 L899.1,251.8 L899.9,253.2 L900.8,254.6 L901.7,256 L902.6,257.4 L903.4,258.9 L904.3,260.4 L905.2,261.9 L906.1,263.4 L907,265 L908.2,267 L909.3,269.1 L910.5,271.3 L911.8,273.4 L913,275.7 L914.3,278 L915.5,280.3 L916.8,282.6 L918.1,285 L919.3,287.4 L920.6,289.9 L921.8,292.3 L923,294.7 L924.2,297.2 L925.4,299.7 L926.5,302.1 L927.6,304.5 L928.7,307 L929.7,309.4 L930.7,311.8 L931.6,314.1 L932.5,316.5 L933.3,318.7 L934,321 L934.6,322.9 L935.1,324.7 L935.7,326.6 L936.2,328.5 L936.6,330.4 L937.1,332.2 L937.5,334.1 L938,336 L938.4,337.8 L938.7,339.7 L939.1,341.5 L939.4,343.4 L939.6,345.2 L939.9,347 L940.1,348.8 L940.3,350.6 L940.5,352.3 L940.6,354.1 L940.7,355.8 L940.8,357.5 L940.9,359.1 L940.9,360.8 L940.9,362.4 L940.8,364 L940.7,365.2 L940.6,366.5 L940.5,367.7 L940.3,368.8 L940.2,370 L940,371.1 L939.8,372.2 L939.5,373.3 L939.2,374.4 L939,375.5 L938.7,376.6 L938.4,377.6 L938,378.7 L937.7,379.8 L937.4,380.8 L937,381.9 L936.6,383 L936.3,384.1 L935.9,385.2 L935.5,386.3 L935.1,387.5 L934.8,388.6 L934.4,389.8 L934,391 L933.5,392.5 L933,394 L932.5,395.6 L932,397.2 L931.5,398.8 L930.9,400.4 L930.3,402 L929.8,403.6 L929.2,405.3 L928.6,407 L928,408.6 L927.3,410.3 L926.7,412 L926.1,413.7 L925.4,415.3 L924.8,417 L924.1,418.7 L923.4,420.3 L922.8,422 L922.1,423.6 L921.4,425.3 L920.8,426.9 L920.1,428.4 L919.4,430 L918.8,431.5 L918.1,432.9 L917.5,434.4 L916.9,435.8 L916.2,437.2 L915.6,438.7 L915,440.1 L914.3,441.5 L913.7,442.9 L913,444.3 L912.4,445.7 L911.7,447.1 L911,448.4 L910.4,449.8 L909.7,451.2 L908.9,452.6 L908.2,454 L907.5,455.4 L906.7,456.8 L905.9,458.2 L905.1,459.6 L904.2,461 L903.4,462.4 L902.5,463.8 L901.4,465.5 L900.4,467.1 L899.3,468.8 L898.1,470.5 L897,472.2 L895.8,473.9 L894.6,475.6 L893.4,477.3 L892.2,479 L891,480.7 L889.7,482.4 L888.4,484.1 L887.1,485.8 L885.7,487.5 L884.3,489.2 L883,490.9 L881.5,492.5 L880.1,494.2 L878.6,495.9 L877.2,497.5 L875.7,499.2 L874.1,500.8 L872.6,502.4 L871,504 L869.2,505.8 L867.3,507.6 L865.3,509.4 L863.4,511.2 L861.3,513 L859.3,514.8 L857.2,516.5 L855,518.3 L852.8,520 L850.7,521.8 L848.4,523.5 L846.2,525.2 L843.9,527 L841.7,528.7 L839.4,530.3 L837.1,532 L834.8,533.7 L832.5,535.3 L830.3,536.9 L828,538.5 L825.7,540.1 L823.5,541.7 L821.2,543.3 L819,544.8 L816.9,546.2 L814.8,547.7 L812.6,549.1 L810.5,550.4 L808.3,551.8 L806.2,553.1 L804,554.5 L801.8,555.8 L799.7,557.1 L797.5,558.4 L795.3,559.6 L793.1,560.9 L790.9,562.2 L788.8,563.4 L786.6,564.7 L784.4,565.9 L782.3,567.2 L780.1,568.4 L778,569.7 L775.9,570.9 L773.8,572.2 L771.7,573.4 L769.6,574.7 L767.5,576 L765.5,577.2 L763.6,578.5 L761.6,579.8 L759.6,581.1 L757.7,582.4 L755.7,583.7 L753.7,585 L751.7,586.3 L749.8,587.7 L747.8,589 L745.8,590.3 L743.9,591.6 L742,592.9 L740.1,594.1 L738.2,595.4 L736.3,596.6 L734.5,597.8 L732.7,599 L730.9,600.1 L729.1,601.2 L727.4,602.2 L725.7,603.2 L724.1,604.1 L722.5,605 L721.4,605.6 L720.4,606.1 L719.4,606.6 L718.5,607.1 L717.5,607.6 L716.6,608.1 L715.7,608.5 L714.8,608.9 L713.9,609.3 L713,609.7 L712.2,610.1 L711.3,610.5 L710.4,610.9 L709.5,611.2 L708.7,611.6 L707.8,612 L706.9,612.3 L706,612.7 L705,613.1 L704.1,613.4 L703.1,613.8 L702.1,614.2 L701.1,614.6 L700,615 L698.6,615.5 L697.1,616.1 L695.6,616.6 L694,617.2 L692.4,617.7 L690.8,618.3 L689.1,618.8 L687.5,619.4 L685.8,619.9 L684,620.5 L682.3,621.1 L680.6,621.6 L678.8,622.1 L677.1,622.7 L675.3,623.2 L673.6,623.8 L671.8,624.3 L670.1,624.9 L668.4,625.4 L666.6,625.9 L664.9,626.4 L663.3,627 L661.6,627.5 L660,628 L658.5,628.5 L657,628.9 L655.4,629.4 L653.9,629.9 L652.3,630.3 L650.8,630.8 L649.2,631.3 L647.7,631.7 L646.1,632.2 L644.5,632.6 L643,633.1 L641.5,633.5 L640,634 L638.5,634.4 L637,634.8 L635.6,635.3 L634.2,635.7 L632.8,636.1 L631.4,636.6 L630.1,637 L628.9,637.4 L627.7,637.9 L626.5,638.3 L625.4,638.7 L624.7,639 L624.4,639.1"/>
<polygon class="a" points="622.4,634.9 612.4,644.8 626.4,643.3"/>
<path class="e" d="M988,183 L986,183.5 L984.1,184 L982.3,184.4 L980.4,184.9 L978.6,185.4 L976.9,185.8 L975.1,186.3 L973.4,186.7 L971.6,187.1 L969.9,187.6 L968.1,188 L966.3,188.5 L964.5,189 L962.6,189.4 L960.7,189.9 L958.7,190.4 L956.7,190.9 L954.6,191.4 L952.4,192 L950.1,192.5 L947.8,193.1 L945.3,193.7 L942.7,194.3 L940,195 L933.3,196.6 L925.6,198.4 L917.1,200.4 L907.8,202.6 L897.7,204.9 L887.1,207.4 L876,210 L864.5,212.6 L852.6,215.4 L840.5,218.2 L828.3,221 L816.1,223.8 L803.9,226.6 L791.8,229.4 L780,232.1 L768.5,234.8 L757.5,237.4 L747,239.8 L737.1,242.2 L727.9,244.4 L719.5,246.4 L712,248.2 L705.4,249.8 L700,251.2 L698.5,251.6 L697,252 L695.6,252.3 L694.4,252.7 L693.1,253 L692,253.4 L690.8,253.7 L689.8,254 L688.8,254.3 L687.9,254.5"/>
<polygon class="a" points="686.6,250 675.1,258.3 689.2,259"/>
<path class="e" d="M1006.4,198.4 L1004.5,201.2 L1002.6,203.9 L1000.8,206.7 L998.9,209.5 L997.1,212.2 L995.2,215 L993.4,217.7 L991.5,220.5 L989.7,223.2 L987.8,225.9 L986,228.7 L984.1,231.4 L982.3,234.2 L980.4,237 L978.5,239.7 L976.6,242.5 L974.7,245.3 L972.8,248.1 L970.9,250.9 L969,253.7 L967,256.5 L965,259.3 L963,262.1 L961,265 L958.8,268.1 L956.5,271.3 L954.2,274.4 L951.9,277.6 L949.6,280.8 L947.2,284 L944.9,287.2 L942.5,290.4 L940.1,293.7 L937.7,296.9 L935.3,300.2 L932.9,303.4 L930.4,306.7 L928,309.9 L925.5,313.2 L923.1,316.4 L920.7,319.7 L918.2,322.9 L915.8,326.2 L913.3,329.4 L911.7,331.7"/>
<polygon class="a" points="907.9,328.9 903.7,342.4 915.4,334.5"/>
<path class="e" d="M1018.3,198.4 L1017.9,199.9 L1017.4,201.5 L1017,203 L1016.5,204.5 L1016.1,206.1 L1015.6,207.6 L1015.2,209.2 L1014.7,210.7 L1014.3,212.3 L1013.8,213.8 L1013.4,215.4 L1012.9,216.9 L1012.5,218.5 L1012.1,220 L1011.6,221.6 L1011.2,223.1 L1010.7,224.6 L1010.3,226.1 L1009.8,227.6 L1009.3,229.1 L1008.9,230.6 L1008.4,232.1 L1008,233.5 L1007.5,235 L1007.1,236.3 L1006.7,237.6 L1006.2,238.8 L1005.8,240.1 L1005.4,241.3 L1005,242.5 L1004.6,243.7 L1004.2,244.9 L1003.8,246 L1003.4,247.2 L1003,248.4 L1002.6,249.6 L1002.2,250.8 L1001.7,252 L1001.3,253.2 L1000.9,254.4 L1000.4,255.6 L1000,256.9 L999.5,258.2 L999,259.5 L998.5,260.8 L998,262.2 L997.5,263.6 L997,265 L996.2,267.1 L995.4,269.3 L994.7,271.5 L993.8,273.8 L993,276.2 L992.2,278.6 L991.3,281.1 L990.4,283.6 L989.5,286.1 L988.6,288.7 L987.7,291.3 L986.8,293.9 L985.8,296.5 L984.8,299.1 L983.8,301.7 L982.8,304.4 L981.8,307 L980.7,309.6 L979.6,312.2 L978.6,314.8 L977.4,317.3 L976.3,319.8 L975.2,322.3 L974,324.7 L972.8,327.1 L971.6,329.5 L970.3,331.9 L969,334.3 L967.7,336.7 L966.3,339.1 L965,341.5 L963.6,343.9 L962.2,346.2 L960.8,348.6 L959.4,351 L957.9,353.3 L956.4,355.6 L955,358 L953.5,360.3 L952,362.6 L950.5,364.9 L949,367.2 L947.5,369.4 L946,371.7 L944.5,374 L943,376.2 L941.5,378.5 L940,380.7 L938.6,382.9 L937.1,385 L935.6,387.2 L934.2,389.4 L932.7,391.6 L931.2,393.8 L929.7,396 L928.2,398.2 L926.7,400.3 L925.2,402.5 L923.7,404.7 L922.2,406.8 L920.7,408.9 L919.2,411 L917.6,413.1 L916.1,415.1 L914.5,417.1 L913,419.1 L911.4,421 L909.9,422.9 L908.3,424.7 L906.8,426.5 L905.2,428.3 L903.6,430 L902.3,431.4 L901,432.7 L899.7,434 L898.4,435.3 L897.1,436.5 L895.8,437.7 L894.5,438.8 L893.2,440 L891.9,441.1 L890.6,442.2 L889.3,443.3 L887.9,444.4 L886.6,445.5 L885.3,446.5 L883.9,447.5 L882.5,448.6 L881.2,449.6 L879.8,450.7 L878.4,451.7 L876.9,452.7 L875.5,453.8 L874,454.8 L872.5,455.9 L871,457 L869.2,458.2 L867.5,459.5 L865.6,460.7 L863.8,462 L861.9,463.2 L860.1,464.4 L858.2,465.6 L856.2,466.9 L854.3,468.1 L852.3,469.3 L850.4,470.5 L848.4,471.7 L846.4,472.9 L844.4,474.1 L842.3,475.3 L840.3,476.5 L838.3,477.7 L836.2,478.9 L834.2,480.1 L832.1,481.3 L830,482.5 L827.9,483.6 L825.9,484.8 L823.8,486 L821.6,487.3 L819.4,488.5 L817.1,489.8 L814.9,491 L812.7,492.3 L810.4,493.5 L808.2,494.8 L805.9,496 L803.7,497.3 L801.4,498.5 L799.1,499.8 L796.8,501 L794.5,502.2 L792.1,503.5 L789.8,504.7 L787.4,505.9 L785,507.1 L782.6,508.3 L780.1,509.5 L777.7,510.7 L775.2,511.9 L772.6,513.1 L770.1,514.3 L767.5,515.5 L764.4,516.9 L761.3,518.2 L758.1,519.6 L754.9,520.9 L751.6,522.3 L748.3,523.6 L745,524.9 L741.6,526.2 L738.2,527.6 L734.7,528.9 L731.3,530.2 L727.8,531.5 L724.3,532.8 L720.8,534 L717.3,535.3 L713.8,536.6 L710.3,537.9 L706.8,539.2 L703.3,540.5 L699.8,541.8 L698.5,542.3"/>
<polygon class="a" points="696.8,537.9 686,547 700.1,546.6"/>
<path class="e" d="M1024.4,198.4 L1024.3,200.1 L1024.3,201.9 L1024.3,203.6 L1024.2,205.3 L1024.2,207 L1024.2,208.7 L1024.1,210.4 L1024.1,212.1 L1024.1,213.8 L1024.1,215.5 L1024,217.2 L1024,219 L1024,220.7 L1023.9,222.4 L1023.9,224.1 L1023.8,225.8 L1023.7,227.6 L1023.7,229.3 L1023.6,231.1 L1023.5,232.8 L1023.4,234.6 L1023.3,236.4 L1023.1,238.2 L1023,240 L1022.8,242 L1022.7,244 L1022.5,246 L1022.3,248 L1022.1,250.1 L1021.9,252.1 L1021.7,254.1 L1021.5,256.1 L1021.3,258.2 L1021,260.2 L1020.8,262.3 L1020.5,264.4 L1020.2,266.4 L1020,268.5 L1019.6,270.7 L1019.3,272.8 L1019,275 L1018.6,277.1 L1018.2,279.4 L1017.8,281.6 L1017.4,283.8 L1017,286.1 L1016.5,288.5 L1016,290.8 L1015.3,294 L1014.6,297.2 L1013.8,300.6 L1013,304 L1012.2,307.5 L1011.3,311.1 L1010.4,314.7 L1009.4,318.4 L1008.4,322.1 L1007.4,325.8 L1006.4,329.5 L1005.3,333.3 L1004.2,337 L1003.1,340.8 L1002,344.5 L1000.8,348.2 L999.6,351.8 L998.4,355.5 L997.2,359 L995.9,362.5 L994.7,365.9 L993.4,369.2 L992.1,372.5 L990.8,375.6 L989.7,378.2 L988.6,380.7 L987.4,383.2 L986.2,385.6 L985,388 L983.8,390.3 L982.6,392.7 L981.3,395 L980.1,397.2 L978.8,399.5 L977.5,401.7 L976.2,403.9 L974.9,406.1 L973.6,408.3 L972.2,410.5 L970.9,412.6 L969.6,414.8 L968.2,416.9 L966.8,419.1 L965.5,421.3 L964.1,423.4 L962.7,425.6 L961.4,427.8 L960,430 L958.6,432.2 L957.2,434.4 L955.8,436.7 L954.4,438.9 L952.9,441.1 L951.5,443.3 L950,445.5 L948.5,447.8 L947,450 L945.5,452.2 L944,454.4 L942.5,456.6 L941,458.8 L939.5,460.9 L938,463.1 L936.5,465.2 L935,467.4 L933.6,469.5 L932.1,471.6 L930.6,473.7 L929.2,475.7 L927.8,477.8 L926.4,479.8 L925,481.8 L923.8,483.5 L922.7,485.2 L921.5,486.9 L920.4,488.6 L919.3,490.3 L918.2,492 L917,493.7 L916,495.3 L914.9,497 L913.8,498.6 L912.7,500.2 L911.6,501.9 L910.5,503.5 L909.4,505.1 L908.3,506.6 L907.2,508.2 L906.1,509.7 L905,511.2 L903.9,512.8 L902.7,514.2 L901.6,515.7 L900.4,517.2 L899.2,518.6 L898,520 L896.9,521.3 L895.8,522.5 L894.6,523.7 L893.5,524.9 L892.4,526.1 L891.3,527.3 L890.2,528.4 L889,529.6 L887.9,530.7 L886.8,531.8 L885.6,532.9 L884.4,534 L883.3,535 L882.1,536.1 L880.8,537.2 L879.6,538.2 L878.3,539.3 L877.1,540.4 L875.8,541.5 L874.4,542.6 L873.1,543.6 L871.7,544.8 L870.3,545.9 L868.8,547 L866.8,548.5 L864.8,550 L862.7,551.5 L860.5,553.1 L858.3,554.6 L856,556.2 L853.7,557.7 L851.3,559.3 L848.9,560.9 L846.4,562.4 L843.9,564 L841.4,565.6 L838.9,567.1 L836.4,568.7 L833.9,570.2 L831.4,571.7 L828.9,573.2 L826.5,574.7 L824,576.2 L821.6,577.6 L819.3,579 L817,580.4 L814.7,581.7 L812.5,583 L810.7,584.1 L808.9,585.1 L807.2,586.1 L805.5,587.1 L803.8,588.1 L802.1,589.1 L800.5,590.1 L798.8,591.1 L797.2,592 L795.6,593 L793.9,593.9 L792.3,594.8 L790.7,595.7 L789.1,596.6 L787.4,597.5 L785.8,598.3 L784.1,599.2 L782.5,600.1 L780.8,600.9 L779.1,601.7 L777.3,602.6 L775.6,603.4 L773.8,604.2 L772,605 L770,605.9 L767.9,606.7 L765.7,607.6 L763.5,608.4 L761.3,609.3 L759,610.1 L756.7,610.9 L754.4,611.7 L752,612.5 L749.7,613.3 L747.3,614.1 L745,614.9 L742.7,615.6 L740.4,616.4 L738.1,617.1 L735.8,617.8 L733.6,618.5 L731.5,619.1 L729.4,619.8 L727.4,620.4 L725.4,621.1 L723.5,621.7 L721.7,622.2 L720,622.8 L719,623.1 L718,623.5 L717.1,623.8 L716.2,624.1 L715.4,624.4 L714.5,624.7 L713.7,624.9 L712.9,625.2 L712.1,625.5 L711.4,625.8 L710.6,626 L709.9,626.3 L709.1,626.5 L708.4,626.8 L707.6,627 L706.9,627.3 L706.1,627.5 L705.3,627.8 L704.5,628 L703.6,628.3 L702.8,628.5 L701.9,628.8 L701,629 L700,629.3 L698.6,629.7 L697.1,630.1 L695.7,630.4 L694.1,630.8 L692.5,631.2 L690.9,631.6 L689.3,632 L687.6,632.4 L685.9,632.8 L684.2,633.2 L682.4,633.5 L680.7,633.9 L678.9,634.3 L677.1,634.7 L675.4,635.1 L673.6,635.4 L671.9,635.8 L670.1,636.2 L668.4,636.5 L666.6,636.9 L664.9,637.3 L663.3,637.6 L661.6,638 L660,638.3 L658.5,638.6 L657,638.9 L655.5,639.2 L654,639.5 L652.5,639.8 L651,640.1 L649.5,640.4 L648,640.7 L646.5,641 L645,641.3 L643.5,641.5 L642,641.8 L640.5,642.1 L639.1,642.4 L637.7,642.6 L636.3,642.9 L634.9,643.2 L633.5,643.4 L632.2,643.7 L630.9,643.9 L629.7,644.2 L628.5,644.4 L627.3,644.7 L626.2,644.9 L625.5,645.1 L625.4,645.1"/>
<polygon class="a" points="624.3,640.5 612.4,648.2 626.5,649.6"/>
<path class="e" d="M1059,198.4 L1060.9,200.1 L1062.8,201.9 L1064.7,203.6 L1066.7,205.3 L1068.6,207 L1070.5,208.7 L1072.5,210.4 L1074.4,212.1 L1076.4,213.8 L1078.3,215.5 L1080.3,217.2 L1082.2,218.9 L1084.2,220.6 L1086.1,222.4 L1088,224.1 L1089.9,225.8 L1091.8,227.5 L1093.6,229.3 L1095.5,231 L1097.3,232.8 L1099.1,234.6 L1100.9,236.4 L1102.7,238.2 L1104.4,240 L1106,241.8 L1107.7,243.5 L1109.3,245.3 L1110.9,247.1 L1112.6,248.9 L1114.2,250.7 L1115.8,252.5 L1117.4,254.3 L1118.9,256.1 L1120.5,258 L1122,259.8 L1123.6,261.7 L1125.1,263.5 L1126.6,265.4 L1128,267.2 L1129.5,269.1 L1130.9,270.9 L1132.3,272.8 L1133.6,274.7 L1135,276.5 L1136.3,278.4 L1137.5,280.3 L1138.8,282.1 L1140,284 L1141.1,285.7 L1142.1,287.4 L1143.1,289.1 L1144.1,290.9 L1145.1,292.6 L1146.1,294.4 L1147,296.2 L1148,298 L1148.9,299.7 L1149.8,301.5 L1150.6,303.3 L1151.5,305.1 L1152.3,306.9 L1153.1,308.6 L1153.9,310.3 L1154.7,312.1 L1155.4,313.8 L1156.1,315.4 L1156.8,317.1 L1157.5,318.7 L1158.2,320.2 L1158.8,321.8 L1159.4,323.3 L1160,324.7 L1160.4,325.7 L1160.8,326.6 L1161.1,327.5 L1161.5,328.4 L1161.8,329.3 L1162.2,330.1 L1162.5,331 L1162.8,331.8 L1163.1,332.6 L1163.4,333.5 L1163.7,334.3 L1163.9,335.1 L1164.2,335.9 L1164.4,336.7 L1164.7,337.5 L1164.9,338.3 L1165.1,339.1 L1165.4,339.9 L1165.6,340.7 L1165.8,341.5 L1166,342.4 L1166.1,343.2 L1166.3,344.1 L1166.5,345 L1166.7,346 L1166.8,346.9 L1167,347.9 L1167.1,348.9 L1167.2,349.9 L1167.3,350.8 L1167.4,351.8 L1167.5,352.8 L1167.5,353.8 L1167.6,354.8 L1167.6,355.8 L1167.7,356.8 L1167.7,357.8 L1167.8,358.8 L1167.8,359.9 L1167.8,360.9 L1167.8,362 L1167.8,363.1 L1167.9,364.2 L1167.9,365.3 L1167.9,366.4 L1167.9,367.6 L1168,368.8 L1168,370 L1168,371.8 L1168.1,373.6 L1168.1,375.4 L1168.1,377.3 L1168.2,379.3 L1168.2,381.3 L1168.2,383.3 L1168.2,385.4 L1168.2,387.5 L1168.2,389.6 L1168.2,391.8 L1168.2,393.9 L1168.1,396.1 L1168.1,398.3 L1168.1,400.5 L1168.1,402.7 L1168.1,404.9 L1168.1,407.1 L1168,409.3 L1168,411.5 L1168,413.6 L1168,415.8 L1168,417.9 L1168,420 L1168,422.1 L1168,424.2 L1168,426.2 L1168,428.3 L1168,430.4 L1168,432.5 L1168,434.6 L1168,436.7 L1168,438.8 L1168,440.8 L1168,442.9 L1168,445 L1168,447.1 L1168,449.2 L1168,451.2 L1168,453.3 L1168,455.4 L1168,457.5 L1168,459.6 L1168,461.7 L1168,463.8 L1168,465.8 L1168,467.9 L1168,470 L1168,472.1 L1168,474.2 L1168,476.3 L1168,478.5 L1168,480.7 L1168,482.8 L1168,485 L1168,487.2 L1168,489.4 L1168,491.6 L1168,493.7 L1168,495.9 L1168.1,498.1 L1168.1,500.2 L1168.1,502.3 L1168.1,504.4 L1168.1,506.5 L1168.1,508.5 L1168,510.5 L1168,512.5 L1168,514.4 L1168,516.3 L1168,518.2 L1168,520 L1168,521.3 L1168,522.6 L1168,523.9 L1168,525.2 L1168,526.4 L1168,527.6 L1168,528.9 L1168,530.1 L1168,531.2 L1168,532.4 L1168,533.6 L1168,534.7 L1168,535.9 L1168,537 L1168,538.1 L1168,539.2 L1167.9,540.3 L1167.9,541.4 L1167.8,542.5 L1167.8,543.6 L1167.7,544.7 L1167.7,545.8 L1167.6,546.9 L1167.5,548 L1167.4,549 L1167.3,549.9 L1167.2,550.9 L1167.1,551.9 L1167.1,552.8 L1167,553.7 L1166.9,554.7 L1166.8,555.6 L1166.6,556.5 L1166.5,557.5 L1166.4,558.4 L1166.3,559.3 L1166.1,560.2 L1166,561.1 L1165.8,562 L1165.7,562.9 L1165.5,563.8 L1165.3,564.7 L1165.1,565.6 L1164.9,566.5 L1164.7,567.4 L1164.5,568.2 L1164.3,569.1 L1164,570 L1163.7,570.9 L1163.5,571.7 L1163.2,572.6 L1162.9,573.5 L1162.6,574.4 L1162.3,575.2 L1162,576.1 L1161.6,576.9 L1161.3,577.8 L1160.9,578.7 L1160.6,579.5 L1160.2,580.4 L1159.8,581.2 L1159.5,582 L1159.1,582.9 L1158.6,583.7 L1158.2,584.5 L1157.8,585.3 L1157.4,586.1 L1156.9,586.9 L1156.4,587.7 L1156,588.5 L1155.5,589.2 L1155,590 L1154.5,590.7 L1154,591.5 L1153.4,592.2 L1152.9,592.9 L1152.3,593.6 L1151.8,594.3 L1151.2,595 L1150.6,595.7 L1150,596.3 L1149.4,597 L1148.7,597.7 L1148.1,598.3 L1147.5,599 L1146.8,599.6 L1146.2,600.3 L1145.5,600.9 L1144.8,601.5 L1144.1,602.2 L1143.5,602.8 L1142.8,603.5 L1142.1,604.1 L1141.4,604.7 L1140.7,605.4 L1140,606 L1139.2,606.7 L1138.5,607.4 L1137.7,608.1 L1137,608.7 L1136.3,609.4 L1135.5,610.1 L1134.8,610.7 L1134.1,611.4 L1133.3,612 L1132.5,612.7 L1131.8,613.3 L1131,614 L1130.2,614.6 L1129.3,615.3 L1128.5,615.9 L1127.6,616.6 L1126.7,617.2 L1125.8,617.9 L1124.8,618.6 L1123.8,619.2 L1122.8,619.9 L1121.8,620.6 L1120.6,621.3 L1119.5,622 L1117.4,623.2 L1115.2,624.5 L1112.8,625.8 L1110.4,627 L1107.8,628.4 L1105.2,629.7 L1102.4,631 L1099.6,632.3 L1096.6,633.7 L1093.7,635.1 L1090.6,636.4 L1087.5,637.8 L1084.3,639.2 L1081.1,640.5 L1077.8,641.9 L1074.5,643.3 L1071.2,644.6 L1067.9,646 L1064.5,647.4 L1061.1,648.7 L1057.8,650.1 L1054.4,651.4 L1051,652.7 L1047.7,654 L1043.6,655.6 L1039.5,657.1 L1035.3,658.7 L1030.9,660.3 L1026.6,661.9 L1022.1,663.5 L1017.6,665.1 L1013,666.7 L1008.4,668.3 L1003.8,669.8 L999.2,671.4 L994.5,673 L989.8,674.5 L985.1,676 L980.4,677.6 L975.8,679.1 L971.1,680.5 L966.5,682 L962,683.4 L957.5,684.8 L953,686.1 L948.6,687.5 L944.3,688.7 L940,690 L936.4,691.1 L932.8,692.1 L929.4,693.1 L925.9,694.1 L922.5,695 L919.2,696 L915.9,696.9 L912.6,697.8 L909.3,698.7 L906,699.5 L902.8,700.4 L899.5,701.2 L896.2,702 L892.9,702.9 L889.6,703.7 L886.3,704.5 L882.9,705.3 L879.4,706.1 L875.9,706.9 L872.4,707.6 L868.8,708.4 L865.1,709.2 L861.3,710 L857.5,710.8 L852.4,711.8 L847.1,712.8 L841.6,713.8 L836,714.8 L830.2,715.8 L824.3,716.8 L818.3,717.8 L812.2,718.8 L806.1,719.8 L799.9,720.7 L793.7,721.7 L787.5,722.6 L781.3,723.5 L775.1,724.4 L769,725.3 L763,726.2 L757.1,727 L751.3,727.8 L745.6,728.6 L740.1,729.4 L734.7,730.2 L729.6,730.9 L724.7,731.6 L720,732.3 L717,732.7 L714.1,733.2 L711.2,733.6 L708.4,734 L705.6,734.4 L702.9,734.8 L700.2,735.2 L697.6,735.5 L695,735.9 L692.4,736.3 L689.9,736.6 L687.4,736.9 L685,737.3 L682.6,737.6 L680.2,737.9 L677.9,738.2 L675.6,738.5 L673.3,738.8 L671,739.1 L668.8,739.4 L666.5,739.7 L664.3,740 L662.2,740.2 L660,740.5 L658.4,740.7 L656.8,740.9 L655.2,741 L653.5,741.2 L652,741.4 L650.4,741.5 L648.8,741.7 L647.3,741.8 L645.7,741.9 L644.2,742.1 L642.7,742.2 L641.3,742.3 L639.8,742.5 L638.4,742.6 L637,742.7 L635.6,742.9 L634.2,743 L632.9,743.2 L631.6,743.3 L630.4,743.4 L629.2,743.6 L628,743.8 L626.8,743.9 L625.7,744.1 L625.4,744.2"/>
<polygon class="a" points="624.4,739.6 612.4,747.1 626.4,748.7"/>
<path class="e" d="M1094,152 L963.3,97.7"/>
<polygon class="a" points="965.1,93.4 951,92.6 961.5,102"/>
<path class="e" d="M1175,198.4 L1177.5,199.9 L1180.1,201.5 L1182.7,203.1 L1185.3,204.7 L1188,206.3 L1190.7,208 L1193.3,209.6 L1196,211.3 L1198.7,212.9 L1201.4,214.6 L1204.1,216.2 L1206.8,217.8 L1209.4,219.4 L1212,221 L1214.6,222.6 L1217.1,224.1 L1219.6,225.7 L1222,227.1 L1224.3,228.6 L1226.6,230 L1228.8,231.3 L1230.9,232.6 L1232.9,233.8 L1234.8,235 L1235.9,235.7 L1237,236.3 L1238,237 L1239,237.6 L1240,238.2 L1240.9,238.8 L1241.8,239.3 L1242.7,239.9 L1243.6,240.4 L1244.5,241 L1244.9,241.2"/>
<polygon class="a" points="1242.4,245.2 1256.2,248.2 1247.3,237.2"/>
<path class="e" d="M1159.4,198.4 L1160.4,199.9 L1161.3,201.4 L1162.3,202.9 L1163.3,204.5 L1164.3,206 L1165.3,207.5 L1166.4,209 L1167.4,210.5 L1168.4,212 L1169.4,213.5 L1170.4,215 L1171.4,216.5 L1172.4,218 L1173.4,219.5 L1174.4,221 L1175.4,222.5 L1176.3,224.1 L1177.2,225.6 L1178.1,227.1 L1178.9,228.7 L1179.7,230.2 L1180.5,231.8 L1181.3,233.4 L1182,235 L1182.7,236.6 L1183.3,238.2 L1184,239.8 L1184.7,241.4 L1185.3,243 L1185.9,244.7 L1186.6,246.3 L1187.2,248 L1187.7,249.7 L1188.3,251.4 L1188.8,253.1 L1189.4,254.7 L1189.8,256.4 L1190.3,258.1 L1190.7,259.8 L1191.1,261.4 L1191.4,263.1 L1191.7,264.7 L1192,266.3 L1192.2,267.9 L1192.3,269.5 L1192.4,271 L1192.5,272.5 L1192.5,274 L1192.5,275.2 L1192.4,276.4 L1192.2,277.6 L1192.1,278.7 L1191.9,279.9 L1191.6,281 L1191.4,282.1 L1191.1,283.2 L1190.8,284.3 L1190.4,285.4 L1190,286.5 L1189.6,287.5 L1189.2,288.6 L1188.8,289.7 L1188.4,290.8 L1187.9,291.9 L1187.4,293 L1187,294.1 L1186.5,295.2 L1186,296.3 L1185.5,297.4 L1185,298.6 L1184.5,299.8 L1184,301 L1183.4,302.5 L1182.7,304.1 L1182.1,305.7 L1181.4,307.2 L1180.7,308.8 L1180,310.4 L1179.3,311.9 L1178.6,313.5 L1177.8,315.2 L1177.1,316.8 L1176.3,318.4 L1175.5,320.1 L1174.6,321.7 L1173.8,323.4 L1172.9,325.2 L1172,326.9 L1171.1,328.6 L1170.1,330.4 L1169.1,332.2 L1168.1,334.1 L1167,335.9 L1166,337.8 L1164.8,339.7 L1163.7,341.7 L1161.9,344.8 L1159.9,348 L1157.9,351.4 L1155.9,354.8 L1153.7,358.4 L1151.5,362 L1149.2,365.7 L1146.8,369.5 L1144.4,373.3 L1141.9,377.2 L1139.4,381.1 L1136.8,385 L1134.1,389 L1131.4,392.9 L1128.7,396.8 L1125.9,400.8 L1123.1,404.6 L1120.3,408.5 L1117.4,412.3 L1114.5,416 L1111.6,419.6 L1108.6,423.2 L1105.7,426.6 L1102.7,430 L1099.7,433.3 L1096.6,436.6 L1093.4,439.9 L1090.2,443.1 L1086.9,446.3 L1083.5,449.5 L1080.1,452.6 L1076.7,455.8 L1073.2,458.8 L1069.8,461.9 L1066.2,464.9 L1062.7,467.9 L1059.1,470.9 L1055.5,473.8 L1051.9,476.6 L1048.3,479.5 L1044.8,482.3 L1041.2,485 L1037.6,487.7 L1034,490.4 L1030.5,493 L1027,495.5 L1023.5,498 L1020,500.5 L1017,502.6 L1013.9,504.7 L1010.9,506.7 L1007.9,508.6 L1004.9,510.5 L1001.8,512.4 L998.8,514.2 L995.8,516 L992.7,517.8 L989.7,519.5 L986.7,521.3 L983.6,522.9 L980.6,524.6 L977.6,526.3 L974.5,527.9 L971.5,529.5 L968.5,531.1 L965.5,532.7 L962.5,534.4 L959.5,536 L956.5,537.6 L953.5,539.2 L950.5,540.9 L947.5,542.5 L944.7,544.1 L941.8,545.7 L939,547.2 L936.1,548.8 L933.3,550.4 L930.4,552 L927.6,553.5 L924.8,555.1 L921.9,556.7 L919.1,558.2 L916.3,559.7 L913.5,561.3 L910.7,562.8 L907.8,564.3 L905,565.8 L902.2,567.2 L899.4,568.7 L896.6,570.2 L893.9,571.6 L891.1,573 L888.3,574.4 L885.5,575.8 L882.8,577.2 L880,578.5 L877.4,579.7 L874.9,580.9 L872.3,582.1 L869.8,583.3 L867.2,584.5 L864.7,585.7 L862.1,586.8 L859.6,587.9 L857,589.1 L854.5,590.2 L852,591.3 L849.4,592.4 L846.9,593.4 L844.4,594.5 L841.9,595.6 L839.4,596.6 L836.9,597.6 L834.5,598.7 L832,599.7 L829.6,600.7 L827.2,601.7 L824.8,602.7 L822.4,603.6 L820,604.6 L817.9,605.4 L815.9,606.3 L813.9,607.1 L811.9,607.9 L809.9,608.7 L808,609.5 L806,610.3 L804.1,611.1 L802.2,611.8 L800.2,612.6 L798.3,613.4 L796.4,614.1 L794.5,614.9 L792.6,615.6 L790.7,616.3 L788.8,617 L786.8,617.7 L784.9,618.4 L782.9,619.1 L781,619.8 L779,620.5 L777,621.1 L775,621.8 L773,622.4 L770.9,623.1 L768.7,623.7 L766.5,624.3 L764.3,625 L762.1,625.6 L759.9,626.2 L757.6,626.8 L755.4,627.4 L753.1,628 L750.8,628.6 L748.6,629.1 L746.3,629.7 L744,630.2 L741.8,630.7 L739.5,631.3 L737.3,631.8 L735.1,632.3 L732.8,632.8 L730.7,633.3 L728.5,633.7 L726.3,634.2 L724.2,634.6 L722.1,635.1 L720,635.5 L718.2,635.9 L716.5,636.2 L714.8,636.5 L713,636.8 L711.3,637.2 L709.7,637.5 L708,637.7 L706.3,638 L704.7,638.3 L703,638.6 L701.4,638.8 L699.7,639.1 L698.1,639.3 L696.5,639.6 L694.8,639.8 L693.2,640.1 L691.6,640.3 L689.9,640.5 L688.3,640.8 L686.7,641 L685,641.3 L683.3,641.5 L681.7,641.7 L680,642 L678.3,642.3 L676.5,642.5 L674.8,642.8 L673,643 L671.2,643.3 L669.5,643.6 L667.7,643.8 L665.9,644.1 L664.1,644.3 L662.3,644.6 L660.5,644.8 L658.7,645.1 L656.9,645.3 L655.2,645.6 L653.4,645.8 L651.7,646 L649.9,646.3 L648.2,646.5 L646.5,646.7 L644.9,646.9 L643.2,647.1 L641.6,647.3 L640,647.5 L638.5,647.7 L637.3,647.8 L636.1,648 L635,648.1 L633.8,648.2 L632.7,648.3 L631.6,648.4 L630.5,648.6 L629.4,648.7 L628.3,648.8 L627.2,648.9 L626.1,649 L625.7,649"/>
<polygon class="a" points="625.3,644.4 612.4,650.2 626.1,653.7"/>
<path class="e" d="M1253.5,152.3 L1252.8,152.1 L1252.1,151.8 L1251.5,151.6 L1250.8,151.4 L1250.2,151.2 L1249.5,151 L1248.9,150.7 L1248.3,150.5 L1247.6,150.3 L1247,150.1 L1246.3,149.8 L1245.7,149.6 L1245,149.4 L1244.4,149.2 L1243.7,148.9 L1243,148.7 L1242.3,148.5 L1241.6,148.3 L1240.9,148 L1240.1,147.8 L1239.4,147.5 L1238.6,147.3 L1237.8,147.1 L1237,146.8 L1235.7,146.4 L1234.5,146 L1233.1,145.6 L1231.8,145.2 L1230.4,144.8 L1228.9,144.4 L1227.5,144 L1226,143.6 L1224.5,143.2 L1222.9,142.7 L1221.4,142.3 L1219.8,141.9 L1218.2,141.4 L1216.6,141 L1215,140.5 L1213.3,140.1 L1211.7,139.7 L1210,139.2 L1208.3,138.8 L1206.7,138.3 L1205,137.9 L1203.3,137.5 L1201.7,137 L1200,136.6 L1198.1,136.1 L1196.1,135.6 L1194.1,135.1 L1192.1,134.6 L1190.1,134.1 L1188,133.6 L1186,133.1 L1183.9,132.6 L1181.8,132.1 L1179.7,131.6 L1177.5,131.1 L1175.4,130.6 L1173.3,130.1 L1171.2,129.6 L1169,129.1 L1166.9,128.6 L1164.7,128.1 L1162.6,127.7 L1160.5,127.2 L1158.4,126.7 L1156.3,126.2 L1154.2,125.7 L1152.1,125.2 L1150,124.7 L1148,124.2 L1146,123.7 L1144,123.3 L1142,122.8 L1140,122.3 L1138,121.9 L1136,121.4 L1134,120.9 L1132,120.5 L1130,120 L1128,119.5 L1126.1,119.1 L1124.1,118.6 L1122.1,118.1 L1120.1,117.7 L1118.1,117.2 L1116.1,116.7 L1114.1,116.3 L1112.1,115.8 L1110.1,115.3 L1108.1,114.8 L1106.1,114.4 L1104,113.9 L1102,113.4 L1099.9,112.9 L1097.7,112.4 L1095.6,111.9 L1093.4,111.3 L1091.2,110.8 L1089,110.3 L1086.8,109.8 L1084.6,109.2 L1082.4,108.7 L1080.1,108.2 L1077.9,107.6 L1075.7,107.1 L1073.5,106.6 L1071.3,106 L1069.1,105.5 L1066.9,105 L1064.7,104.5 L1062.6,103.9 L1060.4,103.4 L1058.3,102.9 L1056.2,102.4 L1054.1,101.9 L1052,101.5 L1050,101 L1048.2,100.6 L1046.5,100.2 L1044.7,99.8 L1043,99.4 L1041.2,99 L1039.5,98.6 L1037.8,98.2 L1036.1,97.8 L1034.4,97.4 L1032.7,97 L1031,96.7 L1029.3,96.3 L1027.6,95.9 L1026,95.5 L1024.3,95.2 L1022.7,94.8 L1021.1,94.5 L1019.4,94.1 L1017.8,93.8 L1016.3,93.5 L1014.7,93.1 L1013.1,92.8 L1011.5,92.5 L1010,92.2 L1008.7,91.9 L1007.4,91.7 L1006.1,91.5 L1004.8,91.2 L1003.5,91 L1002.2,90.7 L1000.9,90.5 L999.6,90.3 L998.3,90.1 L997.1,89.9 L995.8,89.6 L994.6,89.4 L993.4,89.2 L992.1,89 L990.9,88.8 L989.7,88.6 L988.6,88.4 L987.4,88.3 L986.2,88.1 L985.1,87.9 L984,87.7 L982.9,87.5 L981.8,87.4 L980.8,87.2 L980,87.1 L979.3,87 L978.6,86.8 L977.8,86.7 L977.1,86.6 L976.4,86.5 L975.7,86.4 L975,86.3 L974.4,86.2 L973.7,86.1 L973,86 L972.4,85.9 L971.7,85.8 L971.1,85.7 L970.4,85.6 L969.8,85.5 L969.2,85.4 L968.5,85.3 L967.9,85.2 L967.3,85.1 L966.6,85.1 L966,85 L965.3,84.9 L964.7,84.8 L964.3,84.7"/>
<polygon class="a" points="964.8,80.1 951,83.3 963.7,89.4"/>
<path class="e" d="M1291.3,198.4 L1292,233.1"/>
<polygon class="a" points="1287.3,233.2 1292.2,246.4 1296.6,233"/>
<path class="e" d="M675.1,293 L839,351.5"/>
<polygon class="a" points="837.5,355.9 851.6,356 840.6,347.1"/>
<path class="e" d="M619.5,294.4 L619.8,296.9 L620.1,299.5 L620.4,302 L620.7,304.6 L620.9,307.2 L621.2,309.8 L621.5,312.3 L621.8,314.9 L622.1,317.5 L622.4,320.1 L622.7,322.7 L623,325.3 L623.3,327.8 L623.5,330.4 L623.8,332.9 L624.1,335.5 L624.4,338 L624.7,340.5 L625,343 L625.3,345.4 L625.6,347.9 L625.9,350.3 L626.2,352.6 L626.5,355 L626.8,357 L627,359 L627.3,361 L627.5,362.9 L627.8,364.9 L628.1,366.8 L628.3,368.7 L628.6,370.6 L628.9,372.5 L629.1,374.4 L629.4,376.3 L629.7,378.2 L629.9,380 L630.2,381.9 L630.5,383.7 L630.7,385.5 L631,387.3 L631.3,389.2 L631.6,391 L631.8,392.8 L632.1,394.6 L632.4,396.4 L632.7,398.2 L633,400 L633.3,401.7 L633.6,403.3 L633.8,405 L634.1,406.6 L634.4,408.2 L634.7,409.8 L635,411.4 L635.3,413 L635.6,414.6 L635.9,416.2 L636.1,417.8 L636.4,419.4 L636.7,421 L637,422.6 L637.3,424.1 L637.6,425.3"/>
<polygon class="a" points="633,426.2 640,438.4 642.1,424.4"/>
<path class="e" d="M607.4,294.4 L606.9,295.5 L606.4,296.6 L605.8,297.7 L605.3,298.8 L604.8,299.9 L604.2,301 L603.7,302.1 L603.1,303.2 L602.6,304.2 L602,305.3 L601.5,306.4 L601,307.5 L600.4,308.6 L599.9,309.7 L599.4,310.8 L598.9,311.9 L598.3,313 L597.8,314.1 L597.3,315.3 L596.9,316.4 L596.4,317.5 L595.9,318.7 L595.4,319.8 L595,321 L594.5,322.2 L594.1,323.5 L593.6,324.7 L593.2,326 L592.8,327.3 L592.3,328.6 L591.9,329.9 L591.5,331.2 L591.1,332.5 L590.7,333.8 L590.3,335.1 L589.9,336.5 L589.5,337.8 L589.2,339.1 L588.8,340.4 L588.4,341.7 L588.1,343.1 L587.8,344.4 L587.4,345.7 L587.1,346.9 L586.8,348.2 L586.5,349.5 L586.3,350.8 L586,352 L585.8,353.1 L585.6,354.2 L585.3,355.3 L585.2,356.3 L585,357.4 L584.8,358.4 L584.6,359.5 L584.5,360.5 L584.3,361.6 L584.1,362.6 L584,363.6 L583.9,364.7 L583.7,365.7 L583.6,366.8 L583.5,367.8 L583.4,368.8 L583.3,369.9 L583.2,370.9 L583.1,372 L583,373.1 L582.9,374.2 L582.8,375.3 L582.7,376.4 L582.6,377.5 L582.5,378.8 L582.4,380.1 L582.3,381.4 L582.3,382.7 L582.2,384.1 L582.1,385.4 L582.1,386.8 L582,388.2 L582,389.6 L581.9,391 L581.9,392.4 L581.9,393.8 L581.8,395.2 L581.8,396.6 L581.8,397.9 L581.8,399.3 L581.8,400.7 L581.8,402.1 L581.7,403.4 L581.7,404.8 L581.7,406.1 L581.7,407.4 L581.7,408.7 L581.7,410 L581.7,411.1 L581.7,412.2 L581.7,413.3 L581.7,414.4 L581.7,415.4 L581.7,416.5 L581.7,417.5 L581.7,418.6 L581.7,419.6 L581.7,420.7 L581.7,421.7 L581.7,422.7 L581.7,423.7 L581.7,424.8 L581.7,425.8 L581.7,426.8 L581.7,427.8 L581.8,428.8 L581.8,429.9 L581.8,430.9 L581.9,431.9 L581.9,432.9 L582,434 L582,435 L582.1,436 L582.1,437.1 L582.2,438.1 L582.2,439.2 L582.3,440.2 L582.3,441.3 L582.4,442.4 L582.4,443.4 L582.5,444.5 L582.6,445.5 L582.7,446.6 L582.7,447.6 L582.8,448.7 L582.9,449.7 L583,450.8 L583.1,451.8 L583.2,452.9 L583.3,453.9 L583.4,454.9 L583.6,456 L583.7,457 L583.9,458 L584,459 L584.2,460 L584.4,460.9 L584.5,461.9 L584.7,462.8 L584.9,463.7 L585.1,464.6 L585.3,465.5 L585.5,466.4 L585.7,467.3 L585.9,468.2 L586.1,469.1 L586.3,470 L586.5,470.9 L586.8,471.8 L587,472.7 L587.3,473.5 L587.5,474.4 L587.8,475.3 L588.1,476.2 L588.4,477.1 L588.7,478 L589,478.9 L589.3,479.9 L589.7,480.8 L590,481.7 L590.4,482.8 L590.9,483.9 L591.3,485 L591.8,486.1 L592.3,487.3 L592.8,488.4 L593.3,489.6 L593.9,490.8 L594.4,491.9 L595,493.1 L595.6,494.3 L596.1,495.4 L596.7,496.6 L597.3,497.8 L597.9,498.9 L598.5,500 L599.1,501.1 L599.7,502.2 L600.3,503.3 L600.9,504.4 L601.5,505.4 L602.1,506.4 L602.7,507.4 L603.3,508.3 L603.8,509 L604.2,509.7 L604.7,510.4 L605.1,511.1 L605.6,511.8 L606.1,512.4 L606.5,513.1 L607,513.7 L607.5,514.3 L607.9,514.9 L608.4,515.5 L608.9,516.1 L609.4,516.7 L609.8,517.3 L610.3,517.9 L610.8,518.5 L611.2,519 L611.7,519.6 L612.2,520.2 L612.7,520.7 L613.1,521.3 L613.6,521.9 L614,522.4 L614.5,523 L614.9,523.5 L615.3,524 L615.5,524.3"/>
<polygon class="a" points="612,527.3 624.2,534.4 619.1,521.2"/>
<path class="e" d="M606,294.4 L605.5,295.5 L605,296.6 L604.5,297.7 L604,298.8 L603.5,299.9 L602.9,301 L602.4,302 L601.9,303.1 L601.4,304.2 L600.9,305.3 L600.3,306.4 L599.8,307.4 L599.3,308.5 L598.8,309.6 L598.3,310.7 L597.8,311.8 L597.3,312.9 L596.8,314.1 L596.3,315.2 L595.8,316.3 L595.4,317.5 L594.9,318.6 L594.4,319.8 L594,321 L593.5,322.3 L593,323.6 L592.6,325 L592.1,326.3 L591.6,327.6 L591.2,328.9 L590.7,330.3 L590.3,331.6 L589.8,333 L589.4,334.4 L588.9,335.7 L588.5,337.1 L588.1,338.5 L587.7,340 L587.3,341.4 L586.9,342.8 L586.5,344.3 L586.1,345.8 L585.7,347.3 L585.4,348.8 L585,350.3 L584.7,351.8 L584.3,353.4 L584,355 L583.6,357 L583.2,359.1 L582.8,361.3 L582.5,363.5 L582.1,365.8 L581.8,368.1 L581.5,370.4 L581.2,372.8 L580.9,375.2 L580.6,377.6 L580.4,380.1 L580.1,382.5 L579.9,384.9 L579.6,387.3 L579.4,389.8 L579.1,392.2 L578.9,394.5 L578.7,396.9 L578.5,399.2 L578.3,401.5 L578.1,403.7 L577.9,405.9 L577.7,408 L577.5,410 L577.4,411.5 L577.2,413 L577.1,414.5 L576.9,415.9 L576.8,417.4 L576.7,418.7 L576.6,420.1 L576.5,421.5 L576.4,422.8 L576.3,424.1 L576.2,425.4 L576.1,426.7 L576,428 L575.9,429.4 L575.8,430.7 L575.7,432 L575.6,433.3 L575.5,434.7 L575.4,436.1 L575.3,437.5 L575.3,438.9 L575.2,440.3 L575.1,441.8 L575,443.3 L574.9,445.2 L574.8,447.1 L574.7,449.1 L574.6,451.1 L574.5,453.1 L574.4,455.1 L574.3,457.2 L574.2,459.3 L574.1,461.4 L574.1,463.5 L574,465.6 L573.9,467.8 L573.8,469.9 L573.7,472.1 L573.6,474.2 L573.6,476.4 L573.5,478.5 L573.4,480.7 L573.4,482.8 L573.3,484.9 L573.2,487.1 L573.1,489.2 L573.1,491.2 L573,493.3 L572.9,495.3 L572.9,497.3 L572.8,499.3 L572.7,501.3 L572.7,503.3 L572.6,505.3 L572.5,507.3 L572.5,509.4 L572.4,511.4 L572.4,513.4 L572.3,515.4 L572.2,517.4 L572.2,519.4 L572.1,521.4 L572.1,523.3 L572,525.3 L572,527.2 L571.9,529.1 L571.9,531 L571.8,532.8 L571.8,534.7 L571.8,536.5 L571.7,538.3 L571.7,540 L571.7,541.4 L571.7,542.7 L571.6,544.1 L571.6,545.4 L571.6,546.7 L571.6,548 L571.5,549.3 L571.5,550.5 L571.5,551.8 L571.5,553 L571.5,554.3 L571.5,555.5 L571.5,556.7 L571.4,557.9 L571.4,559.1 L571.4,560.3 L571.4,561.5 L571.4,562.7 L571.4,563.9 L571.4,565.1 L571.5,566.3 L571.5,567.6 L571.5,568.8 L571.5,570 L571.5,571.2 L571.5,572.4 L571.6,573.5 L571.6,574.7 L571.6,575.9 L571.7,577 L571.7,578.2 L571.8,579.3 L571.8,580.5 L571.8,581.6 L571.9,582.8 L571.9,583.9 L572,585.1 L572.1,586.2 L572.1,587.4 L572.2,588.6 L572.2,589.7 L572.3,590.9 L572.3,592.1 L572.4,593.2 L572.4,594.4 L572.5,595.6 L572.5,596.8 L572.6,598 L572.7,599.3 L572.7,600.6 L572.8,601.9 L572.8,603.3 L572.9,604.6 L573,605.9 L573,607.3 L573.1,608.6 L573.2,610 L573.2,611.3 L573.3,612.7 L573.4,614.1 L573.4,615.4 L573.5,616.8 L573.5,617.1"/>
<polygon class="a" points="568.9,617.3 574.2,630.4 578.2,616.9"/>
<path class="e" d="M605,294.4 L604.4,295.3 L603.7,296.2 L603.1,297 L602.4,297.9 L601.8,298.8 L601.1,299.6 L600.5,300.5 L599.8,301.3 L599.2,302.2 L598.5,303.1 L597.9,303.9 L597.2,304.8 L596.6,305.7 L595.9,306.5 L595.3,307.4 L594.6,308.3 L594,309.2 L593.4,310.1 L592.7,311 L592.1,311.9 L591.5,312.8 L590.9,313.7 L590.3,314.7 L589.7,315.6 L589.1,316.6 L588.5,317.7 L587.8,318.7 L587.2,319.8 L586.6,320.8 L586,321.9 L585.5,323 L584.9,324.1 L584.3,325.2 L583.7,326.3 L583.1,327.4 L582.6,328.5 L582,329.6 L581.4,330.7 L580.9,331.8 L580.3,333 L579.8,334.1 L579.2,335.2 L578.7,336.4 L578.1,337.5 L577.6,338.6 L577.1,339.7 L576.5,340.9 L576,342 L575.5,343.1 L574.9,344.3 L574.4,345.4 L573.9,346.5 L573.3,347.7 L572.8,348.8 L572.3,349.9 L571.8,351 L571.3,352.2 L570.8,353.3 L570.3,354.4 L569.8,355.6 L569.3,356.7 L568.8,357.9 L568.3,359 L567.8,360.2 L567.3,361.4 L566.8,362.6 L566.3,363.8 L565.9,365 L565.4,366.2 L564.9,367.5 L564.5,368.7 L564,370 L563.5,371.5 L562.9,373.1 L562.4,374.7 L561.9,376.3 L561.4,377.9 L560.9,379.5 L560.5,381.2 L560,382.9 L559.5,384.6 L559,386.3 L558.6,388 L558.1,389.8 L557.6,391.5 L557.2,393.2 L556.7,394.9 L556.3,396.7 L555.8,398.4 L555.3,400.1 L554.9,401.8 L554.4,403.5 L553.9,405.1 L553.5,406.8 L553,408.4 L552.5,410 L552.1,411.4 L551.6,412.9 L551.1,414.3 L550.7,415.7 L550.2,417.1 L549.7,418.5 L549.3,419.8 L548.8,421.2 L548.3,422.5 L547.9,423.9 L547.4,425.2 L546.9,426.6 L546.5,427.9 L546,429.3 L545.5,430.6 L545.1,432 L544.6,433.4 L544.2,434.7 L543.8,436.1 L543.3,437.5 L542.9,439 L542.5,440.4 L542.1,441.8 L541.7,443.3 L541.3,444.9 L540.9,446.6 L540.5,448.2 L540.1,449.9 L539.7,451.5 L539.3,453.2 L538.9,454.9 L538.5,456.6 L538.1,458.3 L537.8,460 L537.4,461.7 L537.1,463.4 L536.7,465.2 L536.4,466.9 L536.1,468.7 L535.7,470.5 L535.4,472.2 L535.1,474 L534.8,475.8 L534.5,477.6 L534.2,479.5 L533.9,481.3 L533.6,483.1 L533.3,485 L533,487.1 L532.7,489.3 L532.4,491.5 L532.1,493.7 L531.8,495.9 L531.5,498.2 L531.3,500.4 L531,502.7 L530.8,505 L530.6,507.3 L530.3,509.6 L530.1,512 L529.9,514.3 L529.6,516.6 L529.4,519 L529.2,521.3 L529,523.7 L528.8,526 L528.6,528.4 L528.4,530.7 L528.2,533 L527.9,535.4 L527.7,537.7 L527.5,540 L527.3,542.3 L527.1,544.7 L526.8,547.1 L526.6,549.5 L526.4,551.9 L526.2,554.3 L526,556.7 L525.8,559.1 L525.6,561.6 L525.4,564 L525.2,566.4 L525,568.8 L524.8,571.3 L524.6,573.6 L524.4,576 L524.2,578.4 L524,580.7 L523.8,583 L523.6,585.2 L523.4,587.5 L523.2,589.7 L523,591.8 L522.8,593.9 L522.6,596 L522.4,597.6 L522.3,599.1 L522.1,600.7 L522,602.2 L521.8,603.7 L521.7,605.2 L521.5,606.6 L521.3,608.1 L521.2,609.5 L521,610.9 L520.9,612.3 L520.7,613.7 L520.6,615.1 L520.4,616.5 L520.2,617.9 L520.1,619.2 L519.9,620.6 L519.8,621.9 L519.6,623.2 L519.4,624.6 L519.3,625.9 L519.1,627.2 L519,628.5 L518.8,629.8 L518.7,630.9 L518.5,632.1 L518.4,633.2 L518.2,634.4 L518,635.5 L517.9,636.7 L517.7,637.8 L517.5,638.9 L517.4,640.1 L517.2,641.2 L517,642.3 L516.9,643.4 L516.7,644.5 L516.5,645.6 L516.4,646.6 L516.2,647.7 L516.1,648.7 L516,649.7 L515.8,650.6 L515.7,651.6 L515.6,652.5 L515.5,653.4 L515.5,654.2 L515.4,655 L515.4,655.5 L515.3,655.9 L515.3,656.3 L515.3,656.7 L515.2,657.1 L515.2,657.5 L515.2,657.8 L515.2,658.2 L515.1,658.5 L515.1,658.9 L515.1,659.2 L515.1,659.6 L515.1,659.9 L515.1,660.2 L515.1,660.6 L515.1,660.9 L515.1,661.3 L515.1,661.6 L515.1,662 L515.1,662.3 L515.2,662.7 L515.2,663.1 L515.2,663.6 L515.3,664 L515.4,664.7 L515.5,665.5 L515.6,666.2 L515.8,667 L515.9,667.9 L516.1,668.7 L516.3,669.6 L516.5,670.4 L516.7,671.3 L516.9,672.2 L517.2,673.2 L517.4,674.1 L517.7,675 L517.9,676 L518.2,676.9 L518.5,677.8 L518.8,678.8 L519.1,679.7 L519.4,680.6 L519.7,681.5 L520,682.4 L520.3,683.3 L520.7,684.2 L521,685 L521.3,685.8 L521.7,686.7 L522.1,687.5 L522.4,688.3 L522.8,689.1 L523.2,689.9 L523.6,690.7 L524,691.5 L524.4,692.3 L524.8,693.1 L525.2,693.8 L525.6,694.6 L526.1,695.4 L526.5,696.2 L527,697 L527.4,697.7 L527.9,698.5 L528.4,699.3 L528.9,700.1 L529.4,700.8 L530,701.6 L530.5,702.4 L531,703.2 L531.6,704 L532.3,704.9 L533,705.9 L533.7,706.8 L534.5,707.8 L535.3,708.7 L536,709.6 L536.9,710.6 L537.7,711.5 L538.5,712.5 L539.4,713.4 L540.3,714.3 L541.1,715.3 L542,716.2 L542.6,716.9"/>
<polygon class="a" points="539.2,720 551.7,726.6 546,713.7"/>
<path class="e" d="M851,350.5 L687.6,292"/>
<polygon class="a" points="689.2,287.6 675.1,287.5 686.1,296.4"/>
<path class="e" d="M851,379.3 L697.4,440.5"/>
<polygon class="a" points="695.7,436.1 685,445.4 699.1,444.8"/>
<path class="e" d="M870,390.4 L868.7,392.1 L867.4,393.7 L866.1,395.4 L864.8,397 L863.6,398.7 L862.3,400.3 L861.1,402 L859.8,403.6 L858.6,405.3 L857.3,406.9 L856.1,408.6 L854.8,410.2 L853.6,411.9 L852.3,413.5 L851,415.2 L849.7,416.8 L848.4,418.5 L847,420.1 L845.6,421.8 L844.2,423.4 L842.8,425.1 L841.4,426.7 L839.9,428.4 L838.4,430 L836.6,431.9 L834.8,433.8 L833,435.7 L831.1,437.6 L829.2,439.5 L827.2,441.5 L825.3,443.4 L823.3,445.3 L821.2,447.3 L819.2,449.2 L817.1,451.1 L815,453.1 L813,455 L810.9,456.9 L808.8,458.8 L806.6,460.7 L804.5,462.5 L802.4,464.4 L800.3,466.2 L798.2,468 L796.2,469.8 L794.1,471.6 L792,473.3 L790,475 L788.1,476.6 L786.3,478.1 L784.4,479.6 L782.6,481.1 L780.8,482.6 L779,484 L777.1,485.5 L775.3,486.9 L773.5,488.3 L771.7,489.8 L769.9,491.2 L768,492.5 L766.2,493.9 L764.4,495.3 L762.5,496.7 L760.6,498 L758.7,499.4 L756.8,500.7 L754.9,502.1 L753,503.4 L751,504.8 L749,506.1 L747,507.5 L745,508.8 L742.7,510.3 L740.4,511.7 L738.1,513.2 L735.7,514.6 L733.4,516.1 L731,517.5 L728.5,518.9 L726.1,520.3 L723.6,521.7 L721.1,523.1 L718.6,524.5 L716.1,525.9 L713.6,527.3 L711.1,528.6 L708.6,530 L706,531.4 L703.5,532.8 L701,534.2 L698.5,535.5 L697.6,536"/>
<polygon class="a" points="695.4,531.9 686,542.5 699.9,540.1"/>
<path class="e" d="M877.8,390.4 L877.1,392 L876.4,393.7 L875.8,395.3 L875.1,396.9 L874.5,398.6 L873.9,400.2 L873.2,401.8 L872.6,403.4 L872,405 L871.4,406.7 L870.8,408.3 L870.1,409.9 L869.5,411.5 L868.8,413.2 L868.1,414.8 L867.5,416.5 L866.7,418.1 L866,419.8 L865.3,421.4 L864.5,423.1 L863.7,424.8 L862.8,426.5 L861.9,428.3 L861,430 L859.8,432.2 L858.5,434.5 L857.2,436.7 L855.9,439.1 L854.5,441.4 L853.1,443.8 L851.6,446.2 L850.1,448.6 L848.6,451 L847,453.4 L845.4,455.9 L843.8,458.3 L842.2,460.7 L840.6,463.1 L838.9,465.5 L837.2,467.9 L835.6,470.3 L833.9,472.7 L832.2,475 L830.5,477.3 L828.8,479.5 L827.1,481.7 L825.5,483.9 L823.8,486 L822.3,487.9 L820.8,489.8 L819.2,491.6 L817.7,493.4 L816.2,495.2 L814.6,497 L813,498.8 L811.5,500.6 L809.9,502.3 L808.3,504 L806.7,505.7 L805.1,507.4 L803.5,509.1 L801.9,510.7 L800.3,512.4 L798.7,514 L797.1,515.6 L795.4,517.3 L793.8,518.9 L792.1,520.5 L790.5,522.1 L788.8,523.6 L787.2,525.2 L785.5,526.8 L783.9,528.3 L782.3,529.8 L780.6,531.3 L779,532.8 L777.3,534.3 L775.7,535.7 L774.1,537.2 L772.4,538.6 L770.7,540.1 L769.1,541.5 L767.4,542.9 L765.7,544.3 L764,545.7 L762.3,547.1 L760.6,548.5 L758.9,549.8 L757.2,551.2 L755.5,552.5 L753.8,553.9 L752,555.2 L750.3,556.5 L748.5,557.9 L746.8,559.2 L745,560.5 L743.2,561.8 L741.3,563.2 L739.4,564.5 L737.5,565.8 L735.5,567.2 L733.5,568.5 L731.5,569.9 L729.5,571.2 L727.4,572.5 L725.4,573.8 L723.4,575.1 L721.4,576.4 L719.4,577.7 L717.4,578.9 L715.4,580.1 L713.5,581.3 L711.6,582.5 L709.8,583.7 L708,584.8 L706.3,585.9 L704.6,586.9 L703,587.9 L701.5,588.9 L700,589.8 L699.2,590.3 L698.4,590.8 L697.6,591.3 L696.9,591.8 L696.2,592.3 L695.5,592.7 L694.8,593.1 L694.2,593.6 L693.6,594 L692.9,594.4 L692.3,594.8 L691.7,595.2 L691.1,595.5 L690.5,595.9 L689.9,596.3 L689.3,596.7 L688.7,597.1 L688,597.5 L687.4,597.9 L686.7,598.3 L686,598.7 L685.3,599.1 L684.6,599.6 L683.8,600 L682.8,600.6 L681.7,601.2 L680.6,601.8 L679.5,602.5 L678.3,603.1 L677.2,603.7 L676,604.4 L674.8,605 L673.5,605.7 L672.3,606.4 L671.1,607 L669.8,607.7 L668.6,608.4 L667.3,609 L666,609.7 L664.8,610.4 L663.5,611 L662.3,611.7 L661,612.3 L659.8,613 L658.6,613.6 L657.4,614.3 L656.2,614.9 L655,615.5 L653.9,616.1 L652.8,616.6 L651.8,617.2 L650.7,617.8 L649.6,618.3 L648.5,618.9 L647.5,619.4 L646.4,620 L645.3,620.6 L644.2,621.1 L643.2,621.7 L642.1,622.2 L641.1,622.7 L640,623.3 L639,623.8 L637.9,624.4 L636.9,624.9 L635.9,625.4 L634.9,625.9 L633.9,626.5 L632.9,627 L631.9,627.5 L631,628 L630,628.5 L629.2,628.9 L628.4,629.3 L627.6,629.8 L626.9,630.2 L626.1,630.6 L625.4,631 L624.6,631.4 L624.1,631.6"/>
<polygon class="a" points="621.9,627.5 612.4,638 626.3,635.8"/>
<path class="e" d="M885.6,390.4 L885.3,392.1 L885.1,393.7 L884.8,395.4 L884.5,397.1 L884.3,398.8 L884,400.5 L883.8,402.2 L883.5,403.9 L883.3,405.6 L883,407.3 L882.8,409 L882.5,410.7 L882.2,412.4 L882,414.1 L881.7,415.7 L881.4,417.4 L881.2,419 L880.9,420.7 L880.6,422.3 L880.3,423.9 L880,425.4 L879.7,427 L879.3,428.5 L879,430 L878.7,431.2 L878.4,432.4 L878.2,433.6 L877.9,434.7 L877.6,435.9 L877.3,437 L877.1,438.1 L876.8,439.1 L876.5,440.2 L876.2,441.3 L875.9,442.3 L875.6,443.4 L875.3,444.4 L875,445.5 L874.7,446.6 L874.3,447.6 L874,448.7 L873.6,449.8 L873.2,451 L872.8,452.1 L872.4,453.3 L871.9,454.5 L871.5,455.7 L871,457 L870.3,458.9 L869.5,460.8 L868.7,462.8 L867.8,464.9 L867,467 L866,469.1 L865.1,471.3 L864.1,473.5 L863.1,475.7 L862.1,478 L861,480.3 L859.9,482.6 L858.8,484.9 L857.7,487.2 L856.6,489.5 L855.4,491.7 L854.3,494 L853.1,496.2 L851.9,498.4 L850.8,500.6 L849.6,502.7 L848.4,504.8 L847.2,506.8 L846,508.8 L844.9,510.6 L843.8,512.3 L842.7,514 L841.6,515.7 L840.4,517.3 L839.3,518.9 L838.1,520.5 L836.9,522.1 L835.7,523.7 L834.6,525.3 L833.3,526.8 L832.1,528.4 L830.9,529.9 L829.7,531.4 L828.4,532.9 L827.2,534.5 L825.9,536 L824.7,537.6 L823.4,539.1 L822.1,540.6 L820.9,542.2 L819.6,543.8 L818.3,545.4 L817,547 L815.6,548.8 L814.1,550.6 L812.6,552.4 L811.1,554.3 L809.6,556.2 L808.1,558.1 L806.5,560 L804.9,561.9 L803.4,563.8 L801.8,565.7 L800.2,567.6 L798.6,569.5 L797,571.4 L795.4,573.3 L793.9,575.1 L792.3,576.9 L790.8,578.7 L789.3,580.5 L787.8,582.2 L786.3,583.9 L784.9,585.5 L783.5,587 L782.1,588.6 L780.8,590 L779.9,591 L779,591.9 L778.2,592.8 L777.3,593.7 L776.5,594.5 L775.7,595.3 L774.9,596.1 L774.1,596.9 L773.3,597.7 L772.6,598.5 L771.8,599.2 L771,599.9 L770.3,600.7 L769.5,601.4 L768.8,602.1 L768,602.9 L767.2,603.6 L766.4,604.4 L765.6,605.1 L764.8,605.9 L764,606.7 L763.2,607.5 L762.4,608.3 L761.5,609.2 L760.5,610.2 L759.4,611.3 L758.4,612.4 L757.3,613.4 L756.2,614.5 L755.1,615.6 L754,616.8 L752.9,617.9 L751.8,619 L750.7,620.2 L749.5,621.3 L748.4,622.4 L747.3,623.6 L746.1,624.8 L745,625.9 L743.8,627.1 L742.7,628.2 L741.5,629.4 L740.4,630.5 L739.2,631.7 L738.1,632.8 L736.9,634 L735.8,635.1 L734.6,636.2 L733.4,637.3 L732.3,638.5 L731.1,639.6 L729.9,640.7 L728.7,641.9 L727.5,643 L726.3,644.2 L725.1,645.3 L723.9,646.4 L722.8,647.6 L721.6,648.7 L720.4,649.8 L719.1,650.9 L717.9,652.1 L716.7,653.2 L715.5,654.3 L714.3,655.4 L713.1,656.5 L711.9,657.6 L710.7,658.7 L709.5,659.8 L708.2,660.9 L707,661.9 L705.8,663 L704.6,664 L703.4,665 L702.2,666.1 L701.1,667.1 L699.9,668.1 L698.7,669.1 L697.5,670.1 L696.3,671.1 L695.1,672.1 L693.9,673 L692.7,674 L691.5,675 L690.3,676 L689.1,676.9 L687.9,677.9 L686.7,678.8 L685.5,679.8 L684.3,680.7 L683.1,681.6 L681.9,682.6 L680.7,683.5 L679.4,684.4 L678.2,685.3 L677,686.2 L675.8,687.1 L674.6,687.9 L673.4,688.8 L672.2,689.6 L671,690.5 L669.8,691.3 L668.5,692.1 L667.3,693 L666.1,693.8 L664.8,694.6 L663.6,695.4 L662.4,696.2 L661.1,697 L659.9,697.8 L658.7,698.6 L657.5,699.3 L656.3,700.1 L655.1,700.9 L653.9,701.7 L652.7,702.4 L651.5,703.2 L650.3,703.9 L649.1,704.7 L648,705.4 L647,706 L646,706.7 L645,707.3 L643.9,708 L642.9,708.6 L641.9,709.3 L640.9,709.9 L639.9,710.5 L638.9,711.2 L637.9,711.8 L636.9,712.4 L635.9,713 L634.9,713.6 L634,714.3 L633,714.8 L632.1,715.4 L631.1,716 L630.2,716.6 L629.3,717.1 L628.4,717.7 L627.5,718.2 L626.7,718.8 L625.8,719.3 L625,719.8 L624.4,720.2 L624,720.4"/>
<polygon class="a" points="621.5,716.5 612.6,727.4 626.4,724.4"/>
<path class="e" d="M652,438.4 L651.8,435.9 L651.6,433.3 L651.4,430.7 L651.2,428.1 L651,425.6 L650.8,423 L650.6,420.4 L650.5,417.8 L650.3,415.1 L650.1,412.5 L649.9,410 L649.7,407.4 L649.5,404.8 L649.3,402.2 L649.1,399.6 L648.9,397.1 L648.7,394.6 L648.5,392.1 L648.3,389.6 L648,387.1 L647.8,384.7 L647.5,382.2 L647.3,379.9 L647,377.5 L646.8,375.5 L646.5,373.5 L646.2,371.4 L646,369.4 L645.7,367.4 L645.4,365.4 L645.2,363.4 L644.9,361.5 L644.6,359.5 L644.3,357.6 L644,355.6 L643.7,353.7 L643.4,351.8 L643.1,349.9 L642.8,348.1 L642.5,346.2 L642.2,344.4 L641.8,342.6 L641.5,340.9 L641.2,339.1 L640.9,337.4 L640.6,335.7 L640.3,334.1 L640,332.5 L639.8,331.3 L639.5,330.2 L639.3,329 L639.1,327.9 L638.8,326.8 L638.6,325.7 L638.3,324.6 L638.1,323.5 L637.8,322.4 L637.6,321.4 L637.4,320.4 L637.1,319.3 L636.9,318.3 L636.6,317.3 L636.4,316.3 L636.2,315.4 L635.9,314.4 L635.7,313.4 L635.5,312.5 L635.3,311.6 L635.1,310.7 L634.9,309.8 L634.7,308.9 L634.5,308 L634.4,307.5"/>
<polygon class="a" points="639,306.7 632,294.4 629.8,308.4"/>
<path class="e" d="M686,450.3 L838.6,389.3"/>
<polygon class="a" points="840.4,393.6 851,384.3 836.9,384.9"/>
<path class="e" d="M641.8,486.4 L641.2,521.1"/>
<polygon class="a" points="636.6,521 641,534.4 645.9,521.1"/>
<path class="e" d="M630,486.4 L629.4,487.4 L628.7,488.4 L628.1,489.4 L627.5,490.4 L626.9,491.4 L626.2,492.4 L625.6,493.4 L624.9,494.4 L624.3,495.4 L623.7,496.5 L623,497.5 L622.4,498.5 L621.8,499.5 L621.2,500.5 L620.5,501.5 L619.9,502.5 L619.3,503.4 L618.7,504.4 L618,505.4 L617.4,506.3 L616.8,507.3 L616.2,508.2 L615.6,509.1 L615,510 L614.5,510.8 L614,511.5 L613.4,512.2 L612.9,513 L612.4,513.7 L611.9,514.4 L611.3,515.1 L610.8,515.8 L610.3,516.5 L609.7,517.2 L609.2,517.9 L608.7,518.6 L608.2,519.3 L607.7,520 L607.2,520.6 L606.7,521.3 L606.2,522 L605.8,522.7 L605.3,523.3 L604.9,524 L604.5,524.7 L604.1,525.3 L603.7,526 L603.3,526.7 L603,527.3 L602.7,527.8 L602.5,528.4 L602.2,528.9 L602,529.4 L601.8,529.9 L601.6,530.5 L601.3,531 L601.2,531.5 L601,532 L600.8,532.5 L600.6,533 L600.4,533.6 L600.2,534.1 L600.1,534.6 L599.9,535.2 L599.7,535.7 L599.5,536.3 L599.3,536.9 L599.1,537.5 L598.9,538.1 L598.7,538.7 L598.5,539.3 L598.3,540 L598,541 L597.6,542.1 L597.2,543.2 L596.8,544.3 L596.4,545.5 L596,546.7 L595.6,547.9 L595.2,549.2 L594.8,550.4 L594.3,551.7 L593.9,553 L593.5,554.3 L593.1,555.7 L592.6,557 L592.2,558.3 L591.8,559.7 L591.4,561 L591,562.3 L590.7,563.6 L590.3,565 L589.9,566.2 L589.6,567.5 L589.3,568.8 L589,570 L588.7,571.1 L588.5,572.2 L588.3,573.3 L588.1,574.4 L587.9,575.4 L587.7,576.5 L587.5,577.6 L587.3,578.6 L587.2,579.7 L587,580.8 L586.9,581.8 L586.7,582.9 L586.6,583.9 L586.4,585 L586.3,586.1 L586.1,587.1 L586,588.2 L585.8,589.3 L585.7,590.4 L585.5,591.5 L585.4,592.6 L585.2,593.7 L585,594.8 L584.8,596 L584.6,597.3 L584.3,598.7 L584.1,600.1 L583.8,601.5 L583.6,602.9 L583.3,604.3 L583.1,605.7 L582.8,607.1 L582.5,608.6 L582.3,610 L582,611.4 L581.7,612.9 L581.4,614.4 L581.2,615.8 L580.9,617.3 L580.9,617.3"/>
<polygon class="a" points="576.3,616.4 578.4,630.4 585.5,618.2"/>
<path class="e" d="M623.3,486.4 L622.3,487.4 L621.4,488.4 L620.4,489.3 L619.4,490.3 L618.4,491.3 L617.5,492.2 L616.5,493.2 L615.5,494.1 L614.6,495.1 L613.6,496 L612.6,497 L611.7,498 L610.7,498.9 L609.7,499.9 L608.7,500.9 L607.8,501.9 L606.8,502.8 L605.8,503.8 L604.9,504.8 L603.9,505.8 L602.9,506.9 L601.9,507.9 L601,508.9 L600,510 L598.9,511.2 L597.9,512.3 L596.8,513.5 L595.7,514.7 L594.6,516 L593.5,517.2 L592.3,518.4 L591.2,519.7 L590.1,520.9 L589,522.2 L587.9,523.5 L586.8,524.8 L585.7,526 L584.6,527.3 L583.5,528.6 L582.4,529.9 L581.4,531.2 L580.3,532.4 L579.3,533.7 L578.3,535 L577.3,536.2 L576.4,537.5 L575.4,538.8 L574.5,540 L573.7,541.1 L573,542.2 L572.2,543.3 L571.5,544.3 L570.8,545.4 L570.1,546.5 L569.4,547.5 L568.7,548.6 L568.1,549.7 L567.4,550.8 L566.8,551.8 L566.1,552.9 L565.5,554 L564.9,555 L564.2,556.1 L563.6,557.2 L563,558.3 L562.4,559.4 L561.7,560.4 L561.1,561.5 L560.5,562.6 L559.8,563.8 L559.2,564.9 L558.5,566 L557.8,567.2 L557.1,568.4 L556.3,569.7 L555.6,570.9 L554.9,572.2 L554.1,573.4 L553.4,574.7 L552.6,576 L551.9,577.3 L551.1,578.6 L550.4,579.9 L549.7,581.1 L548.9,582.4 L548.2,583.7 L547.5,585 L546.8,586.3 L546.1,587.5 L545.4,588.8 L544.7,590 L544.1,591.2 L543.4,592.5 L542.8,593.7 L542.2,594.8 L541.6,596 L541.1,596.9 L540.7,597.8 L540.2,598.7 L539.8,599.6 L539.4,600.5 L538.9,601.4 L538.5,602.2 L538.1,603.1 L537.7,603.9 L537.3,604.8 L536.9,605.6 L536.5,606.4 L536.2,607.3 L535.8,608.1 L535.4,608.9 L535.1,609.8 L534.7,610.6 L534.4,611.5 L534,612.4 L533.7,613.3 L533.3,614.2 L533,615.1 L532.6,616 L532.3,617 L531.9,618.1 L531.5,619.3 L531.1,620.5 L530.7,621.7 L530.3,623 L530,624.2 L529.6,625.5 L529.2,626.8 L528.8,628.1 L528.4,629.4 L528.1,630.7 L527.7,632 L527.4,633.3 L527.1,634.6 L526.8,635.9 L526.5,637.2 L526.2,638.5 L525.9,639.8 L525.6,641 L525.4,642.2 L525.2,643.4 L525,644.6 L524.8,645.7 L524.7,646.8 L524.6,647.6 L524.5,648.4 L524.4,649.2 L524.4,649.9 L524.3,650.7 L524.3,651.4 L524.2,652.2 L524.2,652.9 L524.2,653.6 L524.2,654.3 L524.1,655 L524.1,655.7 L524.2,656.4 L524.2,657.1 L524.2,657.8 L524.2,658.5 L524.3,659.2 L524.3,659.9 L524.4,660.6 L524.5,661.2 L524.5,661.9 L524.6,662.6 L524.7,663.3 L524.8,664 L524.9,664.7 L525,665.3 L525.2,666 L525.3,666.7 L525.4,667.3 L525.6,668 L525.8,668.6 L525.9,669.2 L526.1,669.9 L526.3,670.5 L526.5,671.2 L526.7,671.8 L526.9,672.4 L527.1,673.1 L527.3,673.7 L527.6,674.4 L527.8,675 L528,675.7 L528.3,676.3 L528.5,677 L528.8,677.7 L529,678.4 L529.2,679.1 L529.5,679.8 L529.8,680.7 L530.1,681.6 L530.5,682.5 L530.8,683.4 L531.1,684.4 L531.5,685.3 L531.8,686.3 L532.2,687.3 L532.5,688.3 L532.9,689.2 L533.3,690.2 L533.6,691.2 L534,692.2 L534.4,693.2 L534.8,694.2 L535.3,695.2 L535.7,696.2 L536.1,697.2 L536.6,698.2 L537,699.2 L537.5,700.1 L538,701.1 L538.5,702.1 L539,703 L539.6,704 L540.2,705 L540.8,706 L541.4,707 L542,708 L542.7,709 L543.4,710 L544,711 L544.7,711.9 L545.4,712.9 L546.2,713.9 L546.9,714.9 L547.6,715.9 L547.6,715.9"/>
<polygon class="a" points="543.9,718.7 555.6,726.6 551.4,713.1"/>
<path class="e" d="M640,534.4 L639.7,534 L639.4,533.6 L639.2,533.3 L638.9,532.9 L638.6,532.6 L638.4,532.2 L638.1,531.9 L637.8,531.5 L637.5,531.2 L637.3,530.8 L637,530.5 L636.7,530.1 L636.5,529.7 L636.2,529.4 L635.9,529 L635.6,528.6 L635.4,528.2 L635.1,527.8 L634.8,527.4 L634.5,526.9 L634.2,526.5 L633.9,526 L633.6,525.5 L633.3,525 L632.8,524.1 L632.2,523 L631.6,522 L631,520.8 L630.3,519.7 L629.7,518.4 L629,517.2 L628.4,515.8 L627.7,514.5 L627,513.1 L626.4,511.7 L625.7,510.3 L625,508.9 L624.3,507.4 L623.7,506 L623,504.5 L622.3,503.1 L621.7,501.6 L621.1,500.2 L620.5,498.8 L619.9,497.4 L619.3,496 L618.8,494.6 L618.3,493.3 L617.9,492.1 L617.4,490.9 L617,489.7 L616.6,488.6 L616.2,487.4 L615.8,486.2 L615.4,485 L615,483.9 L614.6,482.7 L614.3,481.5 L613.9,480.4 L613.6,479.2 L613.2,478 L612.9,476.8 L612.6,475.7 L612.3,474.5 L612,473.3 L611.7,472.1 L611.4,471 L611.1,469.8 L610.8,468.6 L610.5,467.4 L610.3,466.2 L610,465 L609.7,463.8 L609.5,462.5 L609.2,461.3 L609,460 L608.8,458.8 L608.6,457.5 L608.4,456.3 L608.2,455 L608,453.7 L607.8,452.5 L607.6,451.2 L607.4,449.9 L607.2,448.7 L607.1,447.4 L606.9,446.1 L606.8,444.9 L606.6,443.6 L606.5,442.3 L606.4,441.1 L606.2,439.9 L606.1,438.6 L606,437.4 L605.9,436.2 L605.8,435 L605.7,433.9 L605.6,432.9 L605.5,431.8 L605.5,430.7 L605.4,429.7 L605.4,428.7 L605.3,427.6 L605.2,426.6 L605.2,425.6 L605.2,424.6 L605.1,423.6 L605.1,422.6 L605.1,421.6 L605,420.5 L605,419.5 L605,418.5 L605,417.5 L605,416.4 L605,415.4 L605,414.3 L605,413.3 L605,412.2 L605,411.1 L605,410 L605,408.7 L605,407.5 L605,406.2 L605.1,404.9 L605.1,403.6 L605.1,402.3 L605.2,401 L605.2,399.7 L605.3,398.4 L605.3,397 L605.4,395.7 L605.5,394.3 L605.5,393 L605.6,391.6 L605.7,390.3 L605.7,388.9 L605.8,387.5 L605.9,386.1 L606,384.7 L606.1,383.3 L606.2,381.8 L606.3,380.4 L606.4,379 L606.5,377.5 L606.6,375.8 L606.8,374 L606.9,372.1 L607,370.3 L607.2,368.4 L607.4,366.4 L607.5,364.5 L607.7,362.5 L607.9,360.5 L608,358.6 L608.2,356.6 L608.4,354.6 L608.6,352.6 L608.8,350.6 L609,348.7 L609.2,346.7 L609.4,344.8 L609.6,342.9 L609.8,341.1 L610.1,339.3 L610.3,337.5 L610.5,335.8 L610.8,334.1 L611,332.5 L611.2,331.3 L611.4,330.2 L611.6,329 L611.7,327.9 L611.9,326.8 L612.1,325.7 L612.3,324.6 L612.5,323.5 L612.8,322.4 L613,321.4 L613.2,320.3 L613.4,319.3 L613.6,318.3 L613.8,317.3 L614,316.3 L614.3,315.3 L614.5,314.4 L614.7,313.4 L614.9,312.5 L615.1,311.6 L615.3,310.7 L615.6,309.8 L615.8,308.9 L616,308 L616.2,307.4 L616.2,307.2"/>
<polygon class="a" points="620.7,308.5 620,294.4 611.7,305.9"/>
<path class="e" d="M658,534.4 L658.4,499.7"/>
<polygon class="a" points="663,499.8 658.5,486.4 653.7,499.7"/>
<path class="e" d="M631,582.4 L603,619.7"/>
<polygon class="a" points="599.3,616.9 595,630.4 606.7,622.5"/>
<path class="e" d="M647.2,582.4 L647.1,582.7 L647.1,583 L647,583.3 L647,583.6 L646.9,583.9 L646.9,584.2 L646.8,584.5 L646.8,584.8 L646.7,585.1 L646.7,585.4 L646.6,585.7 L646.6,586 L646.5,586.3 L646.5,586.6 L646.4,587 L646.4,587.3 L646.3,587.6 L646.3,587.9 L646.2,588.2 L646.2,588.6 L646.1,588.9 L646.1,589.3 L646,589.6 L646,590 L645.9,590.5 L645.9,591.1 L645.8,591.6 L645.7,592.2 L645.7,592.7 L645.6,593.3 L645.6,593.9 L645.5,594.5 L645.5,595.1 L645.4,595.7 L645.4,596.3 L645.3,597 L645.2,597.6 L645.2,598.3 L645.1,598.9 L645.1,599.6 L645,600.2 L644.9,600.9 L644.9,601.6 L644.8,602.2 L644.7,602.9 L644.7,603.6 L644.6,604.3 L644.5,605 L644.4,605.9 L644.3,606.8 L644.2,607.7 L644.1,608.6 L644,609.5 L643.9,610.4 L643.8,611.4 L643.7,612.3 L643.6,613.3 L643.5,614.2 L643.4,615.2 L643.3,616.2 L643.2,617.2 L643,618.2 L642.9,619.2 L642.8,620.2 L642.6,621.2 L642.5,622.2 L642.3,623.3 L642.1,624.3 L641.9,625.3 L641.7,626.4 L641.5,627.4 L641.3,628.5 L641,629.8 L640.7,631.2 L640.3,632.6 L640,634 L639.6,635.4 L639.2,636.9 L638.8,638.4 L638.4,639.9 L637.9,641.4 L637.5,642.9 L637,644.4 L636.6,645.9 L636.1,647.4 L635.6,648.9 L635.1,650.4 L634.7,651.9 L634.2,653.4 L633.7,654.8 L633.2,656.2 L632.7,657.7 L632.2,659 L631.7,660.4 L631.3,661.7 L630.8,663 L630.4,664 L630.1,665 L629.7,666 L629.3,667 L628.9,667.9 L628.6,668.9 L628.2,669.8 L627.8,670.7 L627.5,671.6 L627.1,672.5 L626.7,673.4 L626.4,674.3 L626,675.1 L625.6,676 L625.2,676.9 L624.8,677.8 L624.4,678.7 L624,679.5 L623.6,680.4 L623.1,681.3 L622.7,682.2 L622.2,683.1 L621.8,684.1 L621.3,685 L620.7,686.1 L620.2,687.2 L619.6,688.3 L618.9,689.4 L618.3,690.5 L617.6,691.7 L617,692.8 L616.3,694 L615.6,695.2 L614.9,696.3 L614.2,697.5 L613.5,698.6 L612.8,699.8 L612.1,700.9 L611.4,702 L610.7,703.2 L610,704.3 L609.3,705.4 L608.7,706.4 L608,707.5 L607.4,708.5 L606.7,709.6 L606.1,710.5 L605.5,711.5 L605.1,712.2 L604.6,712.9 L604.2,713.6 L603.8,714.3 L603.3,714.9 L603,715.4"/>
<polygon class="a" points="599.1,712.9 595.7,726.6 606.9,718"/>
<path class="e" d="M568.4,678.4 L568.4,679.1 L568.3,679.8 L568.3,680.5 L568.2,681.2 L568.2,681.9 L568.1,682.6 L568.1,683.3 L568,683.9 L568,684.6 L568,685.3 L567.9,686 L567.9,686.7 L567.8,687.4 L567.8,688.1 L567.7,688.8 L567.7,689.5 L567.7,690.2 L567.6,690.9 L567.6,691.7 L567.6,692.4 L567.5,693.2 L567.5,694 L567.5,694.8 L567.5,695.6 L567.5,696.7 L567.5,697.9 L567.5,699 L567.5,700.2 L567.6,701.5 L567.6,702.7 L567.6,704 L567.7,705.3 L567.7,706.6 L567.8,707.9 L567.8,709.2 L567.9,710.5 L567.9,711.9 L568,713.2 L568,713.3"/>
<polygon class="a" points="563.3,713.5 568.6,726.6 572.7,713.1"/>
<path class="e" d="M584.4,726.4 L584.4,725.5 L584.5,724.6 L584.5,723.7 L584.5,722.9 L584.6,722 L584.6,721.1 L584.7,720.2 L584.7,719.4 L584.8,718.5 L584.8,717.6 L584.8,716.7 L584.9,715.8 L584.9,715 L585,714.1 L585,713.2 L585,712.3 L585.1,711.4 L585.1,710.5 L585.1,709.6 L585.1,708.7 L585.2,707.8 L585.2,706.9 L585.2,705.9 L585.2,705 L585.2,703.9 L585.2,702.9 L585.2,701.8 L585.2,700.7 L585.1,699.6 L585.1,698.6 L585.1,697.5 L585.1,696.3 L585,695.2 L585,694.1 L585,693 L584.9,691.9 L584.9,691.7"/>
<polygon class="a" points="589.6,691.5 584.4,678.4 580.2,691.9"/>
<text x="316" y="89.6" text-anchor="middle">2</text>
<text x="314.4" y="179.6" text-anchor="middle" letter-spacing="-0.4">10</text>
<text x="586.8" y="173.9" text-anchor="middle">6</text>
<text x="643.8" y="236.3" text-anchor="middle" letter-spacing="-0.4">14</text>
<text x="867.8" y="145.4" text-anchor="middle">1</text>
<text x="899.6" y="328.5" text-anchor="middle">9</text>
<text x="988.8" y="135.1" text-anchor="middle">2</text>
<text x="1081.8" y="147.6" text-anchor="middle" letter-spacing="-0.4">13</text>
<text x="1240.4" y="150.5" text-anchor="middle" letter-spacing="-0.4">11</text>
<text x="1270.8" y="229.9" text-anchor="middle">9</text>
<text x="670.4" y="426.4" text-anchor="middle">9</text>
<text x="706.4" y="556.9" text-anchor="middle" letter-spacing="-0.4">10</text>
<text x="526.4" y="632" text-anchor="middle" letter-spacing="-0.4">12</text>
<text x="631" y="761.1" text-anchor="middle">6</text>
<text x="267" y="134.6" text-anchor="middle">6</text>
<text x="625.5" y="230.9" text-anchor="middle">3</text>
<text x="522.6" y="645.2" text-anchor="middle">7</text>
<text x="553" y="246.9" text-anchor="middle" letter-spacing="-0.4">34</text>
<text x="606" y="422.9" text-anchor="middle">7</text>
<text x="600.4" y="538.1" text-anchor="middle" letter-spacing="-0.4">12</text>
<text x="528.9" y="617.2" text-anchor="middle" letter-spacing="-0.4">81</text>
<text x="531" y="711.7" text-anchor="middle">9</text>
<text x="592.4" y="229.9" text-anchor="middle" letter-spacing="-0.4">15</text>
<text x="630" y="421.9" text-anchor="middle" letter-spacing="-0.4">17</text>
<text x="614.2" y="517.9" text-anchor="middle" letter-spacing="-0.4">12</text>
<text x="576.2" y="614.5" text-anchor="middle" letter-spacing="-0.4">25</text>
<text x="693.4" y="249.9" text-anchor="middle" letter-spacing="-0.4">20</text>
<text x="881" y="324.9" text-anchor="middle">2</text>
<text x="703.1" y="436.5" text-anchor="middle" letter-spacing="-0.4">19</text>
<text x="683" y="526.6" text-anchor="middle" letter-spacing="-0.4">31</text>
<text x="633.4" y="651.3" text-anchor="middle" letter-spacing="-0.4">18</text>
<text x="695" y="264.9" text-anchor="middle">3</text>
<text x="921.7" y="335.9" text-anchor="middle">2</text>
<text x="705" y="550.9" text-anchor="middle">5</text>
<text x="633.1" y="652.2" text-anchor="middle" letter-spacing="-0.4">18</text>
<text x="630.8" y="755.6" text-anchor="middle">8</text>
<text x="965" y="109.9" text-anchor="middle">1</text>
<text x="1244" y="233.9" text-anchor="middle">1</text>
<text x="632" y="660.5" text-anchor="middle">2</text>
<text x="967.5" y="98.9" text-anchor="middle">4</text>
<text x="1299" y="230.4" text-anchor="middle">5</text>
<text x="836.6" y="344.3" text-anchor="middle">2</text>
<text x="643.4" y="421.9" text-anchor="middle">9</text>
<text x="614.6" y="518.3" text-anchor="middle" letter-spacing="-0.4">12</text>
<text x="582.6" y="614.7" text-anchor="middle" letter-spacing="-0.4">18</text>
<text x="544.8" y="710.6" text-anchor="middle">9</text>
<text x="690" y="304.9" text-anchor="middle" letter-spacing="-0.4">28</text>
<text x="705.7" y="448.8" text-anchor="middle">6</text>
<text x="706" y="543.9" text-anchor="middle">2</text>
<text x="632.6" y="639.9" text-anchor="middle" letter-spacing="-0.4">21</text>
<text x="631.3" y="727.6" text-anchor="middle">4</text>
<text x="627.6" y="317.7" text-anchor="middle" letter-spacing="-0.4">15</text>
<text x="831" y="386.4" text-anchor="middle">1</text>
<text x="648.6" y="519.4" text-anchor="middle">1</text>
<text x="590.2" y="615.3" text-anchor="middle" letter-spacing="-0.4">60</text>
<text x="551.2" y="710.6" text-anchor="middle">4</text>
<text x="607.8" y="314.9" text-anchor="middle">8</text>
<text x="650" y="508.6" text-anchor="middle" letter-spacing="-0.4">15</text>
<text x="613.7" y="623.5" text-anchor="middle" letter-spacing="-0.4">11</text>
<text x="613.7" y="718.3" text-anchor="middle">5</text>
<text x="576" y="710.6" text-anchor="middle">2</text>
<text x="577" y="700.6" text-anchor="middle" letter-spacing="-0.4">27</text>
</svg>
</body></html>
